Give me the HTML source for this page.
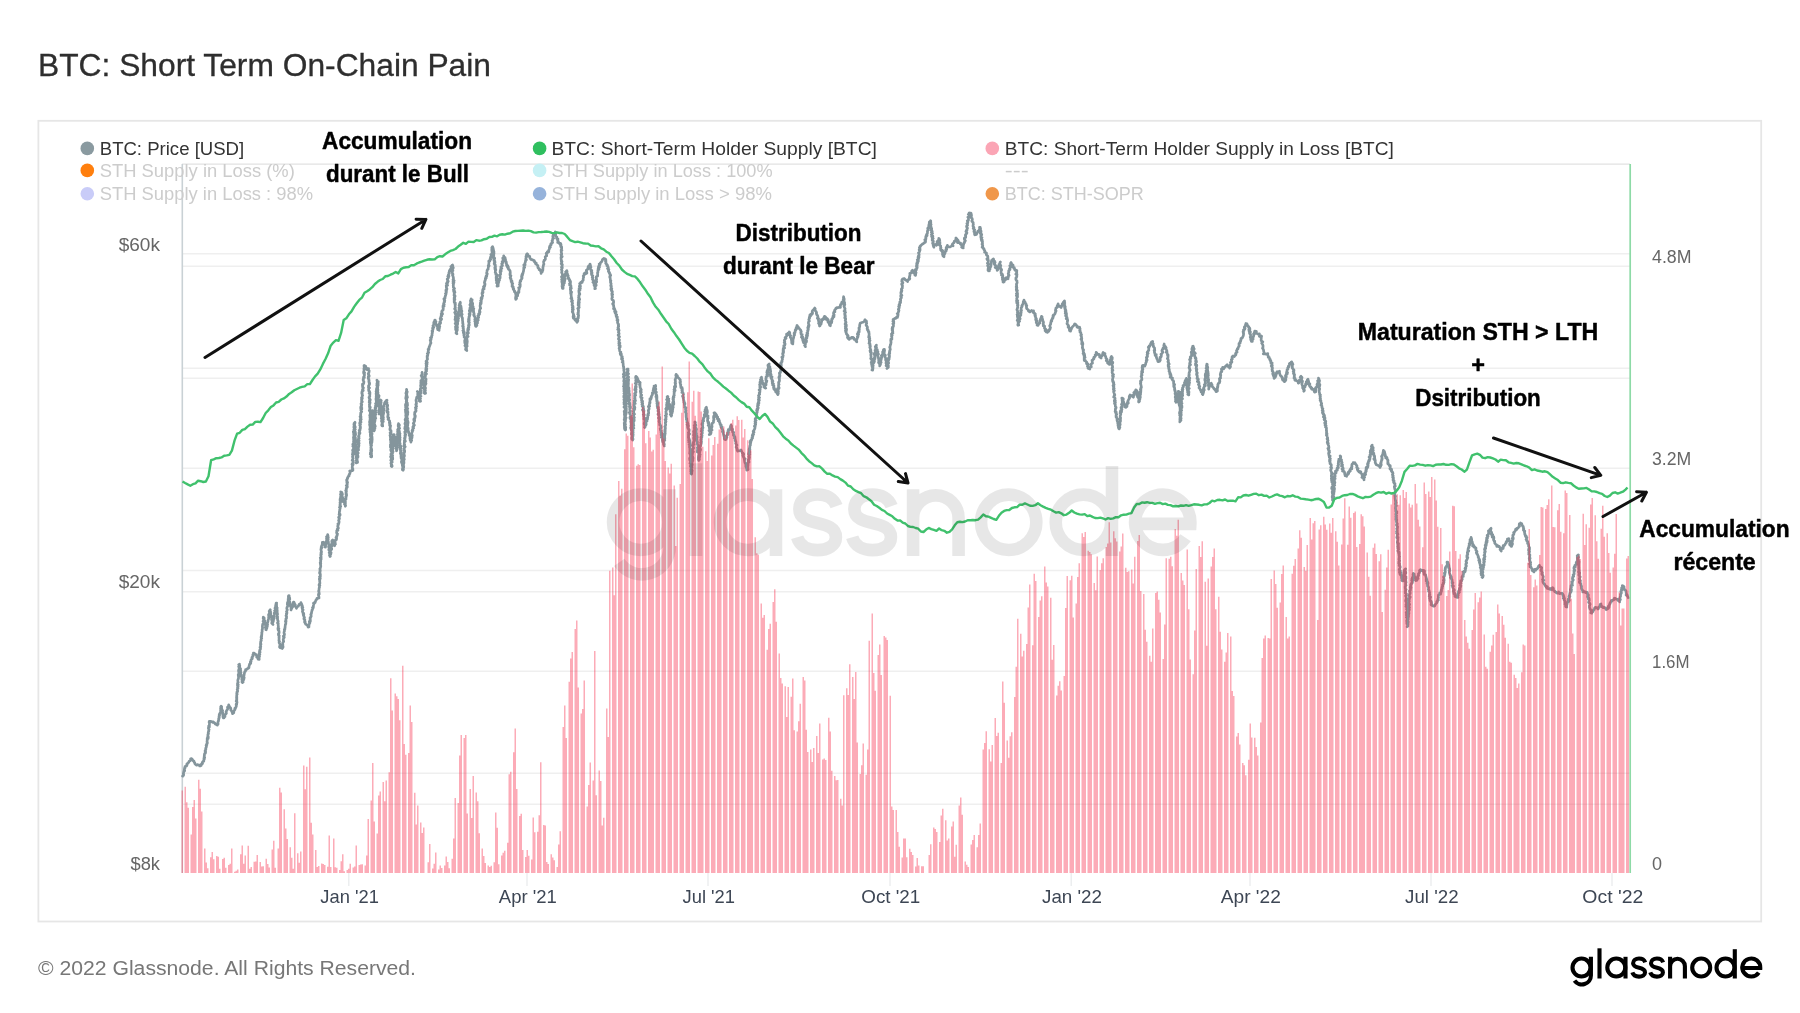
<!DOCTYPE html>
<html><head><meta charset="utf-8"><title>BTC: Short Term On-Chain Pain</title>
<style>
html,body{margin:0;padding:0;background:#fff;}
body{width:1800px;height:1013px;overflow:hidden;font-family:"Liberation Sans",sans-serif;}
svg{display:block;filter:blur(0.4px)}
</style></head><body>
<svg width="1800" height="1013" viewBox="0 0 1800 1013" font-family="Liberation Sans, sans-serif">
<rect width="1800" height="1013" fill="#fff"/>
<rect x="38.4" y="120.8" width="1722.8" height="800.7" fill="none" stroke="#e6e6e6" stroke-width="1.8"/>
<g stroke="#efefef" stroke-width="1.4"><line x1="182.0" x2="1630.0" y1="253.75" y2="253.75"/><line x1="182.0" x2="1630.0" y1="266.25" y2="266.25"/><line x1="182.0" x2="1630.0" y1="368.25" y2="368.25"/><line x1="182.0" x2="1630.0" y1="378.25" y2="378.25"/><line x1="182.0" x2="1630.0" y1="468.25" y2="468.25"/><line x1="182.0" x2="1630.0" y1="570.50" y2="570.50"/><line x1="182.0" x2="1630.0" y1="591.75" y2="591.75"/><line x1="182.0" x2="1630.0" y1="671.25" y2="671.25"/><line x1="182.0" x2="1630.0" y1="773.25" y2="773.25"/><line x1="182.0" x2="1630.0" y1="804.25" y2="804.25"/></g>
<line x1="182.0" x2="1630.0" y1="164.2" y2="164.2" stroke="#e2e2e2" stroke-width="1.2"/>
<g stroke="#eceeef" stroke-width="1.5"><line x1="348.75" x2="348.75" y1="873" y2="886"/><line x1="527.00" x2="527.00" y1="873" y2="886"/><line x1="708.00" x2="708.00" y1="873" y2="886"/><line x1="890.00" x2="890.00" y1="873" y2="886"/><line x1="1071.25" x2="1071.25" y1="873" y2="886"/><line x1="1250.00" x2="1250.00" y1="873" y2="886"/><line x1="1431.00" x2="1431.00" y1="873" y2="886"/><line x1="1612.00" x2="1612.00" y1="873" y2="886"/></g>
<line x1="182.3" x2="182.3" y1="164" y2="873" stroke="#c9d1d5" stroke-width="1.6"/>
<g font-size="18" ><circle cx="87.3" cy="148.4" r="6.8" fill="#8a9aa0"/><text x="99.75" y="154.6" fill="#333" textLength="144.4" lengthAdjust="spacingAndGlyphs">BTC: Price [USD]</text><circle cx="87.3" cy="170.4" r="6.8" fill="#ff7f0e"/><text x="99.75" y="176.6" fill="#cccccc" textLength="195.1" lengthAdjust="spacingAndGlyphs">STH Supply in Loss (%)</text><circle cx="87.3" cy="193.8" r="6.8" fill="#c9ccf8"/><text x="99.75" y="200.0" fill="#cccccc" textLength="213.3" lengthAdjust="spacingAndGlyphs">STH Supply in Loss : 98%</text><circle cx="539.6" cy="148.4" r="6.8" fill="#2fbf5f"/><text x="551.50" y="154.6" fill="#333" textLength="325.4" lengthAdjust="spacingAndGlyphs">BTC: Short-Term Holder Supply [BTC]</text><circle cx="539.6" cy="170.4" r="6.8" fill="#c5f0f4"/><text x="551.50" y="176.6" fill="#cccccc" textLength="221.1" lengthAdjust="spacingAndGlyphs">STH Supply in Loss : 100%</text><circle cx="539.6" cy="193.8" r="6.8" fill="#96b3db"/><text x="551.50" y="200.0" fill="#cccccc" textLength="220.4" lengthAdjust="spacingAndGlyphs">STH Supply in Loss &gt; 98%</text><circle cx="992.3" cy="148.4" r="6.8" fill="#fba5b5"/><text x="1004.75" y="154.6" fill="#333" textLength="389.1" lengthAdjust="spacingAndGlyphs">BTC: Short-Term Holder Supply in Loss [BTC]</text><text x="1004.75" y="176.6" fill="#cccccc" textLength="23.9" lengthAdjust="spacingAndGlyphs">---</text><circle cx="992.3" cy="193.8" r="6.8" fill="#f0974a"/><text x="1004.75" y="200.0" fill="#cccccc" textLength="139.1" lengthAdjust="spacingAndGlyphs">BTC: STH-SOPR</text></g>
<path d="M182.1 777.0 L182.6 776.1 L182.5 776.1 L183.2 775.7 L183.7 774.9 L183.3 773.5 L183.4 773.1 L183.8 772.6 L183.8 772.2 L183.9 771.1 L184.7 770.7 L184.3 769.4 L184.9 768.4 L184.5 768.2 L185.0 767.1 L185.0 766.5 L186.1 766.1 L186.7 765.9 L187.1 764.6 L186.8 764.1 L187.4 763.9 L187.5 763.6 L187.9 762.8 L188.5 762.7 L189.1 761.6 L189.1 761.2 L190.1 760.8 L190.8 760.2 L190.6 758.8 L191.5 758.6 L191.7 759.1 L192.2 759.1 L192.3 759.4 L193.3 760.9 L194.0 761.1 L194.2 762.3 L194.8 762.9 L194.9 763.7 L195.4 764.2 L196.6 765.2 L197.2 764.7 L197.7 764.7 L198.9 765.1 L199.7 765.1 L199.8 766.0 L200.3 765.9 L201.1 765.6 L201.2 764.3 L201.6 764.4 L201.9 763.7 L202.5 763.5 L202.2 762.5 L202.9 761.6 L203.8 761.2 L203.9 759.7 L204.3 759.0 L203.9 759.0 L204.0 757.8 L204.7 757.8 L204.2 756.6 L204.3 755.7 L204.4 755.9 L204.4 754.5 L204.6 753.7 L205.1 753.7 L205.5 752.9 L205.6 751.6 L205.2 751.9 L205.1 750.6 L205.7 749.9 L205.9 749.0 L205.7 749.2 L205.7 748.4 L205.9 747.8 L206.5 746.7 L206.1 745.4 L206.9 744.8 L206.4 744.7 L207.2 743.2 L207.4 743.0 L207.0 741.8 L207.1 742.0 L207.2 740.4 L207.1 739.7 L207.4 739.7 L207.2 738.2 L208.2 738.3 L208.3 736.8 L207.7 736.8 L207.9 735.9 L207.9 734.5 L208.0 734.5 L208.5 733.6 L208.2 732.9 L208.3 732.1 L208.8 731.1 L208.6 731.1 L208.9 729.7 L209.1 729.6 L208.4 728.3 L208.5 727.4 L209.4 727.0 L209.3 726.0 L208.6 726.1 L209.4 725.5 L209.4 724.3 L209.5 723.2 L209.4 722.8 L209.1 722.3 L209.3 721.4 L210.1 721.3 L210.7 721.4 L212.0 721.7 L212.6 721.9 L212.7 722.4 L213.4 722.0 L214.3 722.9 L214.8 723.1 L215.3 724.0 L216.0 724.0 L216.5 724.7 L217.5 724.7 L217.4 725.2 L217.2 724.3 L218.1 723.9 L217.5 723.4 L217.9 722.8 L218.1 721.4 L218.4 721.4 L218.4 720.7 L218.8 719.5 L218.6 719.0 L218.8 718.2 L219.2 718.0 L219.3 716.6 L219.0 716.2 L219.6 715.3 L219.2 714.8 L219.5 713.8 L219.9 714.0 L220.0 713.1 L220.5 712.5 L220.7 711.4 L220.6 710.4 L220.9 709.9 L220.7 709.7 L220.6 708.3 L221.3 708.0 L220.7 706.8 L221.1 706.1 L221.7 706.9 L221.3 707.8 L221.7 708.5 L221.9 709.4 L221.9 709.4 L222.6 710.7 L221.8 711.0 L222.6 712.2 L222.1 711.9 L222.6 712.9 L223.2 713.9 L222.7 714.1 L223.1 715.2 L222.9 715.4 L222.9 716.2 L223.0 717.2 L223.6 717.4 L223.3 717.9 L224.0 717.9 L224.3 716.8 L225.0 716.7 L224.8 715.7 L224.8 715.8 L224.9 714.9 L225.6 714.2 L226.0 714.0 L226.4 713.2 L226.0 711.8 L226.4 711.3 L226.4 711.1 L226.7 710.4 L227.7 708.9 L227.9 708.5 L227.5 707.5 L227.5 707.1 L228.1 706.7 L228.8 705.2 L228.7 704.8 L228.7 705.2 L229.1 706.3 L229.5 706.3 L229.6 707.2 L230.3 707.7 L230.7 708.2 L230.9 709.2 L230.7 710.0 L231.2 710.4 L231.7 711.2 L231.9 711.5 L232.5 713.2 L232.5 713.7 L232.6 713.6 L233.4 712.5 L233.8 712.8 L233.7 712.0 L234.2 710.4 L234.8 709.8 L235.1 709.2 L234.8 708.4 L235.9 707.6 L235.9 707.3 L236.2 706.4 L236.4 706.0 L236.1 704.6 L236.7 704.3 L236.3 704.0 L236.9 702.9 L237.0 702.5 L236.8 701.3 L236.2 701.0 L236.9 699.9 L236.7 699.4 L236.5 698.9 L236.9 697.9 L236.5 697.3 L236.8 696.8 L236.7 695.8 L236.7 695.1 L237.2 694.1 L236.7 693.8 L236.9 693.1 L236.9 692.0 L237.3 692.1 L237.7 691.0 L237.3 689.9 L237.2 689.4 L237.9 688.5 L238.0 688.2 L237.5 687.3 L238.1 686.5 L237.8 686.1 L237.4 685.1 L238.3 685.0 L238.1 684.4 L237.5 683.5 L238.2 682.3 L238.0 682.4 L237.9 681.4 L237.8 680.6 L237.9 679.8 L238.1 679.4 L238.5 678.4 L238.5 677.6 L238.7 676.7 L238.4 676.3 L238.3 675.1 L238.2 675.0 L238.3 674.4 L238.6 673.9 L239.0 673.0 L238.6 671.6 L238.8 671.6 L239.2 670.4 L238.5 670.4 L239.1 669.2 L239.2 668.2 L239.0 668.0 L239.2 666.8 L238.7 666.6 L239.5 665.4 L238.7 664.6 L239.5 664.2 L239.3 665.5 L239.6 665.5 L239.8 665.9 L239.5 667.3 L239.5 667.3 L240.0 668.3 L240.6 668.7 L240.5 669.7 L240.6 670.4 L240.6 671.0 L240.3 671.8 L241.0 672.4 L240.5 673.1 L240.5 673.7 L241.1 674.6 L241.3 675.0 L240.8 675.4 L241.3 676.3 L241.6 677.1 L241.9 678.1 L241.9 679.0 L241.9 679.4 L241.8 679.7 L242.4 680.9 L241.9 682.0 L242.5 682.4 L242.4 682.6 L243.2 682.0 L242.7 682.2 L242.6 681.0 L243.1 680.1 L243.8 679.6 L243.0 678.9 L243.2 678.4 L244.2 677.8 L243.5 676.8 L244.0 675.9 L244.1 674.9 L244.1 674.5 L244.3 674.1 L244.4 673.3 L244.7 671.7 L245.4 671.3 L245.6 670.6 L245.6 669.5 L246.3 669.6 L247.3 668.8 L247.0 669.1 L248.5 668.2 L249.0 667.6 L248.9 666.8 L249.3 665.6 L249.2 665.6 L249.4 664.8 L249.6 664.1 L250.3 663.9 L250.8 663.0 L250.3 662.3 L250.4 661.6 L251.1 661.4 L251.0 660.3 L251.1 659.7 L251.7 659.1 L252.3 658.7 L252.0 657.9 L251.9 657.5 L252.9 656.4 L253.1 655.6 L252.8 654.9 L253.0 654.6 L253.7 653.9 L253.4 653.1 L254.1 653.1 L254.6 653.5 L254.7 653.8 L255.6 654.6 L256.2 654.7 L256.6 655.9 L256.9 656.8 L256.7 657.2 L257.9 657.2 L258.0 658.7 L258.1 659.2 L259.2 659.4 L258.5 658.5 L259.2 658.1 L258.8 657.4 L259.5 656.5 L258.7 656.5 L259.1 655.3 L259.8 654.5 L259.0 654.5 L259.2 653.1 L260.0 652.5 L260.1 652.0 L259.5 651.2 L259.9 650.9 L259.8 650.2 L259.8 649.9 L260.5 649.1 L260.5 647.8 L260.0 647.3 L260.0 647.4 L260.8 646.7 L260.5 645.3 L260.5 644.6 L261.0 644.1 L260.5 644.2 L260.5 643.5 L260.7 642.6 L260.6 642.2 L260.9 641.0 L261.3 640.6 L261.0 639.5 L261.4 638.6 L261.7 638.2 L261.1 637.5 L261.2 636.7 L261.7 636.1 L261.5 635.3 L261.8 635.0 L261.8 634.3 L261.9 632.9 L261.7 632.9 L262.1 631.7 L262.2 631.4 L262.1 630.2 L262.2 629.1 L262.5 628.9 L262.5 628.1 L262.6 627.6 L262.4 627.2 L262.4 626.3 L262.5 625.5 L262.7 624.1 L263.1 624.1 L263.4 623.4 L263.7 621.8 L263.1 621.2 L263.6 620.9 L263.7 620.5 L264.0 619.7 L264.0 618.9 L263.2 618.6 L263.3 617.1 L264.2 618.0 L264.2 618.4 L263.9 619.8 L263.8 620.4 L264.9 620.8 L264.8 622.0 L264.8 622.8 L265.1 622.7 L264.7 624.0 L265.6 624.4 L265.4 624.9 L265.8 625.9 L265.6 626.8 L265.3 627.5 L266.1 628.3 L265.8 628.3 L265.8 629.7 L266.2 629.8 L266.4 629.4 L266.3 628.3 L266.9 628.0 L266.6 626.6 L267.3 626.5 L267.1 625.5 L267.6 624.8 L267.0 623.8 L267.3 623.6 L267.4 623.3 L267.8 622.1 L268.0 621.6 L268.0 620.8 L268.1 620.2 L268.5 619.2 L268.6 618.6 L268.8 617.7 L268.6 617.4 L268.9 616.5 L268.6 615.8 L269.0 615.6 L268.6 614.5 L268.9 614.6 L269.3 613.5 L269.3 612.9 L269.9 612.2 L269.2 611.3 L269.9 610.2 L270.3 609.7 L269.9 610.8 L270.3 611.3 L270.7 612.1 L270.3 612.3 L270.6 613.3 L270.8 614.0 L270.3 614.4 L270.6 615.1 L271.4 616.3 L270.9 617.2 L271.4 617.2 L271.7 618.1 L272.0 618.7 L271.5 619.6 L272.1 620.8 L272.0 620.9 L272.0 622.1 L271.7 623.1 L272.6 623.8 L272.6 624.2 L273.0 624.5 L272.4 623.7 L272.4 623.7 L272.4 622.9 L272.9 622.3 L273.3 621.4 L273.5 620.1 L273.1 619.7 L273.4 619.4 L273.9 618.8 L274.1 618.0 L273.6 617.2 L274.2 616.8 L273.9 615.6 L274.3 614.8 L274.6 613.9 L274.5 613.7 L274.2 613.1 L274.6 612.8 L275.1 611.8 L275.2 611.4 L274.6 610.7 L275.4 610.2 L275.5 608.9 L275.0 608.4 L275.1 607.8 L275.6 607.2 L275.5 606.0 L276.2 605.6 L275.8 604.8 L276.0 604.2 L276.1 603.1 L276.7 603.0 L276.6 603.1 L276.1 604.3 L276.7 604.9 L276.2 605.7 L276.6 606.0 L276.7 606.8 L276.8 607.8 L277.2 607.9 L276.8 609.4 L277.0 609.7 L277.2 609.9 L277.2 611.2 L277.1 611.6 L277.2 612.1 L277.2 613.0 L277.6 614.2 L277.2 614.9 L277.2 615.4 L277.0 616.4 L277.7 617.0 L277.1 617.8 L277.1 618.3 L277.6 618.5 L277.6 620.0 L277.8 620.2 L278.1 621.0 L278.2 621.7 L277.5 623.0 L277.5 623.0 L278.3 623.6 L278.1 625.0 L278.2 625.3 L278.4 626.4 L278.3 627.0 L278.1 627.5 L278.9 628.7 L277.9 628.7 L278.2 630.0 L278.2 630.1 L278.9 630.8 L279.1 631.8 L279.1 632.9 L278.5 633.6 L278.7 633.7 L278.4 634.9 L279.0 635.3 L279.3 635.9 L279.0 636.5 L279.0 638.0 L279.2 637.9 L279.0 639.1 L279.1 640.1 L278.9 640.7 L279.5 641.4 L279.3 641.3 L279.2 642.6 L279.1 642.7 L279.9 644.2 L280.1 644.9 L279.8 645.6 L280.0 646.0 L279.8 646.1 L279.5 647.0 L280.0 647.6 L281.3 647.9 L281.9 648.3 L282.2 648.5 L283.0 647.2 L282.3 647.0 L283.1 646.3 L282.7 645.5 L282.5 644.4 L282.9 644.2 L282.7 643.7 L282.7 643.0 L283.0 642.2 L283.7 641.6 L283.4 640.7 L283.3 640.1 L283.2 639.4 L283.8 637.9 L284.2 637.5 L283.4 636.7 L283.4 636.0 L284.2 636.0 L284.2 635.2 L284.5 634.3 L284.1 633.2 L284.0 632.8 L284.1 632.2 L284.3 631.4 L284.6 630.7 L284.3 629.6 L284.9 628.9 L285.0 628.9 L284.8 628.2 L285.1 627.5 L285.1 626.6 L285.3 625.4 L285.3 625.1 L285.3 624.5 L285.8 623.9 L285.8 622.6 L285.8 622.4 L286.1 621.0 L285.4 621.3 L285.7 620.4 L286.0 619.4 L285.9 618.8 L286.6 618.1 L286.5 617.2 L286.5 616.8 L286.6 616.4 L286.0 615.8 L286.6 614.4 L286.5 613.5 L286.4 613.6 L287.0 612.9 L286.5 611.5 L286.8 611.2 L287.2 610.3 L287.3 609.8 L287.0 609.3 L286.8 608.4 L287.0 607.1 L287.4 606.9 L287.6 606.0 L288.0 605.7 L287.3 604.2 L288.2 603.9 L287.4 602.9 L288.1 602.2 L287.9 602.0 L287.9 601.3 L288.6 600.7 L288.4 599.8 L288.1 599.1 L288.6 598.3 L288.5 597.7 L288.3 597.0 L289.1 595.6 L288.5 595.8 L288.5 596.3 L289.1 596.3 L289.2 596.9 L289.6 597.8 L289.8 599.1 L289.1 599.3 L289.2 600.3 L289.3 600.3 L289.4 601.7 L289.7 601.8 L290.0 602.7 L290.1 603.8 L290.1 604.0 L290.8 604.4 L290.2 605.7 L290.5 606.4 L291.1 606.5 L290.7 606.9 L291.4 608.0 L291.0 608.5 L291.0 610.0 L291.1 609.1 L291.8 608.5 L291.8 607.8 L291.7 607.7 L292.6 606.9 L292.2 606.7 L292.3 605.3 L292.9 605.4 L293.1 604.1 L293.7 603.5 L293.2 603.7 L293.8 602.8 L293.3 602.2 L293.9 602.1 L294.6 603.8 L294.1 604.0 L295.3 604.6 L294.9 605.7 L295.4 606.6 L296.1 607.2 L296.2 607.2 L296.4 608.3 L296.7 607.7 L297.1 606.7 L298.2 606.3 L297.9 606.3 L298.8 605.3 L299.1 604.3 L299.6 604.5 L300.0 604.2 L300.6 603.7 L300.9 602.6 L301.0 603.0 L301.5 603.8 L301.7 604.3 L301.6 605.1 L302.3 605.4 L301.9 606.9 L302.2 606.9 L302.8 607.4 L302.1 607.9 L302.5 609.4 L302.5 609.5 L303.1 609.9 L302.4 611.2 L302.6 611.8 L302.8 612.7 L303.7 613.3 L303.2 614.2 L303.8 614.4 L303.4 615.5 L303.8 616.1 L304.1 616.8 L304.5 617.7 L303.9 618.2 L304.0 619.1 L304.9 620.0 L304.6 621.3 L305.2 621.9 L304.6 622.2 L305.0 622.7 L305.3 623.2 L305.7 624.3 L306.5 624.5 L306.8 625.2 L307.5 625.1 L308.2 626.1 L308.1 627.1 L309.0 627.0 L308.4 626.4 L309.0 625.6 L308.8 625.1 L309.1 624.5 L309.5 623.4 L309.9 622.8 L309.3 621.9 L309.4 621.3 L310.4 621.1 L310.3 619.6 L310.0 619.0 L310.3 618.7 L310.1 617.8 L310.6 617.3 L311.2 616.3 L311.1 615.6 L311.1 615.4 L310.8 614.6 L311.4 613.7 L311.3 613.7 L311.5 612.5 L311.6 612.2 L311.8 611.4 L311.9 610.7 L312.2 610.5 L312.0 609.9 L312.3 609.6 L313.1 608.2 L313.0 607.8 L312.5 607.6 L313.5 606.9 L313.3 606.4 L313.4 605.4 L313.6 604.9 L314.0 603.7 L313.5 603.2 L314.3 602.6 L315.1 602.6 L315.4 601.4 L315.9 600.2 L316.6 599.3 L317.2 599.0 L317.0 598.3 L317.8 598.4 L318.4 597.8 L319.1 597.9 L318.7 597.5 L318.9 596.5 L318.7 595.8 L318.4 594.8 L319.3 594.0 L318.6 594.0 L318.9 592.9 L319.1 592.4 L318.9 591.7 L318.6 591.1 L319.0 590.2 L319.0 589.6 L319.1 588.7 L319.1 588.2 L319.6 586.8 L319.6 586.9 L319.1 585.4 L319.9 585.4 L319.1 584.5 L319.9 583.3 L319.8 582.6 L319.9 582.1 L319.6 581.0 L319.8 580.9 L319.5 579.5 L319.3 579.0 L320.3 578.7 L320.2 578.0 L319.5 576.9 L320.3 576.7 L320.4 575.9 L320.2 575.2 L320.4 574.1 L319.6 573.3 L319.6 572.5 L320.2 571.8 L319.9 570.9 L320.0 570.6 L320.3 570.3 L319.8 568.9 L319.9 568.8 L320.4 567.8 L320.7 566.5 L320.8 566.1 L320.6 565.4 L320.7 564.6 L320.3 563.8 L320.8 563.3 L320.2 562.5 L320.7 561.8 L320.7 561.5 L320.8 560.8 L320.5 560.1 L321.2 559.1 L320.3 557.9 L321.1 558.0 L321.1 556.9 L321.0 555.8 L321.0 556.0 L320.7 554.9 L321.4 554.2 L320.9 553.1 L321.3 553.0 L321.5 551.8 L321.4 551.5 L321.1 550.7 L321.1 549.4 L320.9 549.2 L321.8 547.7 L321.2 547.2 L321.5 546.9 L321.6 545.9 L322.1 544.9 L322.5 544.2 L322.3 543.7 L322.3 542.4 L323.0 542.2 L322.9 542.7 L323.3 543.2 L323.1 544.2 L324.3 544.5 L324.8 545.6 L325.1 546.7 L324.8 547.0 L325.5 547.1 L325.6 546.1 L325.4 545.6 L325.8 545.0 L325.4 544.3 L326.2 543.4 L325.4 542.3 L326.2 541.9 L326.6 541.4 L326.5 540.2 L326.5 540.1 L327.0 539.6 L326.5 538.5 L327.3 537.4 L326.5 536.8 L327.3 536.2 L327.4 536.0 L327.7 534.5 L327.7 534.6 L327.8 535.3 L328.0 535.8 L328.1 536.4 L327.4 536.9 L328.3 537.6 L327.9 538.9 L328.2 539.5 L328.1 539.9 L327.7 540.3 L327.9 541.3 L328.3 541.6 L328.5 542.3 L328.3 542.9 L328.5 543.8 L329.0 544.7 L329.0 545.4 L328.6 546.4 L328.6 546.8 L329.0 547.9 L329.2 547.6 L329.0 549.2 L329.5 549.2 L328.8 549.8 L329.5 550.3 L329.7 551.1 L329.6 552.1 L329.2 552.6 L329.7 553.0 L329.7 554.0 L330.2 554.3 L329.5 555.2 L329.9 555.8 L330.3 556.2 L330.0 556.5 L329.7 555.6 L330.1 554.6 L330.7 554.6 L331.1 552.6 L330.3 552.7 L330.0 550.8 L330.1 551.4 L330.8 550.1 L330.3 550.2 L331.7 549.3 L331.7 548.6 L330.9 547.5 L331.0 546.8 L331.2 546.1 L330.9 546.7 L332.1 546.0 L331.5 545.0 L331.9 544.9 L331.6 543.9 L332.1 543.8 L331.9 542.0 L332.1 542.7 L331.8 541.8 L331.9 540.7 L332.7 539.9 L332.6 541.1 L332.7 541.8 L333.5 541.6 L333.6 542.7 L333.5 542.9 L333.7 543.6 L334.0 543.4 L334.2 544.5 L334.1 545.2 L334.1 545.1 L334.6 545.7 L334.2 545.2 L334.2 544.5 L334.8 544.2 L335.5 544.1 L334.7 543.4 L335.2 542.4 L334.7 542.3 L335.1 541.0 L335.3 540.4 L335.4 540.0 L335.8 539.6 L336.3 539.9 L336.6 538.6 L336.4 538.5 L336.6 537.6 L336.0 537.5 L336.7 536.4 L336.9 535.3 L337.1 535.6 L337.5 533.7 L337.2 533.9 L336.6 532.8 L336.8 531.5 L336.7 530.8 L337.9 530.4 L338.0 530.1 L337.2 529.2 L338.4 528.1 L337.7 526.6 L338.0 526.1 L337.8 525.8 L338.5 524.4 L337.9 523.9 L338.8 523.4 L338.8 523.2 L339.1 522.0 L339.1 521.7 L338.6 520.3 L338.7 520.5 L339.3 519.2 L339.1 518.3 L339.2 518.2 L339.5 518.1 L338.6 517.6 L338.8 517.0 L340.0 515.3 L339.1 514.5 L340.0 514.8 L340.1 514.2 L339.3 513.5 L339.4 512.2 L339.5 512.1 L339.4 511.3 L339.8 511.0 L339.7 509.8 L339.9 509.2 L340.2 508.1 L339.5 507.3 L339.9 507.8 L340.2 506.9 L340.7 506.5 L339.9 505.0 L340.3 504.4 L340.4 503.6 L340.2 503.8 L340.0 502.4 L340.8 501.8 L341.1 501.7 L341.1 500.9 L340.6 499.8 L340.0 500.1 L340.3 498.2 L341.4 498.2 L340.9 498.0 L341.2 496.4 L340.6 496.2 L341.2 494.9 L340.7 494.6 L340.5 494.4 L341.4 492.7 L341.3 492.7 L340.7 491.8 L341.8 492.5 L341.9 492.9 L342.5 494.2 L342.0 494.0 L341.9 494.8 L342.2 495.7 L342.1 496.6 L342.1 497.1 L342.8 497.4 L343.0 499.0 L343.4 499.5 L342.7 499.6 L343.1 500.5 L343.6 500.7 L344.2 500.4 L343.4 501.8 L344.6 501.8 L343.7 501.7 L344.9 503.3 L344.5 504.2 L345.3 504.1 L345.3 506.3 L345.6 505.6 L345.0 504.5 L344.6 504.2 L345.5 503.0 L344.7 502.0 L345.2 502.4 L345.4 501.7 L345.1 500.2 L345.2 499.6 L346.0 499.1 L345.4 498.9 L345.7 498.6 L346.1 497.9 L345.8 496.6 L345.9 496.8 L346.6 495.6 L346.0 494.3 L346.6 494.4 L346.0 493.1 L346.2 493.3 L346.0 492.0 L346.4 491.7 L345.7 490.4 L346.3 490.6 L346.4 488.8 L346.2 488.2 L347.0 487.5 L347.4 486.8 L346.3 485.6 L346.8 485.5 L347.3 484.9 L347.0 483.3 L347.6 482.8 L346.7 481.9 L347.3 481.7 L346.9 480.4 L346.6 480.1 L347.6 478.6 L347.3 478.3 L348.4 476.2 L349.1 475.9 L349.1 474.5 L349.8 473.8 L349.7 473.7 L350.4 471.8 L349.7 471.0 L350.1 471.5 L351.1 470.8 L351.2 470.6 L351.6 470.7 L352.0 470.7 L352.9 470.2 L352.8 468.5 L352.4 468.7 L352.3 467.5 L352.2 467.2 L352.4 465.8 L353.1 464.6 L352.0 464.4 L352.6 463.2 L352.6 463.4 L353.3 462.9 L353.2 460.9 L352.6 460.7 L352.2 460.4 L352.6 459.7 L353.2 458.2 L352.7 457.8 L352.5 456.4 L352.9 456.0 L352.7 456.0 L353.4 454.7 L352.4 454.5 L352.8 452.8 L353.5 453.2 L352.8 452.0 L353.8 451.2 L353.0 449.9 L352.6 450.2 L353.7 448.5 L353.5 447.8 L353.7 447.3 L353.7 446.8 L352.8 446.1 L353.7 444.6 L352.8 444.2 L353.8 444.4 L353.5 443.5 L353.9 442.0 L353.5 442.0 L353.6 440.8 L354.0 439.6 L353.6 439.4 L353.8 438.9 L353.4 437.8 L353.7 436.6 L354.2 437.0 L353.9 435.5 L353.7 434.8 L353.7 433.8 L354.6 433.2 L353.6 432.9 L353.3 431.7 L354.1 431.6 L353.8 429.8 L354.7 429.0 L354.0 429.0 L354.8 428.0 L353.8 427.2 L354.0 426.3 L354.8 426.0 L354.6 425.0 L354.5 425.1 L353.9 424.4 L354.1 423.4 L355.0 422.3 L355.0 423.0 L354.4 424.4 L354.7 424.0 L354.1 425.4 L354.4 425.4 L355.1 426.5 L355.3 427.3 L354.3 428.1 L355.3 429.5 L354.9 429.3 L354.9 430.1 L354.7 430.4 L354.3 432.5 L355.4 432.2 L355.2 432.7 L355.6 434.2 L355.5 434.7 L355.1 435.9 L355.0 435.6 L354.8 437.5 L355.0 437.1 L355.5 437.9 L355.3 439.5 L355.1 439.7 L356.1 441.1 L356.1 440.7 L356.3 442.1 L355.2 443.4 L355.2 444.2 L355.1 443.6 L355.8 445.1 L356.0 446.1 L355.3 446.7 L355.7 447.8 L356.2 448.1 L355.5 449.2 L355.8 448.9 L356.0 450.4 L355.9 450.7 L356.4 451.1 L355.7 452.1 L356.6 453.2 L356.0 453.9 L356.9 454.7 L356.0 454.5 L357.2 456.2 L356.2 456.9 L356.7 457.5 L356.4 458.3 L356.5 458.6 L356.5 459.9 L357.3 460.0 L356.2 460.6 L357.2 461.5 L356.2 462.9 L356.9 462.6 L357.4 462.5 L357.6 462.3 L357.6 461.7 L357.0 460.9 L357.2 460.0 L356.9 459.2 L356.8 458.9 L357.0 457.8 L357.9 457.5 L358.0 456.2 L357.0 456.3 L357.4 455.5 L357.6 454.2 L357.8 453.6 L358.2 453.0 L357.4 452.3 L357.4 452.0 L357.5 450.6 L358.2 449.9 L358.6 449.9 L357.9 448.7 L358.5 448.1 L358.5 447.2 L358.4 446.8 L358.9 445.8 L358.9 444.9 L358.2 444.3 L359.1 443.4 L358.3 443.2 L359.0 442.8 L358.2 441.8 L359.1 440.7 L358.3 441.0 L358.2 439.3 L358.5 439.6 L358.8 438.4 L359.1 438.3 L358.5 436.7 L359.0 436.6 L358.7 435.6 L359.4 434.4 L359.1 433.7 L360.0 433.0 L359.0 433.1 L359.1 432.4 L359.4 432.3 L359.7 430.7 L359.2 430.2 L360.1 429.9 L360.1 428.9 L360.5 428.0 L360.0 428.1 L360.4 426.8 L360.4 426.5 L359.8 425.3 L360.5 424.6 L360.0 424.1 L359.6 423.1 L361.0 422.3 L360.8 421.2 L360.1 421.2 L360.2 421.0 L361.2 419.4 L360.1 419.5 L361.0 418.1 L360.1 416.7 L361.0 416.8 L360.7 415.6 L360.5 414.9 L360.8 414.4 L360.8 413.3 L360.6 413.0 L361.7 411.6 L361.5 411.4 L360.8 410.0 L361.7 409.2 L360.8 408.4 L361.8 408.0 L360.7 407.1 L361.5 406.6 L361.0 406.4 L361.8 404.8 L361.4 404.0 L361.0 403.8 L361.4 403.1 L362.3 401.8 L361.5 401.1 L361.9 399.9 L361.8 399.5 L361.5 399.5 L362.3 398.2 L361.5 397.8 L362.0 397.3 L362.4 395.6 L362.6 395.3 L362.1 394.9 L362.2 393.3 L361.8 393.2 L362.2 391.8 L361.9 392.0 L362.3 391.4 L363.2 390.6 L362.3 390.1 L363.0 389.2 L363.4 387.7 L362.7 387.8 L362.7 386.0 L362.4 385.9 L362.8 385.7 L362.4 384.2 L363.5 383.7 L363.7 383.1 L363.8 382.8 L363.9 381.5 L363.3 380.7 L363.1 379.6 L363.5 379.1 L363.4 377.9 L364.3 377.5 L363.7 376.8 L363.8 376.7 L364.4 375.7 L364.5 374.6 L363.9 373.8 L364.6 372.8 L363.6 373.0 L363.7 371.3 L364.0 371.1 L364.1 370.0 L364.0 369.4 L363.9 369.1 L364.0 368.1 L365.0 368.4 L364.3 367.3 L364.0 366.0 L364.6 366.7 L364.1 365.4 L365.7 366.3 L366.1 368.3 L366.9 369.6 L367.8 369.2 L367.3 368.6 L368.6 368.6 L368.1 369.6 L368.5 370.2 L369.2 370.8 L369.1 371.4 L368.9 372.6 L368.5 373.4 L368.2 373.8 L368.6 374.5 L369.2 375.9 L369.0 376.7 L368.3 376.5 L368.3 378.4 L368.9 379.3 L368.7 379.3 L369.1 380.7 L368.9 380.9 L368.8 381.3 L369.6 383.0 L369.0 382.7 L369.6 383.9 L369.4 384.6 L368.5 385.8 L368.6 386.8 L368.7 386.7 L368.5 387.3 L369.5 387.9 L368.7 388.6 L368.6 390.0 L368.9 391.1 L369.6 391.5 L370.0 392.9 L369.1 393.4 L369.7 393.3 L369.9 393.8 L369.7 395.8 L369.7 396.3 L369.8 396.6 L369.0 397.3 L369.4 398.7 L370.2 399.7 L369.4 400.3 L370.3 399.9 L369.8 400.7 L369.2 402.0 L370.1 402.3 L369.6 403.5 L369.9 403.7 L369.4 404.3 L369.6 406.4 L369.4 406.8 L370.1 407.6 L370.3 407.2 L369.7 409.0 L370.1 409.8 L369.3 410.5 L369.8 411.2 L370.1 411.3 L370.0 411.5 L370.6 413.4 L370.2 413.9 L370.4 414.3 L369.7 415.3 L370.8 416.3 L370.5 416.1 L369.9 417.0 L370.2 418.6 L370.3 418.8 L370.1 419.0 L369.9 420.8 L370.8 421.1 L370.5 421.2 L369.6 421.6 L369.6 422.5 L370.9 423.8 L369.9 423.8 L369.6 424.4 L369.8 425.5 L369.9 426.1 L370.5 426.6 L369.9 428.2 L370.1 428.7 L370.1 429.5 L369.7 429.6 L370.9 430.3 L370.6 430.9 L369.9 431.9 L370.4 432.1 L370.5 433.3 L370.3 434.5 L371.1 434.7 L370.3 435.9 L370.9 436.2 L370.7 436.7 L370.9 437.7 L371.1 438.0 L370.0 439.5 L370.8 440.1 L371.0 440.8 L370.5 441.6 L370.9 441.7 L370.3 441.9 L370.4 442.9 L370.5 444.0 L371.4 444.7 L371.0 444.6 L371.1 446.0 L371.2 446.5 L371.0 447.4 L371.2 448.0 L371.3 449.3 L370.9 449.5 L371.2 450.2 L371.6 451.5 L370.9 451.8 L370.4 452.8 L371.1 452.3 L370.3 454.1 L371.4 454.5 L370.9 454.7 L371.0 456.3 L371.2 455.8 L370.7 456.6 L371.6 456.9 L371.7 455.6 L370.9 454.4 L370.8 454.1 L371.0 453.4 L371.5 453.4 L371.0 452.7 L370.9 451.2 L371.7 450.2 L370.7 450.8 L371.2 449.3 L371.7 449.3 L371.1 448.4 L370.8 447.8 L371.2 446.4 L370.7 445.3 L371.2 444.7 L371.6 445.2 L371.1 444.1 L371.6 443.2 L371.9 442.4 L372.0 441.2 L371.8 441.0 L371.1 439.9 L372.2 439.8 L371.6 438.9 L372.1 438.3 L371.2 438.1 L372.1 437.2 L371.9 436.3 L371.4 436.0 L372.0 434.2 L372.1 433.8 L371.1 433.8 L371.4 432.4 L371.2 431.9 L371.8 431.6 L372.4 431.0 L372.1 429.6 L372.5 428.6 L371.6 428.4 L371.7 427.7 L371.4 426.6 L371.3 426.1 L371.6 426.0 L371.6 424.4 L372.3 423.7 L372.5 423.4 L371.5 423.0 L372.7 421.7 L372.1 421.4 L372.7 421.3 L371.5 419.7 L372.6 419.1 L372.2 418.6 L371.5 417.1 L372.7 416.9 L372.1 416.4 L372.6 416.2 L371.7 415.1 L371.6 414.2 L372.7 413.4 L372.1 413.2 L372.6 412.6 L372.4 411.0 L372.6 410.5 L371.7 410.7 L373.1 412.0 L371.9 412.8 L372.9 412.5 L373.3 413.3 L372.7 414.7 L372.7 414.8 L372.8 415.8 L373.5 416.8 L373.6 417.3 L373.0 417.3 L373.6 418.7 L372.8 419.2 L373.0 418.8 L373.2 420.6 L373.3 421.1 L373.8 421.7 L373.1 422.5 L372.9 422.6 L372.9 423.1 L374.1 424.3 L374.3 424.6 L373.7 424.6 L373.7 426.3 L373.6 426.9 L373.6 427.4 L373.5 428.3 L373.5 427.7 L374.1 429.3 L374.4 429.4 L374.5 429.8 L374.0 430.6 L373.9 431.0 L373.9 431.0 L374.5 430.0 L374.6 429.3 L374.9 428.2 L374.9 428.7 L374.7 427.6 L375.3 426.3 L374.1 426.1 L375.0 425.4 L374.7 424.6 L374.7 424.5 L374.2 423.5 L374.3 423.1 L374.6 422.3 L374.7 421.4 L375.0 421.1 L375.0 419.8 L375.1 418.8 L375.7 418.2 L374.7 417.3 L375.5 417.6 L375.4 417.0 L374.9 416.2 L375.7 414.5 L374.8 414.1 L375.3 413.5 L375.8 412.5 L375.2 411.9 L375.1 411.4 L375.7 410.5 L375.1 410.4 L375.1 409.9 L375.9 408.3 L375.1 408.5 L375.1 407.7 L375.9 406.9 L375.5 406.2 L375.6 405.3 L376.6 404.6 L375.6 403.5 L376.0 403.6 L376.5 402.3 L376.3 401.5 L376.2 400.8 L376.9 400.2 L376.0 399.8 L376.0 398.4 L376.3 398.7 L376.2 397.2 L376.2 397.0 L376.2 396.2 L376.6 394.8 L376.4 395.2 L376.2 394.4 L376.1 393.3 L376.6 392.9 L376.1 391.4 L376.7 391.9 L376.9 391.1 L377.0 390.6 L376.4 389.7 L376.7 388.1 L377.1 387.7 L377.8 387.7 L377.4 386.0 L376.8 385.6 L377.0 384.6 L376.9 384.0 L377.0 383.1 L377.1 383.5 L377.9 382.4 L378.1 382.1 L376.9 380.2 L377.3 381.6 L378.3 381.6 L377.9 383.4 L377.3 384.0 L378.2 383.8 L378.0 385.1 L378.2 385.3 L378.0 385.8 L377.2 387.2 L377.7 387.9 L377.5 389.4 L377.9 389.4 L377.8 390.6 L377.6 391.4 L377.7 392.1 L378.0 392.4 L377.8 393.4 L377.8 394.1 L378.5 395.0 L379.0 395.6 L377.9 396.3 L377.8 397.0 L379.0 396.8 L377.8 398.5 L378.3 399.0 L379.0 400.1 L378.6 400.7 L379.2 401.3 L378.5 402.2 L378.6 402.9 L378.6 403.1 L378.1 403.2 L379.4 404.5 L379.2 405.2 L379.2 406.0 L378.5 406.4 L379.2 406.9 L379.7 407.5 L379.2 409.4 L379.4 409.1 L378.6 410.6 L379.1 410.4 L378.7 412.0 L378.6 412.2 L379.9 412.8 L379.9 413.2 L379.0 414.0 L379.8 414.0 L379.9 413.7 L379.9 412.0 L379.6 411.2 L380.1 411.0 L379.7 411.1 L380.5 410.0 L379.7 409.7 L380.4 408.1 L379.9 408.4 L380.7 407.7 L380.1 405.9 L380.7 405.3 L380.4 404.8 L380.8 404.1 L380.2 404.1 L380.7 403.6 L379.9 401.6 L380.8 401.5 L381.1 400.7 L380.0 400.0 L380.3 399.8 L381.2 400.6 L380.2 400.8 L380.4 402.1 L380.4 402.4 L381.2 402.4 L381.1 403.0 L380.4 404.0 L380.5 404.9 L381.3 406.3 L380.8 406.3 L381.4 406.8 L381.0 407.6 L381.7 408.3 L381.7 408.7 L381.1 409.6 L381.0 410.1 L381.3 411.8 L381.7 412.7 L381.3 412.5 L381.2 413.4 L381.1 414.6 L381.6 414.2 L381.7 415.4 L381.3 416.0 L382.0 417.6 L382.0 417.3 L381.2 418.1 L381.6 419.0 L381.9 419.5 L381.5 421.1 L382.7 421.5 L382.7 422.0 L382.5 422.5 L382.4 423.8 L382.5 424.4 L382.4 424.5 L382.7 426.0 L382.0 425.7 L381.7 425.0 L382.0 424.3 L382.1 423.7 L382.1 423.9 L382.0 421.9 L383.3 421.7 L383.1 420.9 L382.1 419.8 L383.4 419.1 L382.8 418.7 L383.1 418.1 L383.4 417.2 L383.1 417.5 L383.2 416.8 L382.5 416.0 L383.1 415.4 L383.5 413.7 L383.7 412.8 L383.4 412.9 L383.0 411.3 L384.0 410.7 L383.9 410.4 L383.2 410.2 L383.5 408.7 L384.2 409.0 L383.5 408.3 L383.2 407.3 L384.0 405.8 L383.8 405.2 L384.4 404.7 L384.4 404.5 L384.5 403.0 L385.0 403.5 L385.0 402.1 L386.2 401.3 L386.5 400.9 L385.8 401.0 L387.0 400.2 L386.2 400.5 L385.9 402.1 L387.0 402.3 L386.8 403.7 L387.1 404.4 L387.5 404.6 L387.7 405.9 L386.9 406.7 L386.9 407.1 L387.7 408.5 L387.5 409.3 L387.9 409.4 L386.9 411.0 L387.0 411.1 L387.1 412.0 L388.1 412.1 L387.8 413.4 L388.2 414.8 L388.2 414.4 L387.9 415.7 L387.7 416.9 L388.0 416.8 L387.9 417.7 L388.8 417.8 L388.5 418.6 L388.1 419.4 L389.0 420.3 L389.6 421.0 L389.7 421.6 L389.5 422.5 L389.9 422.9 L389.3 422.8 L390.1 423.0 L389.6 424.8 L389.6 424.9 L389.8 425.8 L390.6 425.7 L390.2 427.5 L390.2 428.4 L390.0 428.4 L389.9 429.6 L390.4 430.3 L390.7 430.2 L391.0 430.6 L391.1 432.3 L390.1 432.7 L390.3 433.3 L391.2 434.0 L390.7 434.1 L390.0 435.4 L390.5 436.8 L390.7 437.4 L390.8 438.2 L390.4 437.6 L391.1 439.2 L390.3 439.3 L390.7 441.0 L391.0 441.0 L390.9 441.6 L390.7 442.1 L391.1 442.6 L390.9 443.4 L390.4 445.0 L391.4 445.4 L391.6 446.4 L391.0 446.9 L390.3 446.9 L391.4 448.0 L391.7 448.5 L390.8 449.2 L391.7 450.4 L390.8 450.4 L391.2 451.0 L391.7 451.9 L391.5 453.6 L390.9 454.0 L391.5 454.5 L391.1 455.8 L390.9 456.0 L390.6 456.8 L392.0 457.2 L391.7 457.8 L391.2 458.6 L391.9 459.2 L390.8 460.3 L391.5 461.0 L391.4 461.3 L391.8 462.0 L391.2 462.6 L390.9 463.3 L391.8 464.3 L391.5 464.8 L391.2 466.1 L392.2 466.0 L391.9 466.5 L391.7 465.7 L391.3 464.8 L391.2 463.3 L391.2 462.3 L392.2 462.0 L391.7 461.9 L391.6 461.3 L391.5 460.8 L392.5 459.4 L392.7 459.2 L392.7 457.8 L392.0 457.1 L392.1 456.8 L392.7 455.8 L392.3 455.0 L392.2 454.0 L392.4 454.1 L392.5 453.8 L392.5 452.3 L393.1 451.8 L392.1 451.2 L392.8 450.2 L392.2 449.3 L392.7 449.0 L393.1 448.0 L392.9 447.3 L392.3 446.6 L393.0 446.8 L392.7 446.2 L393.3 445.6 L393.1 444.3 L392.8 444.1 L392.7 442.7 L393.7 442.9 L393.3 442.1 L392.5 441.3 L393.3 440.0 L392.9 439.8 L393.8 439.3 L392.6 438.3 L393.1 437.2 L392.7 437.0 L393.1 435.9 L393.4 436.0 L393.2 434.9 L393.7 434.5 L394.1 434.5 L394.3 435.1 L393.8 436.8 L394.6 436.9 L394.4 437.9 L393.6 438.5 L394.9 438.3 L394.3 439.2 L395.3 440.5 L394.3 440.3 L394.4 440.4 L394.6 442.2 L395.7 441.7 L395.4 442.9 L395.3 443.7 L394.9 443.5 L395.1 444.9 L396.2 444.8 L395.3 446.0 L396.4 446.6 L396.7 447.0 L396.2 447.9 L395.9 448.7 L396.2 448.8 L397.1 449.0 L396.5 450.8 L396.7 450.2 L397.1 448.6 L396.9 448.0 L397.2 447.8 L397.0 446.3 L397.5 445.7 L397.3 445.9 L397.1 444.1 L397.3 443.5 L396.8 442.9 L396.8 442.8 L397.7 441.9 L398.0 440.6 L397.2 440.3 L397.5 440.1 L397.2 439.0 L397.4 438.2 L397.0 438.1 L397.0 436.9 L397.3 436.2 L398.1 436.1 L398.3 435.1 L397.6 433.6 L397.4 434.1 L397.8 432.7 L397.8 432.1 L397.6 431.3 L398.1 431.0 L397.6 429.8 L397.6 429.7 L398.5 429.6 L398.2 428.6 L398.8 427.9 L398.5 426.7 L398.7 426.9 L398.2 426.2 L398.2 424.8 L398.4 424.7 L398.5 423.7 L399.4 425.1 L398.5 425.0 L399.1 427.0 L399.2 427.5 L399.6 428.3 L398.5 428.8 L398.9 429.7 L398.6 430.6 L399.4 430.9 L399.4 431.8 L399.5 432.8 L400.0 433.6 L398.7 433.8 L399.7 434.6 L399.9 436.0 L399.3 436.7 L400.1 437.7 L399.5 438.4 L399.8 439.1 L400.1 439.9 L399.5 440.3 L399.8 441.2 L399.5 441.9 L399.8 443.5 L400.1 443.3 L400.1 444.2 L399.5 445.4 L400.2 446.3 L400.4 445.9 L401.0 446.4 L399.9 447.1 L399.9 447.7 L401.0 448.4 L400.5 449.1 L400.3 449.6 L400.5 450.5 L401.1 452.2 L400.4 452.1 L401.1 453.4 L400.4 453.6 L400.9 454.0 L401.4 454.9 L401.0 455.7 L401.4 455.5 L400.9 456.1 L401.9 457.6 L401.0 457.9 L401.0 457.8 L401.9 459.1 L401.6 459.5 L401.8 460.1 L401.6 461.5 L401.4 461.8 L401.6 462.1 L401.5 462.6 L402.4 463.1 L402.2 464.6 L402.5 464.6 L402.3 465.6 L402.9 467.1 L402.7 467.7 L402.5 468.7 L403.0 469.3 L402.4 469.7 L403.1 470.4 L403.5 469.1 L402.5 468.8 L402.7 468.7 L403.7 467.3 L403.6 466.8 L403.8 466.0 L402.8 466.0 L403.0 464.0 L403.7 464.1 L403.9 462.8 L404.0 462.9 L403.7 461.1 L403.9 460.9 L403.1 460.1 L404.3 459.4 L403.7 459.5 L404.1 458.1 L403.6 457.7 L403.9 457.2 L404.1 455.7 L404.5 455.8 L404.0 454.1 L404.0 454.3 L403.8 452.8 L404.4 452.6 L404.7 451.4 L404.6 450.4 L403.7 450.3 L404.0 449.8 L404.2 448.3 L405.0 447.1 L405.2 446.7 L403.9 446.0 L404.1 445.1 L404.7 444.8 L404.3 444.6 L404.3 442.6 L404.5 441.7 L405.4 441.2 L404.3 441.0 L404.8 439.6 L405.0 438.9 L404.5 438.6 L404.7 437.6 L405.1 437.8 L405.3 436.5 L404.9 435.6 L404.9 435.4 L405.8 434.7 L405.1 433.8 L405.0 433.1 L405.9 431.5 L404.7 431.9 L405.4 430.9 L405.8 430.2 L404.8 428.7 L405.2 428.8 L405.7 427.2 L404.9 427.3 L406.0 425.5 L405.2 424.8 L405.4 424.0 L405.4 423.5 L404.9 423.8 L405.1 423.1 L405.9 421.5 L405.4 420.8 L405.3 420.4 L405.1 419.6 L405.7 418.4 L406.3 417.8 L405.9 417.6 L406.1 416.7 L405.7 415.7 L406.1 414.5 L405.9 414.9 L405.8 413.6 L406.1 413.4 L405.6 412.4 L406.3 411.8 L405.5 411.6 L405.7 410.4 L405.3 409.8 L406.1 409.4 L405.6 407.5 L405.8 407.4 L406.3 406.5 L406.5 406.6 L405.5 406.1 L405.5 404.4 L405.6 404.5 L406.8 403.0 L406.3 403.3 L406.6 401.6 L406.2 401.9 L406.8 400.6 L406.4 399.3 L406.2 399.7 L405.7 398.1 L406.4 397.2 L405.9 397.5 L406.0 396.5 L407.0 395.8 L406.7 394.5 L406.5 394.5 L406.5 393.7 L405.9 393.2 L406.3 392.7 L406.2 392.3 L406.5 391.5 L406.6 390.0 L406.5 389.3 L406.7 390.2 L406.3 391.8 L407.3 391.8 L406.8 393.0 L406.9 393.1 L406.7 394.4 L406.2 394.6 L406.2 395.5 L406.1 396.0 L406.3 396.6 L407.5 397.2 L406.7 398.7 L406.5 398.6 L406.8 399.9 L406.5 400.1 L406.3 400.9 L406.8 402.0 L406.7 402.7 L407.4 403.0 L407.3 404.4 L407.6 405.1 L407.3 405.7 L406.9 406.8 L406.7 406.8 L406.6 407.7 L407.7 408.6 L406.5 409.7 L406.6 409.4 L407.2 409.9 L407.6 411.6 L407.9 412.2 L407.2 412.4 L407.0 413.7 L407.8 413.8 L407.4 415.1 L407.0 415.9 L407.1 416.1 L407.0 417.7 L406.8 417.5 L407.6 418.5 L407.1 419.3 L407.4 420.0 L407.4 420.2 L407.8 421.2 L408.0 421.9 L408.1 422.5 L407.8 424.2 L407.3 424.7 L407.7 424.3 L407.8 425.6 L407.0 426.9 L408.1 427.9 L407.4 427.9 L408.2 428.6 L407.7 429.4 L408.3 430.3 L408.4 431.0 L408.7 432.1 L408.5 432.6 L409.4 433.7 L409.5 434.7 L409.2 435.3 L409.8 435.4 L409.9 436.3 L409.8 436.6 L410.2 437.6 L409.9 438.4 L410.5 439.5 L410.8 439.6 L410.1 439.9 L410.7 440.2 L411.3 440.7 L410.9 442.1 L410.6 440.5 L411.7 440.4 L411.1 439.2 L411.4 437.5 L412.0 437.7 L412.1 436.0 L411.7 436.0 L412.3 435.2 L411.3 434.4 L411.8 433.1 L412.1 432.5 L412.0 432.4 L412.2 431.7 L412.5 431.4 L412.1 430.5 L412.5 429.7 L412.9 430.4 L412.6 429.8 L412.9 428.6 L413.6 428.1 L413.3 428.2 L412.8 427.0 L413.2 426.5 L413.7 426.1 L413.4 425.9 L414.4 425.1 L414.0 424.4 L413.3 423.5 L413.9 422.4 L414.3 421.7 L414.7 420.6 L413.9 420.5 L413.8 419.3 L414.7 418.8 L414.0 418.7 L415.1 417.8 L414.8 416.7 L415.3 416.7 L415.3 415.6 L414.5 414.8 L414.8 414.4 L414.6 413.1 L415.2 412.3 L414.8 412.1 L415.3 411.8 L416.1 410.8 L415.7 409.9 L415.7 409.1 L416.2 408.6 L415.4 407.8 L416.3 406.4 L416.6 406.6 L416.0 405.1 L415.8 404.4 L416.5 403.9 L416.3 402.7 L416.4 401.5 L416.4 401.3 L416.0 400.8 L416.2 399.3 L416.7 398.5 L416.7 397.7 L416.6 397.3 L417.9 396.3 L417.7 394.4 L417.7 394.2 L418.1 393.2 L418.2 392.2 L417.3 391.5 L418.8 392.6 L417.8 393.3 L419.1 395.1 L418.5 395.0 L419.2 395.9 L419.3 397.4 L418.9 397.7 L419.5 399.8 L419.4 400.8 L419.2 400.9 L419.7 401.4 L420.6 401.1 L419.3 400.6 L419.5 399.5 L420.5 398.7 L419.8 398.7 L419.8 398.1 L419.6 396.2 L421.0 396.2 L420.4 395.7 L420.1 395.1 L420.2 394.4 L420.5 393.7 L421.2 392.8 L420.1 391.6 L421.3 390.9 L420.3 390.2 L420.3 388.9 L421.0 388.1 L420.8 387.8 L421.4 387.2 L420.9 386.8 L420.6 385.9 L420.7 385.0 L421.6 385.1 L421.9 384.2 L420.7 382.9 L421.2 382.1 L421.4 381.8 L420.8 381.0 L420.9 380.5 L422.2 379.6 L422.0 379.3 L422.3 377.7 L421.9 377.2 L421.8 376.5 L421.2 375.7 L421.3 375.8 L422.4 373.9 L422.2 374.4 L422.3 373.4 L422.1 372.4 L422.0 372.7 L422.1 373.6 L422.3 374.6 L422.3 376.2 L422.2 376.1 L423.2 376.8 L422.2 377.9 L422.7 379.0 L422.8 379.1 L423.1 380.2 L422.7 380.2 L423.6 381.2 L424.0 382.7 L423.5 382.4 L423.2 383.1 L423.8 384.6 L424.1 385.0 L424.4 386.3 L424.2 386.5 L424.6 387.1 L423.4 388.3 L423.6 388.2 L424.1 389.5 L424.5 389.7 L425.2 390.8 L424.8 390.8 L424.3 392.1 L425.1 392.8 L424.8 393.5 L424.4 393.2 L425.6 393.1 L424.6 391.8 L424.7 391.5 L425.4 390.7 L425.0 389.2 L424.9 389.7 L425.5 388.5 L425.4 387.5 L424.6 386.5 L425.1 385.5 L425.2 385.2 L425.3 384.6 L425.8 384.1 L426.0 383.4 L425.3 382.5 L425.8 381.4 L425.9 381.8 L425.9 380.7 L426.1 379.0 L425.8 378.8 L425.3 378.2 L425.1 377.9 L425.2 376.8 L425.2 377.0 L425.5 375.7 L425.2 374.7 L425.8 373.6 L426.5 373.8 L425.3 372.9 L425.5 372.2 L426.4 371.2 L426.6 370.9 L426.3 370.9 L425.7 369.9 L426.8 368.9 L425.9 368.6 L426.2 366.9 L426.9 366.4 L426.7 365.8 L426.3 365.6 L426.1 365.0 L427.1 364.0 L426.6 364.2 L426.0 363.4 L427.2 362.4 L426.1 361.3 L426.4 361.0 L426.5 360.9 L427.6 359.1 L427.5 358.9 L427.2 358.3 L427.1 357.8 L427.5 356.8 L427.1 356.3 L427.1 356.0 L427.7 355.5 L427.9 354.7 L427.4 353.7 L427.3 353.5 L428.6 352.6 L428.1 351.4 L428.2 351.3 L428.4 350.4 L428.1 349.2 L429.0 349.4 L428.9 348.2 L429.2 346.9 L429.4 346.8 L429.8 345.4 L430.2 344.6 L430.4 343.9 L431.0 342.9 L430.6 342.3 L430.6 340.9 L430.2 340.1 L431.1 339.6 L430.5 337.7 L431.6 337.6 L431.6 335.9 L432.1 335.4 L432.1 335.0 L432.0 333.9 L432.2 332.7 L432.4 333.1 L432.4 332.0 L432.7 331.4 L432.0 330.9 L433.0 329.4 L432.9 328.6 L432.6 328.2 L433.0 328.1 L433.8 327.4 L433.1 326.1 L432.9 325.8 L433.4 325.2 L433.6 324.8 L434.3 323.9 L434.0 323.8 L433.7 323.2 L433.8 322.3 L434.4 322.0 L434.4 322.1 L434.4 321.5 L435.2 320.1 L434.7 320.3 L435.3 321.2 L436.0 321.6 L435.3 323.6 L435.7 323.9 L435.9 324.0 L436.9 325.7 L436.5 325.6 L437.4 326.7 L437.6 327.5 L438.2 328.2 L437.5 328.6 L438.2 329.7 L437.7 329.6 L439.1 329.7 L439.1 330.4 L438.6 329.8 L439.4 328.3 L438.7 326.9 L439.8 326.6 L439.4 325.5 L438.9 324.3 L439.1 324.7 L440.4 323.4 L440.1 323.0 L440.7 322.9 L439.7 322.2 L440.5 320.8 L440.9 319.7 L441.0 320.3 L440.2 318.8 L441.6 319.1 L441.2 318.5 L440.6 317.1 L441.8 315.9 L441.2 315.4 L441.7 316.0 L441.7 315.1 L441.2 313.9 L442.6 314.0 L441.7 312.2 L441.9 312.7 L441.8 311.1 L442.2 310.7 L443.0 310.1 L443.2 309.4 L443.3 308.6 L443.1 308.0 L443.0 307.0 L443.8 306.6 L444.0 306.4 L443.0 306.0 L444.2 304.8 L443.5 304.4 L443.6 303.7 L444.6 301.8 L444.0 302.3 L444.8 300.5 L444.4 300.6 L443.9 298.8 L445.0 298.4 L445.1 297.6 L445.0 297.2 L445.4 295.7 L445.4 296.1 L446.0 294.1 L445.5 293.5 L446.3 292.9 L446.3 292.4 L446.4 291.2 L446.0 291.3 L445.9 290.1 L446.6 289.2 L446.8 289.6 L446.9 288.6 L446.4 287.6 L446.3 286.7 L446.8 285.7 L446.2 285.8 L447.6 285.2 L446.5 283.7 L446.6 283.7 L447.7 282.8 L446.8 282.7 L448.0 281.0 L448.2 281.3 L447.5 280.1 L447.2 279.1 L447.6 279.2 L448.5 277.5 L448.6 276.6 L447.8 276.3 L449.0 276.3 L448.4 274.7 L448.7 274.1 L449.3 273.5 L448.9 272.5 L449.6 271.6 L449.3 271.1 L449.6 270.3 L450.3 270.5 L450.2 270.3 L450.5 269.0 L451.2 268.6 L451.9 267.1 L450.9 266.5 L451.2 266.4 L452.1 266.4 L452.8 265.7 L452.5 264.9 L452.1 265.3 L452.4 265.9 L452.8 266.8 L453.3 267.6 L453.1 268.3 L452.4 269.2 L452.9 270.7 L452.4 270.1 L452.3 272.0 L452.3 272.8 L452.5 273.5 L452.8 274.2 L453.0 274.2 L452.4 275.0 L453.1 276.4 L453.2 277.0 L453.2 277.5 L453.4 277.5 L453.5 279.0 L453.3 279.0 L453.0 280.0 L454.1 280.7 L453.1 281.5 L453.9 282.6 L453.1 282.8 L453.0 283.2 L453.6 283.7 L453.2 285.3 L453.4 285.9 L453.3 285.7 L453.4 287.3 L453.3 287.1 L454.1 288.1 L454.5 288.6 L453.4 289.8 L453.9 290.3 L453.7 291.5 L454.6 291.2 L454.0 291.7 L454.9 292.4 L454.2 293.2 L454.3 294.4 L454.0 295.0 L454.7 295.2 L455.1 296.1 L454.6 297.6 L454.3 296.9 L454.2 297.7 L454.1 299.5 L454.9 299.2 L454.6 300.1 L454.2 300.7 L454.2 302.3 L454.8 302.4 L455.4 303.1 L454.9 304.0 L455.0 304.1 L455.4 304.5 L455.2 305.3 L455.1 306.0 L455.2 306.9 L455.4 307.6 L454.6 308.7 L455.1 309.5 L455.4 309.2 L455.4 309.9 L455.9 311.4 L455.4 311.8 L454.7 312.4 L455.1 313.0 L456.1 313.8 L455.5 314.5 L456.0 315.0 L456.2 315.8 L455.2 316.9 L455.3 317.1 L456.0 317.8 L455.3 318.5 L455.0 319.7 L455.8 319.9 L455.6 321.1 L456.4 322.7 L455.9 323.1 L455.2 323.5 L456.4 324.7 L456.2 325.3 L456.5 325.8 L455.5 326.6 L455.6 327.6 L455.6 328.3 L456.2 328.7 L455.6 329.2 L456.1 330.6 L456.4 331.0 L456.8 331.3 L456.3 332.2 L456.1 332.6 L456.0 333.0 L456.9 333.9 L456.8 333.4 L456.2 332.2 L456.5 331.8 L456.4 331.9 L457.3 330.2 L457.0 330.7 L457.3 329.9 L457.3 328.7 L456.4 327.6 L457.5 327.2 L457.1 326.9 L457.1 325.6 L457.0 325.9 L457.3 325.0 L457.7 323.8 L457.4 323.3 L457.7 322.8 L457.3 322.0 L458.1 321.1 L457.8 321.2 L458.2 320.3 L457.5 319.8 L458.5 318.4 L457.8 318.8 L458.2 318.0 L457.8 317.5 L458.6 316.0 L458.8 315.8 L458.2 315.8 L458.0 314.2 L459.3 314.4 L458.4 313.8 L458.4 312.3 L459.4 311.4 L458.9 311.1 L459.2 310.5 L458.9 309.9 L459.3 309.5 L458.9 307.8 L459.9 307.8 L459.9 307.0 L459.1 305.4 L460.3 305.1 L459.6 304.6 L459.5 304.1 L460.3 302.2 L460.4 303.1 L459.9 303.2 L459.8 304.2 L460.3 305.3 L460.2 305.4 L461.0 306.2 L460.9 306.9 L460.9 307.4 L461.1 307.1 L461.1 308.4 L461.3 308.5 L460.4 309.2 L461.6 310.2 L461.4 310.2 L461.0 310.6 L461.9 311.1 L461.5 312.3 L461.5 314.1 L461.1 314.6 L462.2 314.4 L461.5 315.5 L461.6 316.5 L462.5 318.1 L462.3 318.2 L462.4 318.8 L462.5 319.6 L462.5 320.6 L462.7 321.6 L462.8 322.2 L462.6 323.0 L462.9 323.3 L463.1 325.0 L462.6 326.1 L463.4 326.8 L463.1 327.8 L463.0 328.0 L463.4 328.4 L463.5 330.1 L462.9 330.5 L463.2 330.9 L464.0 331.6 L464.3 332.8 L463.3 332.7 L464.4 334.1 L464.2 333.9 L463.8 335.0 L464.3 336.3 L464.1 337.0 L464.7 337.3 L465.1 337.8 L465.1 338.6 L465.1 339.6 L464.6 340.9 L464.8 341.5 L465.0 341.3 L464.9 342.2 L464.7 342.7 L465.4 344.0 L465.7 344.4 L464.9 345.7 L466.0 346.3 L465.6 346.1 L466.4 346.5 L465.9 347.1 L465.7 348.9 L466.6 348.9 L465.6 349.5 L466.8 350.6 L465.7 349.0 L466.4 348.0 L466.3 347.9 L466.2 347.4 L467.2 346.0 L466.7 345.8 L466.2 344.8 L466.9 344.5 L467.0 343.8 L467.2 342.0 L467.3 341.7 L467.1 340.9 L467.2 340.1 L467.1 339.9 L466.8 338.5 L467.1 337.3 L466.8 337.2 L468.1 336.6 L467.2 335.2 L467.3 335.7 L467.4 334.9 L467.9 333.1 L468.4 332.9 L467.2 332.8 L468.1 331.0 L467.8 330.7 L467.7 330.3 L468.6 329.6 L467.8 329.3 L468.4 327.5 L468.8 327.9 L468.8 327.2 L468.5 325.2 L469.1 325.4 L469.3 325.1 L468.9 323.1 L469.3 322.4 L468.7 322.2 L468.4 321.3 L469.2 320.3 L469.2 319.7 L468.5 320.0 L468.8 318.0 L469.3 318.0 L469.3 318.0 L469.0 316.8 L469.8 315.7 L469.6 315.2 L470.1 314.2 L469.2 314.6 L469.1 313.9 L469.5 313.2 L470.0 312.7 L470.5 311.3 L469.3 310.9 L469.3 310.4 L470.7 309.6 L469.9 308.7 L470.5 308.6 L470.3 308.7 L470.0 307.7 L470.0 307.5 L471.1 306.1 L471.1 305.2 L469.9 304.9 L470.4 304.0 L470.5 303.4 L470.6 303.5 L470.5 302.7 L471.4 302.0 L470.4 301.0 L470.5 300.4 L471.4 300.4 L471.1 298.9 L471.4 299.4 L471.3 299.4 L471.6 299.8 L472.2 299.8 L471.6 301.6 L471.3 302.1 L472.0 302.0 L472.6 303.3 L471.7 302.8 L471.7 303.5 L472.5 304.1 L472.7 304.2 L472.0 305.3 L472.5 305.8 L473.1 306.6 L472.4 306.5 L472.4 308.0 L473.8 308.7 L473.3 309.3 L473.6 309.0 L473.0 310.6 L473.7 311.1 L473.6 311.3 L473.5 312.3 L474.0 313.1 L474.1 314.0 L473.7 314.9 L474.0 314.9 L474.2 315.0 L474.0 315.7 L474.7 316.6 L475.1 317.9 L475.5 318.1 L474.8 319.4 L475.6 320.3 L475.9 321.1 L474.8 321.4 L475.8 322.7 L475.6 322.6 L475.2 323.3 L475.3 324.4 L475.5 325.7 L475.6 326.1 L476.0 326.4 L475.9 326.0 L476.9 325.5 L476.6 324.5 L476.5 324.7 L476.3 323.8 L477.5 323.1 L477.0 322.0 L477.6 322.0 L477.0 320.9 L478.0 319.9 L478.3 320.1 L477.4 319.9 L477.8 318.9 L478.1 317.6 L478.0 317.0 L478.7 317.5 L477.9 315.8 L478.6 315.7 L478.7 315.3 L479.6 313.9 L478.6 313.8 L479.4 313.5 L479.3 312.8 L480.1 311.9 L479.4 311.2 L479.8 310.0 L480.3 308.1 L480.7 308.3 L480.3 307.3 L480.1 306.2 L480.2 305.0 L480.4 304.3 L481.1 303.5 L480.3 303.1 L481.2 302.4 L481.3 300.3 L480.6 300.8 L481.5 299.5 L482.0 298.4 L482.0 297.9 L481.0 298.2 L482.3 296.4 L482.2 297.1 L482.6 295.9 L482.7 295.6 L482.4 295.1 L482.0 293.5 L482.5 293.8 L482.2 292.4 L482.9 292.7 L483.1 292.1 L482.6 290.6 L482.8 289.6 L484.0 289.1 L483.5 288.7 L483.1 288.7 L484.1 287.9 L483.5 286.8 L484.6 286.2 L484.2 285.7 L485.0 284.8 L484.9 283.4 L484.9 283.4 L484.4 282.8 L484.5 282.1 L485.0 280.5 L485.0 281.0 L485.3 280.1 L485.5 278.9 L485.7 278.9 L486.2 278.1 L485.3 278.4 L486.4 276.7 L485.8 277.3 L486.1 276.0 L486.7 276.3 L486.9 274.5 L486.7 275.3 L487.1 274.3 L487.3 273.8 L486.6 273.2 L486.9 271.8 L487.1 270.4 L487.2 270.2 L488.1 269.2 L487.9 269.0 L488.3 267.9 L488.4 266.5 L489.1 265.8 L488.2 265.8 L488.7 264.7 L488.9 263.1 L488.9 262.5 L489.1 262.0 L488.7 261.2 L489.8 261.0 L489.3 260.9 L489.5 260.5 L490.7 259.5 L490.0 259.4 L490.5 257.6 L490.5 258.2 L491.0 257.5 L490.5 257.1 L491.3 255.8 L491.5 255.2 L490.9 254.5 L491.8 253.8 L492.0 253.1 L492.1 252.1 L491.8 250.3 L491.8 249.4 L492.0 248.6 L491.8 247.8 L492.6 246.6 L492.3 248.0 L493.1 248.3 L493.1 247.9 L492.6 249.3 L493.4 249.1 L493.2 250.6 L493.6 250.4 L493.6 251.8 L494.0 251.8 L493.7 253.8 L494.0 253.5 L493.5 255.3 L493.8 255.3 L493.6 256.0 L493.3 256.6 L494.5 258.0 L493.6 258.5 L494.7 258.6 L494.0 259.8 L494.0 260.7 L494.8 261.0 L495.0 262.6 L494.2 262.9 L494.2 263.6 L494.2 263.9 L495.3 265.0 L494.9 265.1 L495.5 266.4 L494.8 267.6 L495.6 268.1 L495.3 268.9 L494.9 269.0 L495.8 270.0 L495.4 270.2 L495.3 272.0 L495.2 272.5 L495.8 273.0 L495.8 274.5 L496.8 274.6 L496.6 275.4 L496.8 276.8 L496.1 277.1 L496.2 278.0 L496.2 278.9 L497.3 278.7 L497.0 279.3 L496.2 280.1 L496.9 282.0 L496.5 282.8 L497.0 282.6 L497.4 284.1 L497.3 284.4 L497.9 285.8 L497.0 286.1 L498.3 285.9 L497.3 285.4 L498.2 284.7 L498.0 284.2 L498.6 282.5 L498.5 281.7 L498.9 281.8 L498.4 281.2 L499.5 280.1 L499.0 279.4 L499.7 278.4 L500.0 278.2 L500.2 276.9 L499.5 276.0 L500.2 274.9 L499.4 275.1 L500.6 274.4 L500.5 272.6 L500.1 272.6 L500.2 270.9 L501.2 271.0 L500.6 269.2 L501.8 268.5 L501.5 268.7 L500.8 266.9 L501.6 266.2 L502.4 265.8 L502.5 265.3 L501.7 263.9 L502.2 263.5 L503.0 262.4 L502.2 261.7 L503.0 261.5 L502.9 260.0 L503.1 259.8 L503.6 258.8 L503.0 258.7 L502.7 258.1 L504.0 257.2 L503.7 255.8 L503.8 256.8 L503.8 257.9 L505.1 257.7 L505.3 259.0 L505.6 259.9 L504.7 260.7 L506.1 261.7 L506.2 261.6 L506.4 263.0 L506.1 263.3 L507.2 264.9 L506.5 265.2 L507.1 266.5 L507.8 265.9 L507.5 267.2 L508.2 267.2 L508.4 267.2 L508.0 268.1 L508.5 269.2 L509.2 269.5 L510.1 270.9 L510.2 272.1 L510.3 273.2 L510.0 273.7 L510.0 275.0 L510.3 275.3 L510.9 275.7 L510.1 277.8 L510.5 278.1 L511.0 278.6 L510.9 279.6 L510.8 279.7 L512.0 281.1 L511.8 281.1 L511.2 281.7 L512.7 283.5 L512.0 283.8 L512.3 284.7 L512.4 285.5 L512.0 286.1 L512.7 287.0 L512.6 286.3 L513.3 287.2 L512.8 287.2 L513.3 288.6 L513.7 288.9 L513.3 289.3 L513.2 288.9 L513.4 289.5 L514.7 291.1 L514.4 290.7 L514.4 291.8 L514.8 291.8 L515.0 292.5 L515.6 292.7 L515.5 293.3 L515.9 295.0 L516.1 294.9 L515.9 295.8 L515.7 297.0 L515.8 298.1 L515.5 298.0 L515.8 299.5 L516.6 298.5 L516.5 297.4 L516.0 296.8 L516.7 296.3 L517.3 295.5 L516.8 294.9 L517.7 295.6 L517.1 294.0 L517.2 293.7 L517.9 294.0 L517.5 292.6 L518.7 291.9 L518.9 292.5 L518.9 290.9 L518.7 291.3 L518.8 290.0 L519.1 289.9 L519.3 288.4 L518.6 287.8 L519.7 287.4 L520.2 286.3 L520.1 285.3 L519.5 284.5 L520.3 285.0 L520.0 283.3 L519.8 282.5 L520.3 281.6 L520.7 281.3 L520.2 281.0 L520.8 279.9 L521.6 279.2 L521.7 278.3 L522.0 277.6 L522.1 278.2 L521.5 277.0 L522.1 276.8 L521.7 275.9 L522.1 274.4 L522.6 275.0 L522.4 273.6 L522.8 273.8 L523.1 272.8 L523.5 270.8 L523.5 271.3 L523.7 269.3 L523.8 269.5 L523.7 267.7 L524.7 267.4 L524.0 266.1 L523.8 264.8 L525.1 264.9 L525.1 264.4 L524.8 263.6 L525.5 261.5 L525.4 261.7 L525.6 260.3 L526.4 259.8 L525.8 259.2 L525.9 258.1 L526.6 256.9 L526.0 256.4 L526.5 256.0 L526.4 256.0 L526.5 254.3 L527.6 254.1 L527.2 253.8 L527.3 254.0 L528.5 255.7 L528.9 256.3 L529.7 256.4 L530.1 258.5 L531.1 259.3 L531.0 259.5 L532.0 259.7 L532.5 259.9 L532.3 259.7 L533.2 260.2 L533.8 260.4 L534.3 260.7 L534.8 261.9 L534.5 262.0 L535.5 262.8 L536.2 263.1 L535.6 263.7 L537.2 265.0 L537.6 265.4 L537.9 265.7 L537.8 266.9 L537.9 266.7 L538.0 267.8 L538.6 268.2 L539.8 269.4 L539.1 269.7 L540.1 269.9 L540.1 270.4 L541.2 272.4 L541.1 273.4 L541.2 271.9 L542.2 271.9 L541.7 271.4 L542.8 270.7 L541.8 270.7 L542.9 269.5 L542.8 269.7 L543.0 267.6 L542.9 267.4 L543.3 266.0 L543.3 265.4 L543.9 264.2 L543.7 262.9 L543.6 261.8 L544.5 260.3 L544.2 260.1 L545.2 259.6 L545.4 259.0 L545.2 256.9 L545.6 256.6 L545.9 256.1 L546.7 256.0 L546.5 254.3 L546.2 253.4 L546.2 253.4 L547.1 253.1 L547.1 252.7 L547.1 253.3 L547.3 251.8 L547.9 252.4 L547.4 252.1 L548.6 251.6 L548.2 252.0 L548.8 251.7 L548.6 250.3 L548.7 250.4 L549.2 249.4 L549.7 247.7 L550.4 247.2 L549.4 247.5 L550.0 245.6 L550.0 245.8 L551.1 244.9 L551.0 244.0 L551.8 243.2 L550.9 243.6 L552.2 242.9 L552.6 242.5 L552.0 240.8 L552.6 240.1 L552.6 239.1 L553.3 238.1 L553.6 238.4 L552.8 236.9 L553.0 235.6 L553.2 234.9 L553.6 234.0 L554.7 233.2 L555.2 232.9 L555.3 231.8 L555.3 232.1 L556.0 233.2 L555.4 234.3 L555.8 235.1 L555.4 235.7 L556.6 237.1 L556.9 237.1 L556.8 238.1 L556.6 238.4 L558.0 238.9 L557.9 239.3 L557.5 240.0 L558.0 240.8 L557.7 242.5 L558.5 241.8 L558.4 241.9 L558.9 242.7 L558.9 243.1 L559.2 243.5 L559.6 243.6 L560.5 243.3 L561.0 244.6 L560.5 245.2 L560.9 247.0 L561.6 246.7 L561.7 248.1 L561.7 248.3 L561.1 250.2 L561.9 250.4 L561.4 250.6 L561.2 251.7 L561.3 252.4 L561.7 253.7 L561.7 254.3 L561.0 254.7 L561.3 254.8 L561.2 256.6 L562.2 256.7 L561.0 257.6 L561.1 258.1 L561.1 259.1 L561.3 259.4 L561.2 260.1 L562.0 261.7 L561.3 261.3 L561.8 262.3 L561.2 263.7 L561.9 263.9 L562.4 264.8 L562.0 265.6 L562.2 266.9 L561.4 267.0 L562.1 268.2 L562.3 267.8 L561.4 269.6 L561.7 270.4 L562.0 270.6 L561.8 270.7 L561.9 272.2 L561.6 272.4 L562.1 273.6 L562.2 273.7 L562.5 274.9 L562.8 275.2 L561.5 276.9 L562.7 276.8 L562.1 278.1 L562.4 278.8 L562.9 280.0 L561.6 279.5 L562.3 280.6 L561.8 281.6 L562.1 282.9 L563.0 283.5 L562.2 284.2 L562.4 283.7 L562.7 285.5 L562.0 286.0 L562.8 286.1 L562.3 287.7 L563.1 287.5 L562.5 288.4 L563.1 288.4 L562.5 287.3 L562.8 286.4 L563.5 285.4 L562.9 285.6 L563.4 284.5 L563.2 283.7 L563.7 283.8 L564.4 282.9 L564.1 282.2 L564.3 281.9 L564.7 281.0 L564.8 279.9 L564.5 279.0 L565.3 278.8 L564.4 278.1 L564.5 276.7 L564.6 275.4 L565.3 275.7 L565.1 274.0 L566.1 274.2 L566.4 273.5 L565.6 271.9 L565.8 271.8 L566.8 270.6 L567.1 271.8 L566.4 272.3 L566.7 273.2 L567.3 273.5 L567.4 273.7 L567.7 275.0 L567.3 275.4 L568.2 275.8 L568.0 276.2 L568.0 277.6 L568.0 277.1 L569.0 278.6 L568.3 278.5 L569.7 280.0 L569.6 279.9 L569.5 281.0 L570.5 281.2 L570.3 282.1 L570.5 282.3 L569.5 283.7 L570.1 284.0 L570.5 283.9 L569.7 285.1 L571.0 285.9 L571.0 286.3 L570.6 287.7 L570.4 287.8 L571.3 288.3 L570.3 289.3 L570.6 290.4 L570.8 291.1 L570.6 291.9 L571.6 292.0 L571.1 293.6 L570.6 293.2 L571.0 294.3 L571.2 294.5 L571.1 295.2 L571.3 296.3 L571.4 297.4 L570.9 298.3 L571.8 298.1 L571.8 300.1 L572.5 300.7 L571.5 301.3 L572.0 301.9 L572.3 302.7 L572.1 302.6 L572.6 303.1 L572.0 304.9 L572.1 305.1 L573.0 306.3 L572.6 306.8 L572.3 307.4 L573.1 307.4 L572.5 308.6 L572.3 309.9 L573.3 309.3 L572.8 310.6 L572.3 311.8 L572.9 311.6 L572.8 312.2 L573.3 314.1 L573.2 313.5 L573.8 315.2 L573.3 315.7 L573.1 316.6 L574.2 316.4 L573.5 317.3 L573.2 317.7 L573.5 318.2 L574.5 318.7 L575.0 320.0 L576.0 319.1 L575.6 320.0 L576.2 320.9 L577.0 322.3 L577.5 321.5 L577.9 320.6 L577.4 319.9 L577.1 319.1 L577.4 318.7 L577.1 318.7 L578.3 318.2 L578.4 316.2 L578.2 316.7 L578.5 316.0 L578.6 315.1 L577.8 314.2 L578.3 313.8 L578.4 312.4 L578.0 312.7 L578.5 311.4 L578.3 310.3 L578.6 310.4 L578.1 309.0 L578.3 308.9 L577.8 308.4 L579.2 307.5 L578.8 306.2 L579.1 304.9 L578.1 305.0 L578.4 303.8 L578.2 303.8 L579.3 302.7 L578.2 302.2 L579.2 301.0 L578.5 300.2 L578.7 299.2 L579.7 299.3 L579.1 298.0 L578.6 297.6 L579.0 297.1 L578.7 295.9 L579.3 295.4 L579.1 294.2 L579.8 294.0 L579.5 293.1 L579.1 293.0 L578.9 291.6 L578.9 290.2 L580.0 290.2 L579.5 289.8 L579.1 288.4 L580.4 288.3 L579.8 287.5 L580.5 286.2 L579.3 286.1 L580.0 285.4 L580.2 283.8 L579.6 283.7 L580.5 283.1 L581.1 282.8 L581.6 282.0 L580.8 282.2 L581.3 282.6 L582.2 282.4 L582.0 281.4 L583.2 280.3 L583.2 278.2 L583.7 277.0 L583.2 276.0 L583.2 276.0 L584.2 274.7 L584.1 273.5 L585.0 274.2 L585.2 274.0 L585.6 273.8 L586.0 273.7 L585.0 272.8 L585.8 272.7 L586.9 273.1 L586.6 271.4 L586.3 270.4 L586.7 269.9 L587.9 269.2 L587.7 268.8 L588.7 268.2 L588.0 267.3 L588.3 266.4 L589.2 266.4 L588.9 266.0 L588.9 265.5 L590.2 265.4 L590.0 264.0 L590.5 265.7 L590.0 265.5 L590.0 266.2 L590.9 267.2 L590.3 267.4 L590.4 268.7 L590.4 268.8 L591.0 270.3 L591.8 270.4 L591.8 270.8 L591.2 271.7 L591.8 272.9 L592.1 272.9 L591.4 273.5 L591.6 274.8 L592.8 275.8 L592.7 276.1 L592.2 277.3 L592.8 278.1 L592.9 277.7 L592.5 279.4 L592.6 279.5 L593.1 280.0 L594.0 281.5 L592.9 282.3 L593.7 281.8 L594.2 282.8 L593.8 283.4 L594.0 284.1 L594.8 284.4 L594.1 285.5 L594.9 286.2 L594.9 286.4 L595.1 287.5 L595.4 288.5 L594.8 288.7 L595.4 288.4 L594.8 287.0 L595.9 285.7 L596.2 285.5 L595.9 283.9 L595.8 283.8 L595.6 283.7 L596.2 282.0 L596.7 281.9 L596.1 279.7 L596.3 279.2 L596.6 279.4 L596.2 277.7 L596.3 276.7 L597.6 276.1 L597.7 274.9 L597.6 273.8 L597.5 272.9 L597.9 272.6 L597.9 271.9 L597.9 270.3 L598.0 270.7 L598.4 269.9 L598.9 269.5 L598.1 269.0 L599.1 267.9 L598.4 267.5 L599.5 267.1 L599.4 266.3 L598.5 266.8 L598.9 265.9 L599.6 265.2 L599.7 264.5 L599.2 264.0 L600.1 264.4 L600.0 263.4 L601.3 262.0 L601.7 261.7 L602.3 260.3 L602.4 259.5 L603.7 258.5 L603.8 259.0 L604.8 258.8 L605.7 259.2 L605.9 260.2 L605.5 261.1 L605.8 260.7 L606.0 262.3 L605.7 263.2 L606.5 264.0 L606.4 264.1 L606.8 265.0 L607.2 264.7 L607.5 265.4 L607.0 265.9 L607.8 266.4 L608.3 267.5 L607.5 268.5 L608.8 269.3 L608.2 269.4 L608.8 269.9 L608.4 271.1 L608.4 271.6 L609.5 272.6 L609.2 272.9 L609.5 273.5 L609.6 273.8 L610.4 274.5 L610.7 275.6 L609.8 276.1 L609.8 277.5 L610.1 277.4 L610.3 279.2 L610.3 278.9 L610.4 280.4 L610.9 280.8 L610.4 282.0 L611.1 283.5 L610.9 283.1 L610.9 283.8 L611.1 285.5 L610.7 285.8 L611.4 286.2 L611.1 287.5 L611.8 288.6 L610.8 289.1 L611.6 290.0 L611.4 290.7 L612.4 291.6 L612.3 292.2 L611.8 293.5 L611.9 294.4 L611.9 294.9 L612.7 294.5 L612.0 295.4 L612.3 297.0 L612.5 297.1 L612.1 297.5 L611.8 298.8 L612.0 299.3 L612.1 299.7 L613.2 300.4 L613.4 300.5 L613.6 302.3 L613.7 302.0 L613.1 303.5 L613.4 303.8 L612.6 303.8 L612.9 304.5 L613.6 305.1 L613.8 306.8 L613.6 306.2 L613.9 308.1 L613.5 308.7 L614.6 308.6 L613.9 309.2 L614.6 309.4 L615.2 310.5 L615.0 311.6 L614.6 311.4 L615.1 312.4 L616.1 312.0 L615.1 312.8 L615.9 314.2 L616.7 314.6 L616.1 315.2 L616.3 315.0 L616.2 316.3 L617.0 317.3 L617.4 317.0 L616.9 317.8 L617.4 319.4 L617.8 319.7 L617.0 320.2 L617.9 320.6 L617.7 321.6 L617.5 322.3 L617.9 323.7 L618.4 324.0 L618.6 324.9 L618.3 325.7 L618.7 326.3 L618.0 327.5 L618.2 327.6 L618.7 328.9 L617.7 329.4 L618.5 330.0 L619.1 330.3 L618.4 332.2 L618.5 332.4 L619.1 333.5 L618.9 334.4 L618.3 335.1 L618.1 335.1 L619.2 336.8 L619.5 336.7 L619.0 337.4 L618.4 338.9 L618.4 338.8 L619.5 340.0 L619.1 340.8 L618.9 341.8 L619.9 343.0 L618.8 343.2 L619.2 344.4 L620.1 345.6 L618.9 345.3 L620.2 346.9 L620.1 347.0 L619.1 348.2 L619.1 348.4 L619.5 349.0 L619.6 350.4 L619.7 351.2 L619.9 351.2 L620.1 352.0 L620.9 352.1 L620.2 353.4 L621.4 354.2 L620.3 354.1 L620.4 354.4 L620.8 354.8 L620.8 355.3 L622.2 356.5 L622.0 356.4 L621.6 358.0 L622.6 358.3 L621.6 359.1 L622.6 360.2 L623.0 361.3 L622.2 362.1 L622.9 362.4 L623.1 363.2 L623.2 364.3 L623.2 364.3 L623.2 365.2 L623.5 366.9 L623.7 366.7 L623.7 367.7 L623.6 368.1 L624.0 369.3 L624.1 370.0 L623.7 370.0 L624.0 370.5 L624.1 372.3 L624.2 371.9 L624.2 372.9 L623.3 374.5 L623.8 374.0 L623.8 375.4 L624.6 375.4 L624.4 376.1 L623.4 376.8 L624.2 378.4 L624.4 378.3 L624.2 379.4 L623.9 380.0 L624.6 380.4 L623.7 381.0 L624.2 381.5 L624.1 383.1 L624.0 382.9 L623.9 384.6 L624.4 385.3 L624.0 386.3 L623.4 386.4 L623.9 386.5 L624.2 387.9 L623.8 388.9 L624.3 388.8 L624.0 390.0 L624.6 389.8 L623.9 391.1 L624.8 392.0 L624.2 392.6 L624.1 392.9 L623.9 393.4 L625.0 394.3 L624.4 395.5 L623.9 395.6 L623.8 396.8 L623.9 397.7 L625.0 397.5 L624.9 399.1 L623.9 399.6 L624.2 399.9 L624.2 401.5 L624.3 401.5 L623.9 402.8 L624.2 402.7 L624.1 404.2 L624.0 404.2 L624.7 404.8 L624.7 406.4 L624.0 407.0 L624.6 407.7 L624.1 407.3 L625.1 408.1 L625.1 408.8 L625.1 410.4 L624.2 411.2 L624.7 411.7 L624.3 412.1 L624.6 412.3 L624.4 414.1 L624.4 414.7 L624.6 414.5 L624.9 415.7 L624.6 415.9 L625.0 416.4 L624.4 418.1 L624.5 418.3 L625.4 418.6 L624.2 419.8 L625.0 420.7 L625.5 421.1 L625.1 422.0 L624.2 423.0 L624.4 422.7 L624.4 424.2 L625.5 424.6 L624.3 424.6 L624.4 425.5 L624.5 427.2 L624.9 426.7 L625.7 427.7 L624.4 428.0 L624.8 429.5 L625.4 430.1 L625.7 429.6 L625.6 428.5 L624.9 427.4 L625.5 426.5 L625.0 426.2 L624.9 425.8 L625.0 424.3 L625.0 423.6 L625.3 422.9 L625.0 422.6 L624.7 421.5 L625.2 421.0 L625.5 420.4 L625.6 419.3 L625.5 418.4 L626.1 417.8 L625.0 418.2 L625.5 416.2 L625.1 415.6 L625.7 415.0 L625.7 415.2 L626.1 413.6 L625.8 413.4 L626.3 412.7 L626.4 412.3 L626.0 410.9 L626.3 410.7 L625.7 409.9 L626.4 408.9 L625.7 407.6 L626.2 407.1 L625.5 406.1 L626.4 406.4 L625.6 404.9 L625.8 404.6 L625.5 403.3 L626.4 403.7 L625.5 402.4 L626.3 401.5 L626.6 400.3 L626.5 399.9 L626.5 399.7 L627.0 399.1 L626.0 397.6 L626.7 397.9 L626.4 396.5 L626.5 395.7 L627.0 395.6 L626.0 393.9 L626.0 393.8 L626.7 393.5 L626.7 392.3 L626.3 392.0 L627.0 390.3 L627.3 390.1 L626.3 389.1 L626.9 388.9 L627.3 387.6 L626.7 387.7 L626.5 386.8 L627.5 385.5 L627.1 385.8 L626.9 384.8 L626.6 384.2 L626.6 382.4 L627.5 382.7 L627.7 381.1 L627.0 381.5 L626.9 380.4 L627.4 380.1 L627.8 378.2 L626.8 378.3 L627.5 377.6 L627.7 376.9 L627.5 375.7 L627.0 375.4 L627.1 374.7 L626.8 373.7 L627.0 373.4 L627.7 371.6 L627.6 372.0 L628.1 370.8 L627.7 369.8 L627.0 369.1 L628.1 369.2 L627.2 369.4 L627.3 369.7 L627.8 370.9 L628.2 370.8 L627.0 372.4 L627.9 372.7 L628.1 374.2 L628.5 373.8 L627.3 374.7 L627.5 376.0 L628.6 377.3 L628.6 376.8 L627.5 378.2 L628.6 379.4 L628.7 379.9 L628.2 381.0 L628.4 381.2 L628.4 381.7 L627.7 383.2 L628.5 383.0 L628.4 383.4 L628.3 385.4 L628.0 385.4 L628.1 386.6 L628.0 387.1 L628.8 387.5 L629.0 389.0 L628.1 389.5 L629.0 390.4 L629.2 391.2 L628.4 391.9 L628.7 391.9 L629.1 392.6 L629.3 393.8 L629.4 393.7 L629.6 395.5 L628.4 395.8 L628.9 396.2 L628.6 398.0 L629.3 397.4 L628.5 399.2 L629.7 399.5 L629.6 400.0 L628.9 401.8 L629.2 402.4 L629.8 403.1 L629.4 403.2 L628.9 403.7 L629.9 404.6 L629.6 405.4 L629.4 406.9 L630.3 406.4 L630.4 407.9 L629.9 408.3 L629.7 409.1 L629.8 409.8 L630.2 411.1 L630.5 411.1 L629.4 412.4 L630.2 412.4 L630.1 414.1 L629.7 413.7 L630.5 415.2 L630.9 415.9 L629.9 417.2 L631.0 418.0 L630.6 418.5 L630.0 418.4 L630.6 419.1 L631.1 420.3 L630.7 421.7 L630.7 421.7 L631.0 422.4 L631.3 422.8 L631.0 423.6 L631.3 424.1 L630.9 425.7 L631.2 425.8 L631.8 427.7 L630.6 427.8 L631.1 429.1 L631.2 429.9 L631.8 429.5 L632.2 430.3 L631.8 432.0 L632.4 431.6 L631.6 432.9 L631.4 434.1 L632.5 433.4 L631.8 434.7 L632.3 434.8 L632.6 435.9 L632.0 436.9 L631.8 437.1 L631.7 438.3 L631.9 437.9 L632.7 438.8 L633.1 439.1 L632.7 440.1 L632.0 439.4 L631.9 439.3 L632.7 437.4 L632.6 437.4 L633.0 435.9 L632.7 436.3 L633.2 434.7 L632.3 433.8 L633.2 432.8 L632.5 431.9 L632.8 432.5 L633.1 430.7 L632.4 431.0 L632.9 429.6 L632.7 429.0 L633.8 428.1 L633.0 427.9 L632.6 426.5 L633.8 425.7 L633.1 425.6 L633.6 424.6 L633.3 423.2 L633.5 423.3 L633.3 421.9 L634.1 420.9 L633.1 420.4 L634.2 419.8 L633.3 418.7 L633.6 418.9 L633.2 417.9 L634.4 417.6 L633.8 417.1 L633.6 415.2 L633.6 414.9 L634.5 414.1 L633.4 413.6 L633.9 413.8 L633.7 412.3 L633.7 411.5 L633.4 411.5 L633.9 410.4 L634.5 409.5 L633.7 408.7 L634.8 408.9 L634.2 407.4 L634.4 406.8 L634.9 407.4 L634.3 405.9 L634.0 406.0 L634.0 404.7 L634.0 403.9 L635.2 403.5 L634.1 402.4 L634.1 402.3 L635.0 401.2 L634.2 400.6 L635.5 400.7 L634.9 399.1 L634.5 398.3 L634.7 397.8 L635.1 398.1 L634.7 396.9 L634.6 396.2 L635.7 395.3 L634.6 395.8 L635.6 395.0 L634.6 393.9 L634.7 393.3 L635.9 392.6 L636.0 391.8 L635.5 390.9 L634.9 390.0 L634.8 389.7 L636.1 389.6 L635.7 388.2 L635.1 388.4 L636.1 386.8 L636.3 386.9 L635.4 386.8 L635.9 385.7 L635.9 384.4 L636.3 384.4 L635.3 383.2 L636.0 383.0 L636.5 382.6 L635.7 380.7 L635.8 380.1 L636.6 379.6 L635.9 379.0 L635.8 378.4 L635.6 377.2 L636.9 377.8 L635.9 376.3 L636.6 376.9 L637.1 377.4 L637.9 379.3 L637.4 379.2 L638.6 380.8 L637.8 380.2 L638.5 381.5 L639.3 382.1 L639.6 383.0 L640.2 382.5 L640.0 383.2 L640.0 385.0 L639.5 384.7 L640.0 385.3 L640.1 386.4 L640.0 386.7 L640.2 387.7 L640.5 388.3 L641.3 389.9 L640.5 390.3 L640.3 391.5 L641.3 392.1 L640.5 392.2 L640.7 393.0 L640.9 394.3 L641.0 394.9 L641.7 395.1 L640.7 396.0 L640.7 397.2 L640.8 396.6 L641.2 398.2 L642.1 397.8 L641.6 399.2 L641.5 400.3 L641.7 400.0 L642.5 401.4 L642.5 401.0 L642.6 401.7 L641.8 402.3 L642.7 403.3 L642.7 403.6 L642.4 404.6 L641.9 404.4 L642.9 405.8 L642.9 406.0 L642.3 406.5 L643.4 406.5 L643.2 408.1 L643.1 407.8 L643.4 407.9 L643.7 409.4 L642.5 409.8 L642.9 410.5 L642.8 410.4 L644.0 410.9 L643.3 411.6 L643.8 412.7 L643.8 414.0 L643.3 414.5 L644.3 415.0 L643.7 415.6 L643.8 416.9 L644.6 418.2 L643.8 418.9 L644.5 419.0 L644.5 419.7 L644.9 421.5 L644.7 421.8 L644.7 422.1 L644.2 423.3 L644.3 424.4 L644.9 424.7 L645.1 425.3 L645.3 426.0 L644.5 427.4 L644.7 427.5 L645.1 427.0 L644.7 426.1 L644.9 425.5 L645.9 425.0 L646.2 424.0 L646.0 423.3 L645.4 422.5 L645.8 421.5 L646.2 421.3 L647.0 421.1 L646.8 420.0 L647.5 419.1 L646.6 419.5 L646.8 419.1 L646.6 418.3 L647.7 417.9 L647.8 416.2 L647.7 415.3 L648.4 415.0 L647.9 414.2 L648.7 413.1 L648.5 411.4 L648.3 410.7 L648.3 410.3 L649.0 409.4 L649.1 408.4 L648.4 406.5 L649.7 406.2 L649.0 405.9 L649.5 403.9 L649.8 402.7 L649.6 402.4 L650.1 402.7 L649.9 401.8 L650.1 400.1 L650.0 400.5 L649.9 398.9 L650.6 398.9 L650.9 399.0 L651.4 397.3 L651.0 397.5 L651.2 397.4 L651.3 396.5 L651.9 395.6 L652.4 394.6 L652.7 393.7 L652.3 393.0 L653.2 393.0 L653.0 392.3 L653.1 391.4 L653.2 390.2 L653.4 390.3 L653.5 389.9 L654.1 388.6 L653.5 388.4 L654.6 387.8 L653.8 387.6 L654.6 386.0 L654.0 386.1 L655.2 386.0 L655.6 385.4 L655.6 385.7 L655.7 386.6 L655.2 386.5 L655.3 388.5 L655.8 388.7 L655.8 389.7 L655.3 390.2 L655.4 390.7 L655.1 391.5 L656.4 392.2 L656.1 392.9 L655.9 392.7 L655.9 394.3 L656.1 394.5 L656.7 395.1 L656.9 396.7 L655.9 396.7 L656.5 397.1 L657.0 397.9 L656.5 398.6 L656.9 399.5 L656.6 400.0 L657.4 401.2 L656.8 401.4 L657.3 402.8 L657.9 403.1 L657.0 403.2 L656.9 403.5 L657.7 404.8 L657.2 405.0 L657.2 406.4 L658.0 406.8 L658.4 407.8 L657.4 407.8 L658.7 409.7 L658.1 409.2 L658.5 410.9 L657.9 410.9 L658.8 411.6 L658.9 412.4 L658.2 413.6 L658.0 414.4 L659.3 414.3 L658.7 414.8 L659.4 416.6 L659.7 417.5 L658.5 418.0 L659.8 418.5 L659.0 418.7 L659.7 419.5 L659.0 421.2 L659.6 421.7 L659.3 422.2 L659.8 423.6 L659.6 424.3 L659.7 425.0 L660.2 424.8 L660.8 425.9 L661.1 427.4 L660.9 428.2 L660.8 427.8 L660.2 428.7 L660.6 430.5 L661.3 430.8 L661.0 431.9 L661.1 432.9 L661.5 432.8 L661.9 433.2 L661.8 434.3 L661.2 434.7 L662.2 435.4 L661.3 435.5 L661.8 436.7 L661.4 437.3 L662.7 437.7 L662.9 437.2 L662.5 438.9 L663.1 439.4 L662.7 439.0 L662.3 439.9 L662.7 441.1 L663.4 440.7 L663.3 441.4 L662.6 441.6 L663.9 442.6 L663.7 442.9 L663.7 443.3 L663.5 444.0 L664.3 445.9 L663.8 444.7 L664.4 444.1 L663.6 444.0 L663.4 442.7 L663.9 441.8 L664.2 441.1 L663.8 440.5 L664.8 440.0 L664.6 439.7 L664.6 438.8 L664.8 438.4 L664.6 436.4 L664.3 435.8 L664.7 436.0 L665.0 434.3 L663.9 434.7 L665.2 433.2 L664.9 433.5 L665.2 431.4 L664.8 432.1 L664.8 430.6 L665.3 429.9 L664.9 429.4 L665.4 428.4 L665.3 427.5 L664.8 426.6 L665.2 426.1 L665.3 426.3 L665.7 424.6 L665.5 424.2 L665.4 423.6 L665.3 422.4 L665.7 422.5 L665.5 422.0 L666.0 421.5 L665.1 419.6 L665.5 419.8 L666.1 419.2 L665.7 418.0 L665.9 418.0 L666.3 416.3 L665.3 415.7 L665.9 415.7 L665.9 415.2 L666.6 414.0 L665.9 413.0 L666.3 413.0 L666.1 412.3 L665.9 411.5 L666.5 410.0 L666.8 409.5 L665.8 408.8 L667.0 408.1 L666.4 407.7 L667.1 406.8 L667.2 406.2 L666.6 405.6 L667.2 404.6 L666.6 404.4 L667.3 404.1 L666.8 403.0 L667.6 401.5 L667.5 401.4 L667.5 400.1 L666.6 399.6 L667.0 399.5 L667.5 398.6 L667.6 398.2 L667.4 397.8 L667.9 396.5 L667.6 396.3 L667.6 396.3 L667.1 396.9 L667.5 397.6 L667.3 398.1 L668.8 398.9 L668.3 399.3 L668.9 401.2 L668.5 400.7 L668.1 402.4 L668.3 402.4 L669.2 404.0 L669.7 404.2 L669.8 404.8 L669.3 405.7 L669.8 406.0 L669.6 407.3 L669.7 407.2 L670.3 408.4 L669.5 408.9 L669.6 409.5 L670.4 409.6 L670.4 410.3 L670.9 411.0 L670.2 411.5 L670.9 412.8 L670.6 414.2 L670.3 414.5 L671.5 415.2 L671.3 416.1 L670.8 415.0 L671.7 415.2 L671.0 414.4 L672.1 413.0 L671.9 412.7 L672.3 412.3 L672.0 411.3 L671.5 411.0 L672.6 411.2 L672.4 410.1 L672.5 409.7 L672.7 409.6 L672.8 408.7 L671.7 408.8 L672.4 407.1 L673.1 407.5 L673.3 407.1 L672.1 406.4 L672.4 405.6 L673.2 405.1 L672.6 404.4 L673.8 404.2 L673.8 402.7 L672.6 403.2 L673.0 401.8 L673.7 401.4 L673.2 400.1 L673.0 399.5 L673.5 399.3 L673.0 398.0 L673.9 397.5 L673.3 396.5 L673.9 395.7 L673.9 395.2 L674.3 395.5 L674.0 394.0 L674.2 393.1 L674.1 392.9 L674.5 391.6 L674.0 391.7 L675.1 390.5 L674.0 389.6 L674.9 389.2 L674.4 387.9 L674.9 388.1 L674.4 386.6 L675.7 386.8 L675.5 385.6 L675.3 384.4 L675.6 383.6 L675.1 383.2 L675.1 382.4 L675.5 382.1 L675.3 380.2 L675.1 379.9 L675.8 378.3 L675.8 378.3 L676.1 376.8 L676.5 376.7 L675.8 375.4 L676.1 374.3 L676.4 374.8 L676.6 374.9 L677.4 375.7 L677.5 376.9 L678.6 378.0 L679.5 378.9 L679.5 378.8 L680.3 379.8 L680.3 379.9 L680.1 381.3 L679.9 382.2 L680.5 381.7 L680.2 383.6 L680.3 383.9 L680.8 384.7 L680.7 385.4 L680.6 385.1 L680.8 386.6 L680.9 387.5 L682.1 387.5 L681.8 388.8 L682.3 388.6 L682.4 390.0 L681.9 390.4 L682.5 391.3 L681.9 392.5 L682.9 392.7 L683.1 393.0 L683.1 393.8 L683.5 394.2 L683.0 395.7 L682.5 396.1 L682.9 396.9 L683.6 397.2 L683.2 398.1 L683.7 399.2 L683.5 399.3 L683.6 400.5 L684.0 401.1 L683.8 402.2 L684.3 402.1 L684.3 403.9 L684.9 403.3 L684.9 404.2 L684.5 404.7 L684.7 405.6 L685.1 407.0 L684.6 407.2 L685.9 407.7 L685.5 409.4 L685.6 409.8 L685.9 410.7 L685.4 412.0 L685.6 412.4 L686.2 413.6 L686.1 413.9 L686.1 415.2 L686.2 415.9 L686.1 415.7 L686.1 416.2 L686.3 417.9 L686.5 418.3 L686.9 419.1 L686.4 419.3 L687.2 421.2 L686.9 421.5 L687.0 422.1 L687.6 422.7 L688.1 424.2 L687.1 424.5 L687.5 425.5 L688.5 426.0 L687.9 426.9 L687.6 426.5 L687.8 427.8 L688.2 428.3 L688.7 429.7 L689.2 429.6 L689.2 430.7 L689.1 430.6 L689.0 431.5 L688.3 432.9 L688.5 432.6 L689.6 433.9 L688.9 434.8 L688.4 434.8 L688.6 436.0 L688.5 436.2 L688.4 437.7 L688.8 437.4 L688.7 439.1 L689.4 439.2 L688.6 440.5 L689.8 440.6 L689.9 441.9 L688.7 442.2 L689.9 442.5 L689.7 444.2 L690.0 444.2 L689.1 444.7 L690.1 445.3 L689.8 446.8 L689.7 447.2 L689.4 447.0 L690.4 449.0 L689.8 448.8 L690.0 450.3 L689.8 450.0 L690.1 450.7 L689.7 452.3 L689.5 453.0 L689.7 453.4 L689.8 453.6 L690.4 454.0 L690.2 454.5 L690.5 455.5 L690.4 456.4 L690.4 457.9 L689.6 458.2 L690.9 459.0 L690.0 458.6 L689.7 459.7 L690.4 460.9 L691.0 461.3 L690.3 462.2 L690.8 462.8 L690.0 463.3 L690.8 463.4 L691.4 464.5 L690.8 465.3 L691.2 466.2 L690.3 466.1 L691.0 467.3 L691.1 468.7 L690.8 469.5 L691.2 469.5 L691.1 470.6 L691.5 470.6 L690.7 471.3 L691.0 472.0 L691.7 473.5 L691.5 474.1 L691.2 473.6 L691.4 473.0 L690.9 473.5 L691.9 471.9 L691.3 471.0 L691.1 471.2 L692.1 470.7 L691.6 469.5 L691.0 468.4 L691.9 467.5 L691.4 466.5 L691.8 466.3 L692.0 465.4 L692.0 465.1 L692.2 464.6 L692.0 463.6 L691.5 463.1 L692.0 462.6 L692.4 461.5 L691.5 460.7 L692.9 460.6 L692.0 459.7 L693.0 458.9 L692.9 457.4 L692.3 456.4 L692.6 456.3 L692.1 455.9 L692.0 455.4 L692.6 453.8 L692.3 452.9 L692.5 452.9 L692.3 452.7 L693.4 451.8 L692.2 450.6 L692.3 449.8 L693.0 448.9 L693.6 448.0 L693.4 448.2 L693.5 447.7 L693.0 446.4 L692.8 445.9 L692.7 444.9 L694.0 444.4 L692.9 443.6 L693.1 442.8 L693.7 442.6 L694.1 441.3 L693.7 441.4 L694.3 440.4 L693.8 439.1 L694.3 439.4 L693.9 438.3 L693.6 438.1 L694.1 436.4 L694.2 436.7 L694.7 435.2 L693.5 435.4 L693.8 433.7 L694.8 434.0 L694.1 433.0 L693.6 431.7 L694.0 431.5 L693.7 431.3 L694.8 429.9 L694.6 428.7 L694.4 428.9 L694.6 427.9 L694.3 427.8 L694.9 426.6 L695.1 425.4 L694.2 425.5 L695.3 424.8 L695.1 423.9 L694.8 422.6 L695.4 422.6 L694.9 421.8 L695.4 422.5 L694.9 422.9 L695.3 424.1 L695.7 424.7 L695.8 425.6 L694.9 426.0 L694.9 426.5 L695.0 427.1 L695.2 427.2 L695.9 428.2 L696.3 428.6 L696.5 429.4 L696.2 430.2 L696.2 431.2 L695.8 432.1 L696.3 433.0 L695.9 432.8 L696.5 433.3 L696.0 434.6 L696.5 434.7 L696.8 436.6 L696.9 436.0 L697.2 437.5 L696.7 437.9 L696.2 438.9 L696.7 439.2 L697.1 440.6 L697.0 440.0 L697.1 441.7 L697.4 441.8 L697.4 442.4 L697.2 443.9 L697.4 444.0 L697.9 445.6 L698.0 445.4 L698.2 446.6 L697.3 447.8 L697.9 448.6 L697.7 449.7 L697.4 450.1 L698.2 450.7 L697.3 451.9 L698.2 451.9 L698.3 452.3 L698.9 453.3 L698.9 454.7 L698.8 455.3 L698.6 455.8 L698.4 457.6 L699.2 457.9 L699.1 457.9 L698.4 459.5 L698.8 460.4 L699.2 459.9 L699.5 459.0 L698.4 458.2 L699.4 456.8 L699.8 456.8 L698.8 456.1 L699.6 456.1 L699.2 455.1 L700.1 454.6 L699.2 453.1 L699.3 453.1 L700.0 451.7 L699.5 452.0 L700.0 450.4 L700.3 449.9 L700.6 449.8 L700.5 449.2 L699.5 447.4 L699.5 447.9 L699.8 446.5 L700.8 445.5 L700.5 446.0 L700.5 445.1 L700.7 444.7 L701.2 443.9 L701.4 442.0 L700.6 442.6 L701.5 441.3 L700.8 440.0 L701.1 440.3 L701.5 438.9 L700.9 437.9 L701.9 437.0 L700.9 437.2 L702.0 435.6 L702.1 435.5 L701.5 434.4 L701.3 434.3 L701.8 433.8 L702.4 433.0 L701.9 431.8 L701.2 431.1 L702.5 430.7 L702.3 428.7 L701.5 428.9 L702.6 427.3 L703.0 427.7 L702.7 426.9 L702.6 425.3 L701.9 424.6 L702.0 423.6 L702.8 423.8 L702.7 421.7 L703.7 421.0 L702.7 420.8 L703.3 420.0 L703.2 419.4 L703.7 418.7 L703.5 418.0 L704.7 416.6 L704.4 415.4 L704.2 414.9 L704.2 414.7 L705.1 413.5 L705.3 411.9 L704.7 411.6 L705.2 411.4 L705.4 410.7 L705.6 409.2 L705.1 409.7 L705.8 408.7 L705.7 408.0 L706.1 407.7 L706.4 407.3 L706.6 408.3 L705.9 409.2 L707.1 410.0 L707.2 410.2 L707.4 412.1 L707.3 412.9 L707.1 412.6 L706.9 413.3 L706.9 414.9 L707.1 415.7 L708.1 416.1 L707.3 416.5 L708.2 418.1 L707.8 418.0 L707.6 418.6 L707.7 420.1 L707.5 420.1 L707.5 420.9 L708.7 422.3 L708.0 422.8 L709.0 423.4 L708.9 424.7 L708.2 425.4 L708.3 425.2 L709.4 426.7 L709.2 427.8 L709.6 427.6 L709.7 429.1 L709.8 430.2 L709.0 430.5 L709.8 431.4 L709.9 431.6 L710.0 433.0 L710.5 433.6 L709.7 434.1 L709.3 434.6 L710.4 434.2 L709.8 433.6 L710.9 433.7 L710.7 432.9 L711.1 432.4 L710.7 430.7 L710.5 430.3 L711.9 429.6 L712.0 430.0 L711.2 428.0 L711.1 427.7 L711.5 427.5 L712.1 426.7 L711.9 425.6 L711.6 426.2 L711.9 424.2 L712.2 423.8 L712.6 422.9 L712.5 423.0 L713.5 422.3 L713.5 421.5 L713.5 420.1 L714.0 419.8 L714.0 419.2 L713.5 417.7 L714.3 417.3 L713.6 416.5 L714.3 415.2 L714.9 414.5 L714.0 412.9 L714.9 413.2 L714.9 412.8 L715.1 413.6 L715.3 413.4 L716.7 415.3 L716.5 416.4 L716.4 416.5 L717.7 417.1 L717.3 418.7 L718.2 419.1 L718.5 419.4 L718.8 419.2 L718.2 420.8 L719.3 420.4 L719.5 421.7 L719.2 421.6 L719.9 423.1 L720.0 422.8 L720.0 424.3 L720.3 423.7 L720.6 425.1 L721.2 424.9 L720.8 425.6 L721.9 426.8 L720.9 426.9 L721.6 427.9 L722.5 429.4 L722.3 429.2 L723.0 430.7 L722.6 430.5 L723.3 431.9 L722.4 431.6 L723.4 432.7 L723.3 433.4 L723.5 434.4 L723.8 435.7 L723.9 436.0 L724.5 435.7 L724.7 436.8 L724.2 437.9 L724.6 438.4 L724.4 439.2 L725.6 439.6 L725.1 439.3 L726.2 439.3 L725.9 438.6 L726.3 438.5 L726.9 437.3 L726.4 437.5 L726.9 435.9 L727.2 435.0 L728.0 434.5 L728.1 434.1 L727.5 433.2 L728.4 432.7 L727.9 431.2 L728.9 430.6 L728.4 429.5 L729.1 429.7 L729.9 429.5 L729.6 429.2 L730.2 428.2 L730.1 427.9 L730.2 427.3 L730.8 425.8 L731.0 425.1 L731.6 426.2 L731.4 426.9 L731.4 427.6 L732.1 428.5 L731.9 429.2 L732.0 429.8 L732.6 429.2 L732.4 430.9 L732.4 430.4 L732.6 432.1 L733.5 432.2 L733.7 432.4 L733.4 433.3 L733.5 434.7 L733.4 434.0 L733.9 434.9 L733.5 435.3 L734.8 436.6 L735.0 437.7 L735.0 437.5 L734.3 438.0 L735.3 439.2 L735.1 440.7 L735.8 441.3 L735.9 442.0 L736.0 443.1 L735.7 443.4 L736.5 444.5 L736.9 445.2 L736.4 445.9 L736.1 447.3 L736.4 447.6 L736.8 447.7 L736.8 449.0 L737.2 449.1 L737.1 450.3 L737.7 451.1 L738.3 450.8 L740.2 450.7 L741.0 449.9 L741.3 450.8 L741.5 451.1 L742.2 452.5 L742.4 453.5 L743.1 453.1 L743.7 454.2 L742.8 455.2 L743.5 456.1 L743.1 456.2 L743.4 456.7 L743.6 457.1 L744.2 458.6 L745.2 458.8 L744.3 459.2 L744.6 461.1 L744.7 461.8 L745.1 463.1 L745.5 463.2 L745.5 463.7 L745.9 465.0 L745.8 466.1 L746.1 467.2 L746.9 468.0 L746.5 468.4 L746.9 469.8 L746.8 470.2 L747.2 470.2 L748.1 469.2 L748.0 469.6 L747.4 468.4 L747.9 467.9 L747.7 466.7 L747.7 466.6 L747.9 466.2 L748.1 464.7 L747.7 464.0 L748.1 463.3 L747.8 462.9 L748.0 462.0 L749.0 462.1 L748.6 460.4 L748.1 460.2 L749.2 458.8 L748.8 458.6 L749.5 457.3 L748.7 456.8 L749.4 455.9 L749.0 454.9 L749.8 454.2 L748.5 454.1 L748.8 452.7 L749.8 452.5 L749.7 451.4 L749.0 451.2 L749.9 449.5 L749.1 449.3 L749.6 447.7 L749.8 448.0 L749.8 446.1 L750.4 445.3 L750.3 444.7 L750.6 443.7 L750.3 443.2 L751.0 441.7 L750.1 442.4 L750.4 440.7 L750.8 440.6 L751.0 440.0 L751.7 439.8 L751.3 439.9 L751.9 438.9 L752.1 437.8 L752.5 438.3 L752.0 437.4 L752.5 437.5 L752.9 436.0 L752.3 435.2 L752.9 434.6 L753.6 434.4 L753.0 433.8 L753.2 433.2 L754.0 432.2 L753.2 431.3 L753.6 430.9 L753.9 430.2 L754.4 429.5 L754.9 428.2 L754.9 427.5 L755.2 426.6 L754.4 426.1 L755.7 424.6 L755.2 423.8 L755.0 423.4 L755.8 422.9 L755.0 421.3 L756.1 420.5 L755.2 419.6 L755.2 418.7 L756.4 417.9 L756.2 417.8 L756.7 417.0 L756.5 416.3 L756.8 415.7 L755.8 413.8 L756.8 414.1 L756.8 412.4 L757.0 411.8 L757.3 412.0 L756.6 410.3 L757.6 410.1 L757.7 409.4 L757.6 409.1 L757.0 409.1 L758.2 408.2 L758.2 407.5 L757.5 406.8 L757.5 406.0 L758.1 405.1 L758.6 405.1 L757.7 404.2 L758.2 402.7 L759.0 403.0 L758.5 401.9 L758.6 400.6 L759.3 400.3 L759.4 400.1 L758.4 399.4 L759.5 397.6 L758.6 397.8 L758.8 396.6 L759.0 395.1 L758.5 395.6 L759.1 394.9 L759.7 394.2 L759.2 392.9 L759.8 392.3 L760.0 390.5 L759.1 390.0 L760.2 389.3 L760.1 389.5 L760.1 388.3 L759.8 386.9 L760.8 387.1 L760.2 386.0 L759.6 384.6 L760.1 383.9 L760.3 383.3 L760.3 383.0 L759.9 382.2 L761.0 381.2 L761.0 381.2 L760.4 380.0 L761.5 380.7 L761.5 378.8 L761.2 378.5 L761.5 377.9 L760.9 378.1 L761.5 377.2 L761.6 378.6 L761.6 379.2 L761.9 380.2 L762.4 380.9 L762.0 382.3 L762.8 382.7 L763.6 383.9 L762.6 383.9 L763.7 384.8 L764.1 385.5 L763.8 385.0 L764.8 385.8 L763.9 386.9 L764.6 387.2 L765.7 388.2 L764.5 387.6 L764.8 387.4 L764.7 386.8 L765.3 385.4 L766.1 384.8 L765.2 385.3 L765.8 383.7 L765.7 383.6 L766.4 382.6 L765.9 382.5 L766.5 381.8 L766.9 380.8 L765.9 380.2 L765.9 379.1 L765.9 378.3 L766.1 378.4 L766.1 376.8 L767.6 376.1 L767.6 375.6 L767.2 374.7 L767.9 374.2 L766.9 374.4 L767.7 372.5 L766.8 372.4 L767.7 371.4 L767.1 371.0 L767.9 370.1 L767.6 369.4 L768.3 368.8 L768.2 368.4 L768.5 367.1 L768.0 366.0 L768.1 365.6 L767.9 365.2 L769.2 363.9 L768.9 364.2 L769.1 364.2 L768.6 365.4 L769.1 366.0 L768.7 366.7 L769.9 366.6 L769.4 367.9 L769.1 368.0 L770.2 368.3 L769.4 369.7 L770.4 369.8 L770.6 371.1 L770.7 371.8 L770.2 372.4 L770.5 373.5 L771.1 374.4 L770.3 374.8 L770.4 375.3 L770.6 376.4 L770.9 377.1 L772.1 376.8 L771.1 377.9 L771.6 379.0 L772.2 379.7 L772.2 379.7 L772.1 381.4 L772.9 381.2 L772.3 382.8 L772.2 383.0 L772.7 384.1 L773.5 383.9 L772.6 385.0 L772.8 385.0 L774.0 386.0 L773.8 386.4 L773.5 387.8 L774.1 387.7 L774.4 388.6 L774.0 389.4 L774.2 389.0 L775.5 389.5 L776.1 389.7 L775.5 391.0 L776.6 391.3 L775.8 392.1 L777.3 391.9 L777.7 393.6 L777.9 394.6 L777.3 393.8 L778.3 393.5 L777.5 392.7 L778.2 392.1 L778.4 391.7 L777.3 391.2 L777.9 390.8 L778.3 389.9 L777.7 388.5 L779.0 388.5 L779.1 387.8 L778.8 387.3 L778.5 386.2 L778.6 384.5 L779.1 384.6 L778.7 384.0 L778.6 382.4 L779.1 381.7 L779.3 381.5 L779.5 380.4 L779.4 379.9 L779.4 378.2 L778.9 377.6 L779.2 376.3 L779.8 376.7 L779.9 375.4 L779.5 373.8 L779.4 373.0 L780.5 372.5 L780.4 371.5 L780.5 371.0 L780.6 370.8 L781.0 369.2 L781.0 368.6 L781.2 368.5 L780.7 368.0 L781.3 367.1 L781.1 366.2 L781.0 365.9 L781.3 365.2 L780.6 364.0 L781.3 363.8 L780.9 362.7 L781.6 362.4 L782.0 361.2 L782.1 361.7 L781.8 361.0 L782.5 359.3 L782.5 358.8 L782.4 358.6 L781.9 357.2 L781.8 357.1 L782.9 357.2 L782.9 356.0 L782.9 355.8 L783.2 355.6 L782.6 353.9 L782.6 353.5 L783.2 353.4 L783.6 352.1 L783.0 352.3 L783.2 351.1 L783.6 350.9 L783.0 350.0 L783.5 349.4 L783.6 348.9 L783.2 348.8 L783.4 348.4 L784.6 347.9 L783.7 347.2 L784.1 347.3 L783.8 345.5 L784.7 345.4 L785.1 343.9 L784.6 343.0 L784.2 342.6 L784.8 341.8 L784.3 340.5 L784.4 340.2 L786.0 338.2 L785.1 337.7 L786.5 336.1 L787.1 335.5 L786.5 334.2 L786.6 334.4 L787.8 333.5 L787.9 333.2 L789.0 332.7 L789.2 332.0 L789.7 332.3 L789.8 333.7 L789.6 334.0 L789.6 335.0 L790.6 335.7 L790.3 336.2 L790.3 337.3 L791.2 338.3 L791.6 340.9 L791.7 341.6 L791.7 341.9 L791.7 343.1 L792.8 343.9 L792.8 343.1 L793.0 341.9 L792.9 340.1 L793.0 340.2 L793.2 338.7 L793.7 337.7 L793.7 337.0 L793.9 335.6 L794.6 335.0 L794.2 333.8 L794.1 333.2 L794.5 333.2 L795.1 332.6 L795.0 331.5 L795.8 330.1 L795.2 330.1 L796.4 329.1 L796.0 328.3 L796.2 328.1 L796.7 327.3 L796.6 327.0 L796.4 327.4 L796.7 326.8 L797.6 326.3 L797.3 326.0 L797.0 325.5 L798.0 326.8 L798.6 327.5 L798.7 327.7 L799.2 328.5 L798.9 328.0 L798.9 328.5 L799.3 328.5 L800.2 329.7 L800.6 329.9 L801.3 331.7 L800.8 332.2 L801.2 334.4 L802.2 334.5 L801.8 336.3 L801.4 337.1 L802.8 337.0 L802.1 338.0 L802.4 338.6 L802.7 338.6 L802.7 340.3 L803.8 339.8 L803.1 341.4 L803.8 341.4 L803.5 342.7 L804.8 342.9 L804.7 343.2 L805.1 344.4 L804.9 345.4 L805.5 346.7 L804.6 345.3 L805.3 345.0 L805.4 344.6 L805.2 343.1 L806.0 342.4 L806.3 342.2 L806.2 342.0 L806.6 341.0 L806.3 340.3 L806.0 339.0 L805.7 338.3 L806.9 337.9 L806.3 337.2 L807.2 336.5 L806.8 336.6 L807.5 335.4 L806.4 335.3 L807.7 333.6 L807.0 333.0 L807.5 332.7 L807.5 332.5 L807.8 331.4 L807.6 330.3 L807.9 330.9 L808.3 329.5 L808.3 328.2 L807.7 327.9 L808.8 326.8 L808.1 326.7 L808.7 325.0 L809.1 325.3 L808.5 323.6 L808.4 322.9 L808.7 321.7 L808.8 321.4 L809.4 321.1 L808.8 319.5 L808.9 319.3 L809.6 318.0 L809.2 318.0 L809.5 316.9 L810.5 316.2 L809.8 315.7 L809.9 314.9 L810.5 315.4 L811.2 313.9 L812.0 314.4 L812.6 312.9 L812.2 311.8 L812.5 310.6 L814.0 309.1 L814.8 308.0 L814.8 308.1 L815.3 308.9 L814.6 309.4 L815.4 310.8 L816.2 311.7 L816.4 312.2 L816.6 312.9 L816.3 313.4 L816.8 314.7 L816.8 314.6 L817.0 314.9 L817.6 315.6 L817.7 315.9 L817.9 316.8 L817.4 318.3 L817.8 317.6 L818.7 318.8 L818.3 319.6 L818.6 321.2 L818.8 321.9 L819.4 322.6 L818.6 323.3 L819.2 323.4 L819.3 324.8 L820.0 325.7 L819.6 326.1 L820.5 324.5 L821.1 324.0 L821.3 322.6 L821.7 321.5 L821.4 319.8 L821.4 319.6 L822.9 319.7 L822.1 319.6 L822.8 319.0 L822.9 318.9 L824.1 319.0 L823.8 317.5 L824.9 317.2 L824.5 317.0 L824.4 316.3 L825.6 316.9 L825.6 318.7 L826.5 318.1 L826.0 319.3 L827.0 319.0 L826.4 318.8 L827.0 318.9 L827.2 318.6 L828.2 319.8 L827.3 319.5 L827.7 320.9 L828.9 321.4 L828.1 322.3 L828.9 322.4 L829.2 323.8 L829.7 325.3 L829.6 325.1 L830.4 325.7 L830.3 324.4 L830.2 323.5 L831.0 323.4 L831.6 322.7 L830.9 321.7 L831.7 322.2 L831.2 321.3 L831.9 321.1 L831.7 320.0 L831.7 319.1 L832.5 318.2 L832.6 318.8 L833.2 317.3 L832.9 316.9 L833.3 316.0 L834.0 316.8 L833.2 315.6 L834.2 315.0 L833.5 313.5 L833.7 312.2 L834.9 311.8 L834.8 311.2 L834.5 310.3 L836.2 308.3 L835.8 308.3 L836.8 307.6 L837.7 307.8 L839.2 307.2 L839.1 307.1 L840.4 307.4 L840.4 306.8 L840.2 305.7 L840.5 305.3 L840.5 304.6 L840.8 304.7 L841.5 304.1 L842.1 302.7 L841.5 303.1 L841.9 302.0 L842.8 301.8 L843.2 300.7 L843.4 299.9 L843.2 299.7 L843.6 299.1 L843.4 297.7 L843.6 296.7 L843.9 298.2 L844.2 299.0 L843.9 299.8 L844.2 299.6 L843.9 300.9 L843.5 301.8 L844.6 302.5 L844.6 302.5 L844.1 303.9 L844.5 303.4 L844.8 304.3 L844.5 305.4 L844.1 306.3 L843.9 306.1 L844.7 308.0 L844.4 307.4 L845.1 308.8 L844.8 309.6 L844.6 310.5 L845.1 310.8 L844.1 311.1 L845.5 312.5 L845.0 313.1 L844.8 313.3 L844.6 314.1 L845.3 315.2 L844.9 315.8 L845.4 316.2 L845.0 317.1 L844.7 317.9 L845.5 318.3 L845.6 318.6 L845.7 319.1 L845.2 320.2 L845.3 320.4 L845.7 321.4 L846.0 322.4 L845.6 322.7 L845.1 324.0 L846.2 324.7 L845.2 324.6 L846.3 325.1 L846.3 326.2 L845.3 326.8 L845.9 327.1 L845.4 328.5 L846.4 328.5 L846.6 330.0 L845.5 330.7 L846.2 331.3 L845.7 331.4 L846.0 332.6 L846.5 333.1 L846.4 334.0 L847.6 335.1 L847.4 335.8 L848.2 336.1 L848.0 337.2 L847.5 337.6 L848.5 338.2 L848.5 339.1 L849.3 339.4 L849.1 338.7 L849.5 338.4 L850.3 338.3 L851.5 338.2 L851.6 337.4 L853.0 337.3 L853.4 338.3 L853.7 338.1 L853.8 338.0 L854.0 339.4 L855.3 339.5 L855.9 340.2 L856.3 340.2 L856.8 341.9 L856.1 341.2 L855.9 340.8 L857.0 339.0 L856.9 339.3 L857.0 338.7 L857.6 337.4 L857.4 337.9 L857.9 337.1 L857.4 336.6 L858.2 336.0 L858.0 335.4 L857.4 334.1 L858.6 334.4 L858.0 333.7 L858.9 332.3 L858.0 332.2 L859.2 331.8 L858.9 331.2 L859.2 330.7 L858.9 330.2 L859.4 329.1 L859.0 328.5 L859.1 328.9 L858.9 327.9 L859.6 326.9 L859.8 325.8 L859.6 325.4 L860.2 323.2 L860.6 323.2 L861.4 322.7 L861.8 322.5 L862.6 322.3 L863.7 321.9 L864.8 320.8 L864.9 319.7 L865.0 319.6 L865.1 320.1 L866.1 320.8 L866.5 321.2 L866.4 322.6 L866.7 323.3 L866.2 324.2 L866.1 325.3 L866.8 326.0 L867.5 327.1 L867.1 328.6 L868.0 329.8 L867.5 330.0 L868.0 330.5 L868.4 331.7 L868.9 331.7 L869.0 333.3 L869.0 333.6 L869.2 333.9 L869.1 334.4 L869.1 336.0 L868.8 336.2 L869.5 336.9 L868.7 337.3 L869.8 338.4 L869.1 339.7 L870.0 340.4 L869.6 340.0 L869.3 341.4 L869.6 342.1 L869.0 343.4 L869.9 343.7 L869.9 343.8 L870.1 344.5 L869.8 345.6 L870.4 346.1 L869.9 347.6 L869.8 347.4 L870.2 348.2 L870.3 348.8 L870.9 350.2 L870.2 350.9 L870.0 350.7 L870.4 352.2 L871.0 352.7 L871.4 352.5 L871.2 353.5 L870.9 354.9 L870.8 354.6 L870.9 355.6 L871.1 356.0 L871.0 357.0 L871.0 358.2 L870.7 358.7 L871.7 359.1 L871.7 360.8 L871.8 360.3 L871.9 360.9 L871.2 362.6 L871.6 363.1 L872.1 363.4 L871.8 363.7 L871.6 364.6 L872.7 365.1 L872.0 366.3 L872.1 366.8 L872.5 367.4 L872.7 368.3 L873.0 368.7 L871.9 370.0 L872.0 370.0 L872.7 370.1 L872.2 369.5 L872.6 368.4 L873.0 367.3 L872.7 366.7 L873.2 365.7 L872.6 364.7 L872.7 363.8 L873.1 363.8 L874.0 362.4 L873.2 362.7 L874.3 361.6 L874.5 361.6 L873.4 360.5 L874.4 360.2 L874.1 358.2 L875.0 358.8 L874.5 357.8 L874.7 357.1 L874.7 356.3 L875.1 356.0 L874.1 354.4 L875.4 354.4 L874.3 353.4 L874.9 353.3 L874.9 352.4 L875.1 351.9 L875.7 350.0 L875.0 350.3 L876.1 349.3 L875.6 348.6 L875.7 347.9 L875.3 346.7 L876.0 347.1 L875.6 346.2 L876.4 345.1 L876.0 346.4 L876.5 347.3 L876.1 347.3 L876.2 348.0 L876.4 349.4 L877.3 349.6 L877.2 350.1 L877.5 351.1 L878.0 352.0 L877.1 352.3 L877.2 353.4 L878.5 354.1 L877.3 354.5 L877.7 355.4 L878.2 356.9 L877.8 357.1 L878.4 357.8 L878.7 359.4 L878.8 359.5 L878.7 361.0 L879.2 361.4 L878.6 362.3 L879.5 362.1 L879.4 363.0 L878.8 363.1 L880.1 363.4 L879.7 364.9 L880.1 364.8 L879.7 365.9 L880.5 364.3 L879.9 363.3 L881.1 362.4 L880.3 362.0 L880.8 361.0 L881.3 359.2 L880.6 358.4 L881.9 357.6 L881.5 356.8 L882.1 356.3 L881.4 355.5 L881.9 355.5 L882.0 354.9 L882.4 354.3 L882.9 352.8 L882.6 352.1 L883.2 351.9 L883.1 351.2 L883.8 350.3 L884.0 349.3 L883.5 349.9 L884.4 349.3 L883.5 349.8 L884.6 350.6 L884.1 352.3 L884.2 352.0 L884.3 352.9 L884.1 354.8 L885.4 355.2 L884.9 356.3 L885.0 356.9 L885.9 358.6 L885.6 358.3 L886.2 360.2 L885.5 359.7 L886.3 361.0 L886.1 362.1 L886.0 363.2 L886.3 363.5 L887.1 364.0 L886.5 364.3 L886.1 365.7 L887.2 365.8 L887.4 366.6 L887.4 368.1 L887.3 367.9 L886.9 368.5 L887.5 368.0 L888.4 367.0 L888.1 366.5 L888.4 365.6 L888.1 365.3 L887.6 363.8 L887.9 362.9 L888.6 363.4 L888.6 362.6 L887.9 361.5 L888.5 360.3 L889.2 358.9 L889.2 358.5 L888.2 358.5 L889.4 357.2 L889.5 355.7 L889.3 356.1 L888.7 354.5 L889.7 353.5 L889.4 353.6 L889.4 352.1 L889.6 352.1 L889.8 351.9 L889.6 351.1 L890.3 349.4 L890.2 349.4 L890.1 347.8 L889.8 347.6 L889.7 347.2 L889.9 346.7 L890.3 345.8 L890.3 345.0 L890.8 344.1 L890.8 343.7 L891.1 342.0 L890.9 341.9 L890.9 341.5 L890.7 340.1 L891.0 340.3 L890.9 339.0 L891.9 339.2 L891.8 337.4 L891.9 336.9 L891.4 336.1 L892.2 335.2 L891.8 335.5 L891.4 334.0 L892.1 333.7 L892.7 332.6 L892.9 333.1 L892.3 332.0 L892.8 331.4 L892.6 330.1 L892.1 329.9 L892.8 328.9 L892.1 328.7 L892.3 327.9 L892.5 327.1 L893.2 326.9 L893.4 326.3 L893.5 325.1 L892.9 323.7 L893.8 323.5 L893.7 322.0 L892.9 321.2 L893.8 321.4 L893.1 319.5 L894.8 318.6 L894.5 318.6 L896.0 318.1 L896.3 317.4 L897.5 317.5 L897.2 316.5 L897.8 316.4 L898.1 314.5 L897.2 313.6 L897.9 313.9 L898.1 312.9 L898.2 312.6 L898.5 311.9 L899.0 310.4 L899.0 310.6 L898.3 309.5 L899.2 307.9 L899.1 307.1 L898.7 306.5 L899.4 306.8 L899.2 306.4 L899.0 304.8 L899.8 305.2 L899.3 304.5 L900.1 303.0 L900.2 303.1 L900.6 302.2 L899.7 302.1 L900.4 301.4 L900.6 300.8 L900.7 299.9 L900.3 299.2 L901.2 297.9 L901.4 297.7 L901.0 297.2 L900.7 296.2 L900.7 295.8 L901.9 295.4 L901.0 294.3 L901.0 293.1 L900.8 293.0 L900.9 292.6 L901.6 291.7 L901.2 291.3 L901.9 290.7 L901.3 289.1 L902.4 288.0 L902.2 287.1 L902.3 287.7 L902.5 285.7 L902.3 285.1 L902.1 285.2 L901.6 284.0 L902.6 283.3 L902.9 282.7 L901.9 281.1 L901.8 281.7 L902.0 279.7 L902.9 278.8 L903.8 279.1 L904.2 278.5 L905.0 279.2 L905.2 279.7 L905.6 280.2 L906.8 280.4 L907.6 281.6 L907.2 280.6 L908.4 279.6 L908.9 279.4 L909.5 279.3 L909.8 278.6 L909.3 277.5 L909.9 275.5 L910.0 275.0 L909.8 273.3 L911.3 273.0 L911.6 272.5 L912.2 271.1 L912.3 271.5 L911.6 271.2 L912.5 270.3 L913.4 271.2 L913.3 271.8 L912.9 272.2 L913.5 272.6 L914.9 273.4 L914.7 274.7 L915.5 275.4 L915.7 274.4 L915.1 273.7 L916.1 272.8 L915.8 272.4 L915.5 271.6 L915.2 271.2 L915.8 270.6 L915.4 269.5 L916.3 270.1 L916.3 269.4 L916.9 268.1 L916.7 267.3 L917.2 267.8 L917.1 266.6 L916.3 266.0 L917.2 265.4 L916.6 263.9 L917.4 263.8 L917.6 263.2 L917.0 262.3 L918.3 261.5 L917.3 259.8 L918.4 260.3 L917.8 259.3 L918.6 258.6 L918.0 257.3 L919.1 257.1 L918.3 256.0 L918.9 255.2 L919.2 254.9 L918.5 252.8 L918.8 253.2 L919.2 252.2 L919.9 250.4 L920.1 249.8 L919.1 249.9 L920.0 248.3 L919.4 247.7 L920.4 246.5 L920.0 246.4 L920.6 245.7 L921.9 244.5 L922.3 244.1 L922.6 244.0 L923.2 243.7 L924.2 242.7 L925.4 242.2 L925.6 241.0 L925.2 240.7 L924.8 239.8 L925.8 239.4 L925.7 239.2 L926.0 237.9 L925.8 238.1 L925.7 237.0 L925.9 236.3 L926.1 236.7 L926.2 235.3 L927.1 235.6 L927.0 234.9 L926.8 234.0 L927.4 233.5 L927.5 232.0 L927.6 230.8 L927.4 231.4 L927.7 230.3 L928.3 229.9 L927.7 228.2 L929.0 227.8 L928.3 227.5 L929.3 226.7 L928.8 226.0 L928.8 225.2 L929.2 224.0 L929.2 223.8 L929.3 223.2 L929.3 222.1 L929.9 221.6 L930.7 220.9 L930.5 220.7 L930.7 221.3 L930.8 222.7 L929.8 222.2 L930.7 223.4 L931.1 224.6 L930.5 225.0 L930.3 225.1 L930.6 225.8 L931.4 227.7 L931.1 227.2 L931.7 228.7 L931.3 229.3 L931.7 229.9 L931.0 230.2 L932.2 231.2 L932.2 231.8 L931.4 232.3 L932.5 233.4 L931.4 234.6 L931.9 234.8 L931.6 236.5 L932.9 236.2 L932.2 238.2 L933.2 238.6 L932.2 239.3 L932.2 240.4 L933.2 240.7 L933.4 241.9 L933.2 241.8 L933.2 242.1 L932.6 243.2 L932.9 243.9 L933.7 244.1 L933.2 245.4 L933.9 246.2 L933.9 247.3 L933.5 246.4 L934.1 245.0 L934.5 245.1 L935.4 244.6 L936.3 245.3 L936.0 244.4 L937.0 244.9 L937.3 243.3 L937.0 241.7 L938.4 240.3 L938.8 240.1 L938.8 238.3 L939.5 239.3 L939.7 240.0 L939.8 241.4 L939.9 242.1 L939.9 243.6 L939.5 245.1 L940.7 245.9 L940.6 247.1 L941.0 247.8 L940.5 248.3 L941.0 249.8 L940.6 249.8 L941.5 250.8 L942.1 250.5 L942.2 250.9 L942.7 250.7 L941.7 251.1 L942.8 252.8 L942.5 253.2 L942.8 253.9 L942.5 254.6 L943.1 255.6 L943.0 255.9 L944.0 256.7 L944.0 256.4 L943.7 254.9 L944.3 254.8 L945.0 253.3 L944.4 253.5 L945.1 252.0 L946.1 251.1 L945.6 250.1 L945.8 250.2 L946.7 249.4 L946.2 247.9 L946.1 248.0 L946.7 246.7 L947.4 247.2 L947.2 246.3 L947.4 245.4 L947.8 246.4 L949.3 247.0 L949.8 247.0 L950.6 246.6 L951.5 246.0 L952.3 245.4 L953.1 245.9 L952.2 244.4 L953.3 243.2 L953.9 242.9 L954.3 241.7 L954.2 241.4 L955.1 241.2 L955.5 240.9 L955.7 239.5 L955.8 239.8 L956.3 238.5 L955.9 238.0 L957.2 239.5 L957.2 240.6 L958.0 240.1 L958.5 241.7 L957.5 242.6 L957.9 242.5 L958.4 242.4 L959.4 242.7 L959.8 243.0 L960.6 243.0 L960.3 244.0 L961.2 244.7 L961.7 245.2 L962.3 246.8 L961.6 247.2 L963.2 247.9 L963.3 247.9 L962.9 247.4 L962.6 246.9 L962.9 246.3 L963.3 246.1 L963.0 244.9 L963.5 244.9 L963.9 243.4 L963.5 243.5 L964.7 242.5 L964.4 242.4 L964.7 241.0 L965.4 240.7 L964.3 239.0 L964.4 238.0 L965.1 237.4 L965.7 237.4 L965.7 235.3 L965.4 235.8 L965.5 234.7 L966.8 233.3 L966.9 232.6 L966.2 231.4 L965.9 231.5 L966.8 229.6 L967.0 230.1 L966.9 229.4 L967.5 228.2 L967.0 227.3 L966.6 226.9 L966.6 226.1 L967.6 225.3 L966.9 223.6 L967.4 223.9 L967.9 222.0 L967.8 221.6 L967.3 220.9 L968.5 220.0 L968.4 220.3 L968.5 219.5 L968.4 217.6 L967.9 217.2 L968.3 217.0 L969.4 216.3 L968.8 214.7 L968.3 214.4 L968.5 214.2 L969.3 212.8 L969.1 213.1 L970.2 213.1 L970.9 213.0 L971.3 214.1 L971.5 215.4 L971.3 216.5 L971.0 217.5 L972.2 218.6 L972.3 219.6 L972.4 219.8 L971.8 220.9 L972.0 221.5 L973.2 222.5 L973.1 223.0 L973.2 223.8 L973.4 224.4 L973.1 224.9 L973.1 226.3 L973.0 226.0 L973.9 227.4 L973.4 227.1 L973.6 228.7 L973.2 228.5 L974.7 229.7 L974.2 230.8 L973.9 231.0 L974.0 231.8 L974.8 232.0 L975.2 233.4 L974.5 233.7 L974.7 234.9 L974.8 234.7 L976.6 234.3 L976.3 234.5 L977.1 232.9 L977.7 232.1 L977.5 232.5 L977.8 231.3 L978.9 230.7 L979.6 228.7 L979.9 228.3 L980.2 227.4 L979.5 227.3 L980.3 228.5 L980.6 228.5 L980.4 228.8 L980.6 230.3 L981.1 231.1 L980.1 231.7 L980.6 232.6 L981.3 233.4 L981.2 233.8 L980.3 233.5 L981.7 234.8 L980.9 235.3 L980.9 235.6 L980.8 237.3 L982.0 237.5 L981.3 238.4 L981.1 238.7 L981.6 240.2 L982.2 239.9 L981.5 240.6 L982.5 241.4 L982.3 242.0 L982.5 242.9 L982.5 244.5 L982.0 244.1 L982.5 245.1 L982.8 246.0 L982.1 247.2 L983.6 248.3 L983.9 248.5 L983.3 248.4 L984.1 249.7 L984.3 249.9 L985.1 251.5 L984.6 252.1 L985.0 252.1 L986.0 253.1 L986.5 253.1 L986.3 254.7 L987.0 255.5 L987.8 256.1 L987.9 258.2 L986.9 258.9 L988.1 259.0 L987.5 260.1 L988.4 260.4 L988.3 261.9 L987.4 263.2 L987.7 262.8 L988.6 264.1 L988.0 264.6 L987.6 265.7 L988.0 266.4 L988.7 267.7 L988.5 267.9 L988.2 268.2 L988.0 270.2 L988.5 270.8 L988.7 270.6 L989.4 270.8 L989.1 269.8 L990.0 269.2 L989.6 268.4 L990.3 267.5 L989.5 267.2 L990.5 267.3 L990.7 266.3 L991.0 265.1 L991.1 264.2 L991.2 263.5 L991.3 263.1 L991.2 262.7 L991.4 261.5 L992.5 261.1 L991.6 260.4 L992.2 260.4 L992.7 259.3 L993.4 258.9 L993.2 259.5 L992.8 259.7 L993.6 259.2 L993.4 260.5 L994.5 260.9 L993.8 261.8 L995.1 262.3 L994.2 263.9 L995.2 264.8 L994.7 264.7 L996.3 266.7 L995.2 267.5 L996.4 268.1 L996.9 268.2 L996.9 269.0 L997.0 268.7 L997.2 270.3 L998.1 269.3 L998.1 269.2 L997.6 268.2 L997.8 267.3 L998.8 267.1 L998.6 265.5 L999.2 265.3 L999.0 264.3 L999.7 264.3 L999.4 264.0 L1000.1 262.6 L1000.4 261.9 L1000.1 262.2 L999.7 263.8 L1000.4 264.9 L1000.6 265.6 L1000.8 265.5 L1000.2 267.2 L1000.6 267.9 L1000.5 268.6 L1001.6 269.6 L1001.6 270.3 L1001.2 270.6 L1001.0 271.1 L1001.1 271.9 L1001.1 273.2 L1002.4 274.3 L1001.4 275.0 L1002.0 275.0 L1002.8 275.5 L1002.6 276.4 L1002.5 277.3 L1002.3 277.8 L1003.4 277.9 L1002.9 278.7 L1002.4 279.2 L1002.7 280.2 L1003.8 279.9 L1003.0 280.9 L1004.2 281.8 L1003.0 282.0 L1003.4 282.1 L1004.3 281.5 L1004.2 280.3 L1005.4 279.9 L1005.4 279.3 L1005.9 279.3 L1006.3 277.9 L1006.0 278.2 L1006.2 277.6 L1007.2 277.8 L1008.1 278.8 L1007.3 278.2 L1008.2 276.9 L1008.3 277.3 L1008.4 275.6 L1009.1 275.4 L1008.6 274.4 L1008.2 273.8 L1008.9 272.1 L1008.7 272.0 L1008.7 270.8 L1010.0 269.5 L1009.5 268.5 L1009.9 268.2 L1010.6 267.3 L1009.8 265.7 L1010.3 265.9 L1011.2 264.3 L1010.9 264.5 L1010.6 263.2 L1011.1 262.5 L1011.4 263.1 L1011.6 263.9 L1013.1 265.3 L1012.7 265.7 L1013.2 267.3 L1014.3 267.6 L1013.9 268.4 L1015.0 269.3 L1014.8 270.0 L1016.3 270.9 L1016.8 270.4 L1016.2 270.6 L1016.8 271.9 L1016.8 272.1 L1016.1 273.7 L1015.8 274.2 L1017.0 274.3 L1016.8 275.6 L1016.8 275.9 L1016.6 276.9 L1016.8 276.7 L1016.1 278.0 L1015.9 277.9 L1015.9 279.4 L1016.3 280.3 L1017.0 280.9 L1016.7 280.6 L1017.1 281.9 L1017.1 281.7 L1017.1 282.8 L1016.4 284.1 L1016.6 284.9 L1016.5 285.7 L1016.5 285.1 L1016.7 286.3 L1016.2 286.9 L1016.9 287.7 L1016.3 289.0 L1016.7 288.8 L1016.4 290.1 L1016.6 291.0 L1017.4 290.5 L1017.1 291.4 L1017.0 292.5 L1017.5 293.3 L1016.4 293.6 L1017.5 294.3 L1016.4 295.7 L1017.5 295.5 L1017.2 297.0 L1017.6 296.9 L1016.9 298.1 L1016.7 298.9 L1016.7 298.4 L1016.9 300.1 L1017.7 300.7 L1016.5 300.7 L1016.9 302.4 L1016.7 302.8 L1017.9 302.9 L1017.6 303.3 L1017.8 304.5 L1018.0 305.1 L1017.4 305.2 L1017.7 306.5 L1017.8 307.0 L1017.6 307.9 L1017.4 307.8 L1017.3 308.6 L1016.9 309.8 L1017.2 310.1 L1017.7 311.2 L1017.4 312.1 L1017.6 312.2 L1018.2 312.8 L1017.8 313.4 L1017.1 314.5 L1018.2 315.1 L1018.0 316.2 L1017.3 315.9 L1017.5 316.7 L1017.6 317.5 L1018.1 319.1 L1017.6 319.6 L1017.2 320.4 L1017.9 320.9 L1017.8 320.5 L1018.1 322.0 L1018.4 322.0 L1018.3 323.2 L1018.3 324.2 L1018.6 324.7 L1018.0 325.3 L1018.7 325.0 L1017.8 324.8 L1018.6 323.0 L1018.1 323.5 L1018.1 321.7 L1018.6 321.1 L1018.7 321.1 L1019.7 321.2 L1018.5 319.6 L1019.9 318.8 L1019.5 318.8 L1020.2 318.8 L1019.3 318.0 L1020.0 316.5 L1020.2 315.7 L1020.8 315.2 L1020.3 315.4 L1020.9 314.8 L1020.6 313.6 L1021.2 312.8 L1021.0 312.4 L1020.8 311.1 L1021.5 310.7 L1020.7 310.4 L1021.0 309.9 L1021.3 309.3 L1021.1 308.1 L1021.3 307.6 L1021.8 307.1 L1022.3 305.7 L1021.7 306.0 L1022.2 305.0 L1023.2 303.6 L1023.4 303.1 L1023.6 302.6 L1023.2 302.2 L1023.5 301.3 L1024.0 300.9 L1024.0 300.0 L1024.3 301.2 L1023.6 301.1 L1024.2 301.3 L1025.1 302.0 L1025.0 302.5 L1024.8 303.0 L1025.3 303.1 L1026.0 303.8 L1026.0 305.2 L1026.8 305.5 L1026.4 306.9 L1026.6 307.5 L1026.6 308.4 L1027.1 309.0 L1028.0 309.6 L1028.6 310.2 L1028.4 310.9 L1029.4 311.7 L1029.9 312.0 L1031.0 311.2 L1031.5 310.5 L1031.7 310.8 L1033.6 310.9 L1033.6 312.0 L1033.3 312.6 L1033.8 312.7 L1034.8 313.3 L1034.6 313.8 L1035.3 313.9 L1035.0 314.7 L1034.9 315.4 L1035.4 315.2 L1035.5 316.6 L1035.1 316.0 L1035.7 317.6 L1035.8 318.5 L1036.2 318.3 L1036.5 319.1 L1035.7 319.7 L1036.8 320.8 L1037.0 320.9 L1036.2 322.1 L1036.4 322.7 L1037.4 324.3 L1037.1 325.1 L1038.1 325.4 L1037.5 324.4 L1038.6 324.4 L1038.9 323.3 L1039.2 323.6 L1039.5 322.6 L1039.8 323.1 L1039.5 322.3 L1040.2 321.5 L1040.0 320.8 L1040.4 319.5 L1040.5 319.0 L1041.3 317.2 L1041.5 316.3 L1042.0 316.6 L1041.7 317.0 L1042.2 318.0 L1042.5 319.1 L1042.8 320.4 L1043.5 322.3 L1043.4 323.1 L1043.1 323.8 L1043.8 325.7 L1043.2 325.8 L1044.6 326.1 L1044.6 326.8 L1044.4 328.1 L1044.6 328.4 L1045.7 329.1 L1045.1 330.7 L1045.7 330.4 L1045.8 331.4 L1046.2 331.9 L1046.6 330.9 L1046.7 331.0 L1046.3 331.8 L1047.4 331.6 L1047.5 332.5 L1047.2 332.1 L1047.6 331.3 L1048.7 331.4 L1048.9 331.0 L1047.9 330.5 L1049.1 329.7 L1048.6 330.2 L1049.6 329.5 L1049.2 329.7 L1050.0 329.4 L1050.1 328.5 L1050.5 327.6 L1050.0 326.7 L1049.7 325.8 L1050.8 323.8 L1050.6 323.1 L1051.0 322.0 L1051.1 320.9 L1051.8 321.0 L1051.7 319.6 L1052.2 319.2 L1052.4 318.2 L1052.7 318.4 L1052.9 318.2 L1052.7 317.4 L1053.0 317.4 L1053.4 316.5 L1053.0 315.6 L1053.3 315.2 L1053.4 314.9 L1054.6 314.4 L1055.2 313.3 L1055.2 312.6 L1055.3 312.3 L1055.6 312.1 L1056.1 310.8 L1055.4 310.3 L1055.9 308.5 L1055.9 308.0 L1057.0 307.6 L1057.2 305.6 L1057.7 305.5 L1058.1 303.8 L1058.1 305.1 L1058.6 306.4 L1060.0 306.2 L1060.9 307.3 L1061.1 307.5 L1061.6 306.3 L1062.0 305.1 L1062.7 304.6 L1063.1 304.3 L1062.3 303.7 L1063.5 303.2 L1063.1 302.7 L1063.7 302.0 L1064.5 300.8 L1064.6 301.4 L1064.5 301.3 L1064.2 301.7 L1064.8 303.0 L1064.3 303.5 L1064.3 304.7 L1064.8 305.1 L1064.4 305.2 L1065.0 306.4 L1064.5 306.7 L1065.3 307.0 L1064.6 307.3 L1064.9 308.8 L1065.3 308.4 L1065.1 310.0 L1065.8 310.0 L1066.0 311.5 L1065.2 311.5 L1066.4 313.3 L1065.2 313.4 L1066.4 313.9 L1066.5 315.5 L1065.6 315.8 L1065.7 315.9 L1066.9 317.1 L1067.2 318.3 L1066.2 318.6 L1067.5 319.6 L1067.7 320.7 L1067.4 321.2 L1067.3 322.2 L1067.0 323.6 L1067.8 324.7 L1068.5 325.6 L1068.8 326.4 L1068.1 327.0 L1068.8 327.9 L1069.5 328.0 L1069.3 328.5 L1069.5 330.5 L1070.2 330.9 L1069.8 331.0 L1070.6 331.1 L1070.1 330.7 L1071.3 329.3 L1070.9 328.8 L1071.5 328.4 L1072.2 327.2 L1072.4 326.9 L1073.4 325.9 L1073.9 325.4 L1074.6 324.0 L1074.8 323.9 L1075.9 324.7 L1076.8 325.8 L1076.9 326.9 L1077.5 327.3 L1078.2 327.0 L1078.2 327.5 L1079.6 327.2 L1079.8 329.1 L1080.1 328.8 L1079.7 330.6 L1080.2 330.7 L1080.4 332.3 L1080.0 332.1 L1080.9 332.9 L1081.0 334.3 L1081.5 334.7 L1080.8 335.4 L1081.3 336.3 L1081.4 336.9 L1081.8 338.6 L1081.0 339.4 L1081.0 339.0 L1081.7 339.7 L1081.7 340.5 L1081.9 341.7 L1082.5 342.4 L1081.8 342.5 L1081.7 343.8 L1082.9 343.8 L1082.5 345.3 L1082.5 345.7 L1082.5 346.4 L1082.6 347.6 L1082.3 347.4 L1082.7 348.8 L1083.6 349.9 L1083.1 350.5 L1083.5 350.1 L1083.2 351.6 L1083.8 352.8 L1083.1 353.5 L1083.7 353.5 L1084.5 354.3 L1083.7 354.8 L1084.7 355.5 L1084.5 356.8 L1084.1 357.0 L1085.1 357.5 L1084.2 357.8 L1084.2 358.7 L1084.2 360.2 L1085.2 360.3 L1084.6 360.8 L1085.6 361.0 L1086.3 362.0 L1086.1 361.6 L1086.7 362.0 L1086.6 363.3 L1086.5 363.7 L1087.4 363.4 L1088.2 364.4 L1087.4 366.3 L1088.3 367.2 L1088.0 368.2 L1089.3 368.8 L1089.8 369.0 L1090.0 367.6 L1090.0 367.4 L1090.4 367.1 L1091.3 366.8 L1090.9 365.1 L1091.0 364.3 L1092.1 363.3 L1092.5 363.2 L1092.2 361.4 L1092.0 360.2 L1092.9 359.9 L1093.9 358.9 L1094.0 358.6 L1093.4 358.7 L1093.9 357.6 L1094.0 357.0 L1094.1 357.8 L1094.2 357.1 L1095.0 356.6 L1095.2 355.7 L1096.0 355.3 L1095.2 354.8 L1096.1 354.2 L1096.5 352.8 L1096.3 352.4 L1096.1 352.4 L1096.9 353.2 L1096.9 353.0 L1097.1 354.3 L1098.4 354.5 L1098.0 354.1 L1099.5 354.8 L1099.2 354.5 L1099.7 356.5 L1099.6 357.0 L1100.4 357.4 L1101.1 358.1 L1100.9 357.0 L1102.3 355.5 L1102.7 353.6 L1102.9 352.9 L1103.1 352.5 L1104.5 353.6 L1105.0 353.6 L1104.8 354.4 L1105.0 355.7 L1105.7 356.5 L1105.9 358.1 L1106.2 358.4 L1107.1 359.4 L1106.3 360.6 L1106.5 360.8 L1107.5 361.3 L1108.4 362.8 L1107.5 362.9 L1108.6 363.8 L1109.4 364.4 L1109.3 363.9 L1109.8 363.1 L1110.2 362.3 L1110.3 361.4 L1110.3 360.5 L1110.3 359.8 L1110.3 359.8 L1110.9 358.7 L1111.9 357.8 L1110.8 357.7 L1111.5 356.4 L1111.5 357.7 L1112.3 357.6 L1112.1 359.4 L1111.9 359.6 L1111.4 360.2 L1111.7 361.2 L1112.7 362.2 L1112.2 362.5 L1112.8 362.6 L1112.6 363.3 L1111.7 364.2 L1112.0 365.2 L1112.3 365.6 L1112.6 366.7 L1112.6 367.6 L1112.1 367.8 L1112.0 368.8 L1112.9 370.2 L1112.4 370.5 L1112.1 370.7 L1112.3 371.6 L1112.3 371.7 L1112.1 372.4 L1112.4 373.5 L1113.2 374.9 L1113.5 374.5 L1112.5 375.9 L1113.4 376.4 L1112.9 377.9 L1112.9 377.4 L1112.8 378.4 L1112.4 379.8 L1112.7 380.3 L1113.0 380.9 L1112.6 380.9 L1113.3 382.7 L1113.7 382.3 L1113.8 384.1 L1113.5 384.0 L1114.1 384.6 L1113.1 385.5 L1113.8 385.7 L1113.9 387.3 L1113.4 387.0 L1114.2 388.7 L1113.3 389.0 L1114.0 390.3 L1114.0 391.0 L1114.4 390.7 L1113.6 391.1 L1113.8 392.5 L1114.3 393.5 L1114.4 394.2 L1114.8 394.9 L1114.3 395.6 L1114.3 395.4 L1113.7 397.0 L1114.1 396.9 L1115.1 398.3 L1114.8 399.1 L1115.0 399.6 L1114.4 400.3 L1114.3 401.1 L1115.4 400.8 L1114.6 402.3 L1115.4 402.7 L1114.8 403.4 L1114.5 403.5 L1115.3 404.4 L1115.3 405.8 L1115.3 406.5 L1115.8 407.0 L1116.1 407.4 L1115.8 408.7 L1115.3 408.9 L1115.4 409.5 L1115.4 410.3 L1115.1 411.5 L1116.3 412.1 L1115.2 411.7 L1116.0 413.2 L1115.9 413.7 L1116.8 414.3 L1116.4 414.5 L1116.0 415.8 L1116.5 416.9 L1116.0 416.8 L1116.6 417.7 L1117.4 418.4 L1117.1 419.3 L1117.8 418.9 L1117.0 419.9 L1117.3 421.3 L1117.7 421.7 L1117.9 421.5 L1117.7 423.1 L1118.0 423.5 L1118.7 424.7 L1118.0 424.2 L1118.0 425.8 L1118.2 425.4 L1118.5 427.1 L1118.3 427.0 L1118.7 428.5 L1119.2 428.9 L1119.9 427.3 L1119.0 427.3 L1119.0 426.2 L1119.4 425.4 L1120.2 424.7 L1119.9 423.6 L1119.9 423.8 L1120.1 422.6 L1119.5 422.5 L1120.2 420.8 L1120.6 420.9 L1119.9 419.1 L1120.6 419.1 L1120.5 419.0 L1120.6 417.6 L1120.3 417.3 L1120.2 416.3 L1120.1 416.1 L1120.8 414.2 L1120.7 413.8 L1120.1 413.1 L1121.4 412.2 L1120.3 411.8 L1121.6 411.1 L1120.5 410.8 L1121.2 409.9 L1121.9 409.7 L1121.9 409.1 L1121.0 407.5 L1121.0 408.0 L1121.7 406.8 L1122.0 407.0 L1122.1 405.5 L1122.2 405.5 L1122.1 404.8 L1121.5 404.5 L1122.0 403.4 L1122.5 402.7 L1122.3 401.6 L1122.2 401.3 L1122.4 400.5 L1122.0 399.9 L1122.3 399.1 L1122.8 399.6 L1121.8 398.1 L1122.3 398.0 L1123.3 398.8 L1123.2 400.3 L1122.6 399.9 L1123.3 401.5 L1123.6 401.9 L1124.0 403.2 L1123.8 403.1 L1124.3 404.3 L1124.5 404.9 L1124.5 404.6 L1125.4 405.5 L1124.8 406.9 L1125.2 406.5 L1125.7 407.1 L1125.8 407.4 L1127.0 406.5 L1126.1 406.6 L1126.5 406.2 L1127.1 405.3 L1126.6 404.2 L1127.3 404.0 L1128.3 403.0 L1127.4 402.5 L1128.1 402.1 L1127.8 401.1 L1128.2 400.6 L1128.3 400.2 L1128.5 399.7 L1129.6 398.1 L1129.6 397.5 L1129.2 397.2 L1129.3 396.4 L1130.0 395.0 L1130.8 395.3 L1131.3 395.8 L1131.3 395.7 L1132.0 396.1 L1133.4 397.2 L1133.8 395.5 L1133.1 395.2 L1134.3 395.2 L1134.5 394.2 L1133.8 392.8 L1134.8 392.6 L1134.6 391.6 L1135.5 391.1 L1135.4 391.7 L1135.9 390.8 L1136.1 390.0 L1135.9 390.1 L1135.8 389.8 L1136.9 390.8 L1136.3 391.6 L1137.3 391.9 L1137.3 392.9 L1136.9 393.0 L1137.6 394.3 L1137.7 394.0 L1137.2 394.6 L1137.5 395.6 L1138.3 395.9 L1137.3 396.2 L1138.3 396.2 L1138.1 397.5 L1137.6 397.0 L1138.8 398.3 L1138.8 399.2 L1139.1 399.1 L1139.4 400.3 L1139.5 401.2 L1138.7 402.0 L1138.8 402.1 L1138.6 401.2 L1138.9 400.3 L1139.0 400.2 L1138.9 399.9 L1139.8 399.3 L1139.3 398.8 L1139.6 397.9 L1140.3 397.7 L1140.2 396.1 L1139.9 395.2 L1140.0 395.5 L1140.6 394.1 L1140.5 393.6 L1139.7 393.3 L1140.3 392.5 L1140.8 392.5 L1139.9 391.9 L1140.9 391.2 L1140.8 390.0 L1140.4 389.4 L1141.0 389.0 L1140.7 388.6 L1141.1 387.1 L1141.4 387.2 L1141.2 386.2 L1141.1 385.7 L1140.7 383.9 L1140.4 383.7 L1140.8 382.8 L1140.9 381.6 L1140.5 381.9 L1140.6 381.0 L1141.2 380.3 L1141.9 379.7 L1141.8 378.5 L1141.6 377.3 L1141.1 376.4 L1141.4 375.9 L1142.1 375.1 L1141.5 374.3 L1141.6 373.4 L1141.7 373.1 L1142.6 372.3 L1141.6 371.8 L1142.6 371.1 L1142.0 370.4 L1142.9 369.2 L1142.3 368.4 L1142.7 368.1 L1142.1 367.4 L1142.4 366.7 L1142.4 365.5 L1143.0 365.4 L1144.2 365.3 L1144.8 366.2 L1145.0 365.5 L1145.6 364.4 L1145.7 363.2 L1146.5 361.6 L1146.2 360.8 L1147.1 360.0 L1146.5 359.9 L1146.6 358.7 L1146.8 357.9 L1146.3 357.8 L1146.8 356.7 L1147.5 356.6 L1147.5 355.9 L1147.1 354.6 L1148.1 353.4 L1147.3 353.5 L1147.4 352.0 L1147.2 352.3 L1148.3 350.7 L1148.8 350.4 L1148.7 349.1 L1148.7 348.6 L1149.1 347.6 L1148.3 347.2 L1149.0 346.8 L1149.7 346.2 L1149.2 345.8 L1150.0 345.6 L1150.8 344.4 L1150.6 343.6 L1151.0 343.8 L1151.4 342.5 L1151.9 343.0 L1151.4 342.1 L1152.7 341.5 L1152.4 342.2 L1152.5 342.7 L1153.3 343.9 L1152.9 344.7 L1153.5 346.0 L1153.2 346.1 L1153.5 346.8 L1154.5 347.9 L1154.6 348.6 L1154.6 349.6 L1154.8 350.3 L1154.1 350.4 L1154.6 352.0 L1154.4 352.2 L1154.6 352.6 L1154.9 354.0 L1154.9 353.3 L1155.4 354.5 L1156.3 354.5 L1155.2 355.4 L1155.6 355.8 L1156.3 356.0 L1156.4 357.8 L1156.7 357.9 L1156.8 358.7 L1157.4 359.2 L1157.8 361.2 L1158.3 361.7 L1159.7 361.2 L1160.4 359.8 L1160.3 359.3 L1160.1 357.8 L1160.0 357.3 L1161.0 357.0 L1161.4 355.9 L1161.2 355.8 L1161.3 354.5 L1161.0 354.2 L1161.7 353.8 L1161.6 353.9 L1162.8 352.3 L1162.8 352.1 L1161.9 350.8 L1162.3 351.1 L1162.2 349.7 L1162.6 349.3 L1163.7 348.5 L1163.0 348.1 L1164.2 346.8 L1164.4 346.0 L1163.8 345.6 L1164.2 344.0 L1164.2 344.7 L1164.2 345.5 L1165.6 346.8 L1165.5 347.4 L1166.1 347.7 L1165.2 348.2 L1165.7 348.7 L1166.2 349.2 L1167.0 351.2 L1166.1 352.3 L1167.0 352.5 L1167.4 354.0 L1167.6 355.5 L1168.1 355.0 L1168.0 356.1 L1168.0 357.2 L1167.4 358.6 L1167.8 358.5 L1168.2 359.8 L1168.4 360.7 L1168.3 362.1 L1167.9 361.7 L1168.6 362.8 L1169.2 364.1 L1168.2 364.3 L1168.5 365.8 L1168.1 366.0 L1169.0 366.8 L1168.5 367.1 L1168.9 368.3 L1169.1 369.3 L1168.7 368.6 L1169.4 370.1 L1169.1 370.8 L1169.0 371.2 L1170.0 372.3 L1169.6 372.9 L1170.5 373.7 L1170.4 373.6 L1169.9 374.6 L1170.9 374.8 L1171.1 376.0 L1170.2 377.1 L1170.4 376.9 L1170.9 376.8 L1171.4 377.9 L1171.9 378.8 L1172.5 378.1 L1171.9 378.9 L1172.0 378.9 L1172.7 380.3 L1173.0 380.3 L1173.6 381.3 L1173.7 381.8 L1173.5 383.1 L1174.0 384.3 L1173.7 384.2 L1174.6 384.6 L1173.6 386.0 L1173.8 385.9 L1174.4 387.1 L1174.1 387.3 L1174.7 388.1 L1174.5 389.9 L1175.0 390.0 L1175.4 391.5 L1175.1 391.9 L1175.0 391.7 L1175.7 392.7 L1175.0 393.7 L1175.4 394.4 L1175.6 394.8 L1175.5 395.5 L1175.2 397.2 L1176.3 397.8 L1176.3 398.8 L1175.5 399.1 L1176.0 400.2 L1175.4 401.2 L1175.7 401.3 L1176.0 402.3 L1176.9 401.7 L1177.1 400.9 L1177.3 399.6 L1176.6 399.2 L1177.6 398.4 L1176.8 398.0 L1176.7 397.6 L1176.9 397.1 L1177.1 396.4 L1178.2 395.6 L1177.7 395.8 L1177.8 394.5 L1177.6 394.7 L1177.9 393.8 L1178.4 393.7 L1178.5 392.1 L1178.3 391.4 L1179.4 391.7 L1178.9 392.2 L1179.3 392.1 L1179.5 393.8 L1179.2 393.3 L1178.5 394.9 L1179.2 395.3 L1179.5 396.2 L1179.8 396.2 L1179.4 397.6 L1178.9 398.6 L1179.8 398.7 L1179.3 399.5 L1178.8 400.1 L1179.5 401.1 L1178.8 402.2 L1180.0 402.4 L1178.9 403.5 L1179.4 404.2 L1179.1 404.2 L1179.4 405.6 L1179.6 406.0 L1180.0 406.8 L1180.0 408.2 L1180.1 408.0 L1180.1 409.3 L1180.1 410.4 L1180.5 410.9 L1180.5 410.8 L1179.6 412.3 L1180.6 412.6 L1179.5 413.4 L1180.2 414.6 L1179.7 415.2 L1180.1 415.6 L1180.9 416.1 L1180.4 416.8 L1179.9 418.3 L1180.5 419.2 L1180.8 419.5 L1181.0 420.3 L1180.5 420.8 L1179.8 421.8 L1180.6 420.6 L1179.9 420.6 L1179.9 419.3 L1180.5 418.8 L1181.1 418.2 L1180.1 417.1 L1180.2 415.7 L1180.9 415.4 L1181.3 415.0 L1181.0 413.6 L1180.3 413.7 L1181.0 412.8 L1181.2 412.7 L1180.9 411.4 L1181.6 410.3 L1180.9 410.1 L1181.3 408.8 L1180.9 408.5 L1180.9 407.8 L1181.9 407.5 L1180.9 407.1 L1182.0 406.1 L1181.7 405.6 L1181.2 404.0 L1182.0 403.4 L1181.9 403.1 L1181.6 401.7 L1181.1 401.0 L1181.1 400.9 L1181.6 399.8 L1181.8 399.6 L1182.5 398.7 L1181.7 398.2 L1182.0 396.5 L1181.8 395.7 L1181.7 395.2 L1182.7 395.5 L1182.1 394.3 L1182.6 394.0 L1181.7 393.0 L1182.6 391.9 L1181.9 391.9 L1182.2 391.2 L1182.9 389.5 L1182.1 389.7 L1182.7 388.6 L1182.5 387.9 L1183.5 386.7 L1183.1 385.5 L1184.4 385.0 L1184.9 383.9 L1184.4 383.0 L1185.0 381.9 L1185.1 380.9 L1186.1 380.1 L1186.2 379.4 L1186.4 378.4 L1186.7 378.8 L1185.8 379.6 L1186.4 380.1 L1186.2 381.2 L1187.0 381.7 L1186.5 382.6 L1186.6 384.0 L1187.1 384.1 L1186.8 385.8 L1186.8 385.8 L1187.2 387.4 L1186.8 387.9 L1188.1 388.0 L1187.2 388.5 L1187.2 389.8 L1188.1 390.9 L1187.5 391.9 L1187.9 392.7 L1188.2 392.7 L1188.8 393.6 L1188.8 395.0 L1187.8 394.4 L1188.4 393.6 L1189.0 392.0 L1187.7 391.3 L1188.3 391.6 L1188.5 390.2 L1188.5 389.4 L1188.0 389.2 L1189.3 388.4 L1188.1 387.9 L1188.4 386.5 L1188.1 386.0 L1188.8 385.8 L1189.1 385.0 L1189.1 383.9 L1189.1 382.9 L1189.6 382.8 L1189.1 381.0 L1188.7 380.4 L1189.6 380.2 L1189.2 379.7 L1189.3 378.8 L1189.8 378.2 L1189.5 377.6 L1188.8 376.4 L1188.9 375.1 L1189.3 375.2 L1189.2 374.1 L1188.9 373.9 L1189.0 373.5 L1189.2 372.6 L1189.6 371.7 L1189.8 370.5 L1190.2 370.1 L1189.5 368.9 L1189.7 368.5 L1189.0 367.7 L1189.3 366.9 L1189.4 366.0 L1189.5 365.4 L1190.2 364.4 L1190.5 364.7 L1189.6 364.1 L1190.0 362.1 L1190.2 362.6 L1190.4 361.3 L1190.2 360.2 L1189.6 359.7 L1189.9 359.7 L1190.3 357.8 L1190.9 358.3 L1190.3 356.9 L1190.7 357.2 L1190.8 356.6 L1191.8 355.7 L1191.5 354.4 L1192.0 354.6 L1191.9 353.5 L1191.2 352.7 L1191.4 351.9 L1191.3 351.9 L1192.6 350.5 L1192.6 349.8 L1192.4 349.9 L1191.8 349.1 L1192.2 347.9 L1192.8 347.5 L1192.6 346.8 L1193.1 346.1 L1192.7 346.3 L1193.1 347.1 L1193.6 347.2 L1193.1 348.3 L1194.2 348.9 L1193.8 349.8 L1193.3 350.5 L1193.5 351.2 L1193.8 351.4 L1194.3 352.8 L1194.9 352.6 L1195.4 353.4 L1194.7 353.7 L1194.6 354.5 L1194.5 355.8 L1194.6 355.5 L1195.0 356.3 L1195.1 357.9 L1195.8 357.8 L1196.0 358.8 L1195.9 358.6 L1195.8 359.9 L1196.3 360.9 L1195.6 361.0 L1195.7 361.5 L1196.5 361.9 L1196.1 362.7 L1195.5 363.7 L1195.5 365.0 L1195.7 365.2 L1196.8 365.1 L1196.4 367.0 L1196.4 367.3 L1196.1 368.6 L1196.5 368.5 L1196.7 369.0 L1196.9 369.6 L1196.4 370.3 L1196.6 371.8 L1197.3 372.9 L1197.0 373.7 L1197.1 373.2 L1196.5 374.0 L1196.9 375.3 L1197.2 375.3 L1197.3 376.4 L1197.2 377.5 L1197.0 378.5 L1198.0 378.5 L1198.2 378.9 L1198.4 379.6 L1197.4 381.5 L1198.6 381.9 L1198.9 382.3 L1199.1 384.2 L1198.4 384.4 L1199.3 386.1 L1199.8 386.2 L1199.0 387.8 L1199.3 387.6 L1200.0 389.3 L1200.5 389.6 L1200.4 390.2 L1201.1 390.3 L1201.2 390.8 L1201.0 391.2 L1201.9 392.2 L1201.2 392.0 L1201.7 391.9 L1201.6 392.0 L1202.1 392.4 L1202.5 394.2 L1202.8 394.6 L1202.2 393.9 L1202.2 394.0 L1203.0 393.7 L1203.2 393.4 L1203.4 392.7 L1203.7 391.4 L1203.3 391.8 L1203.4 390.7 L1203.0 390.4 L1204.3 389.9 L1203.3 389.1 L1204.0 388.9 L1203.6 387.8 L1204.2 387.0 L1204.3 386.9 L1204.6 385.5 L1205.4 385.6 L1204.3 384.8 L1205.1 383.8 L1205.6 383.8 L1205.5 382.7 L1205.1 382.0 L1205.8 380.6 L1205.4 380.7 L1204.8 380.0 L1205.0 378.8 L1205.6 378.2 L1205.4 377.7 L1205.8 377.7 L1205.4 376.5 L1205.2 375.1 L1205.3 374.8 L1205.4 373.8 L1206.6 372.9 L1206.1 372.4 L1206.6 371.4 L1206.3 371.4 L1206.0 370.9 L1206.7 370.3 L1206.9 369.1 L1206.1 368.3 L1207.1 368.1 L1207.4 367.7 L1206.5 366.3 L1207.2 365.2 L1206.9 364.7 L1206.8 364.1 L1207.2 364.4 L1206.5 365.4 L1206.6 365.9 L1207.8 367.1 L1207.6 367.7 L1207.5 369.0 L1206.9 369.7 L1207.2 369.7 L1207.7 370.2 L1207.4 371.7 L1208.1 372.0 L1207.9 373.2 L1208.2 373.5 L1207.2 374.7 L1208.4 375.2 L1207.9 375.8 L1207.5 377.2 L1208.2 377.2 L1207.3 377.7 L1208.2 379.2 L1208.7 379.5 L1208.5 380.8 L1208.1 381.0 L1208.5 381.6 L1208.5 382.1 L1208.3 382.6 L1208.8 383.0 L1208.9 384.5 L1208.7 384.9 L1208.3 384.9 L1208.5 386.1 L1209.3 387.0 L1209.3 387.3 L1208.9 387.5 L1208.7 389.2 L1209.3 387.0 L1209.5 386.1 L1209.3 385.2 L1209.9 385.0 L1211.4 383.6 L1211.2 383.2 L1211.4 383.8 L1212.1 385.0 L1212.0 386.3 L1212.4 386.6 L1213.3 387.6 L1213.6 387.8 L1213.8 388.5 L1214.0 388.8 L1215.2 389.9 L1215.5 390.1 L1216.0 391.6 L1216.6 391.6 L1215.9 390.9 L1217.0 391.2 L1217.4 391.0 L1217.4 389.7 L1216.7 389.0 L1217.0 388.2 L1217.5 388.0 L1217.5 388.2 L1217.9 386.7 L1217.5 386.6 L1218.0 385.6 L1217.8 384.7 L1218.4 383.3 L1218.6 383.4 L1219.4 383.0 L1219.9 381.1 L1219.5 381.3 L1219.7 380.0 L1219.4 378.6 L1219.5 378.5 L1220.6 378.1 L1220.4 377.0 L1220.8 375.0 L1220.3 374.9 L1220.3 374.4 L1220.8 372.6 L1221.1 371.9 L1221.8 371.7 L1221.8 371.1 L1221.4 369.0 L1222.2 369.2 L1222.1 368.4 L1222.9 368.5 L1222.9 367.3 L1222.7 367.3 L1223.7 368.8 L1224.7 367.2 L1225.9 365.8 L1225.9 366.3 L1226.8 365.6 L1227.2 364.7 L1228.1 366.6 L1228.0 366.6 L1229.1 366.6 L1229.8 367.8 L1229.6 368.1 L1229.7 367.0 L1230.5 366.8 L1230.2 365.1 L1230.3 364.8 L1231.3 362.7 L1230.4 362.5 L1231.9 361.9 L1231.3 359.7 L1231.3 359.6 L1232.4 358.9 L1232.1 358.3 L1232.0 357.0 L1232.6 356.2 L1232.9 356.7 L1232.3 357.0 L1233.0 356.1 L1234.3 356.6 L1234.3 356.5 L1234.9 355.5 L1235.8 355.1 L1236.0 353.8 L1235.6 353.4 L1236.4 352.5 L1237.1 352.1 L1236.5 350.8 L1236.8 350.5 L1237.4 348.6 L1238.0 348.8 L1238.1 348.0 L1238.6 346.7 L1239.0 346.4 L1239.3 345.9 L1239.1 345.1 L1239.0 344.7 L1239.0 343.6 L1240.1 343.1 L1239.7 342.9 L1240.6 341.4 L1240.1 341.7 L1241.1 339.7 L1240.9 339.4 L1241.0 338.5 L1242.4 337.8 L1242.4 337.6 L1243.0 336.4 L1243.3 335.9 L1243.6 334.0 L1243.3 333.1 L1243.7 333.1 L1243.2 332.3 L1243.1 331.5 L1244.0 330.6 L1243.5 329.9 L1243.7 329.8 L1244.7 329.2 L1245.1 328.1 L1244.4 327.6 L1244.7 327.9 L1244.3 327.2 L1245.6 325.6 L1245.7 325.7 L1245.8 325.3 L1245.5 324.8 L1245.9 323.7 L1246.0 324.8 L1245.9 323.7 L1247.1 324.2 L1246.8 323.7 L1247.2 324.7 L1248.0 326.1 L1248.8 326.8 L1248.5 327.0 L1249.8 328.2 L1249.9 329.8 L1248.8 329.3 L1249.0 330.5 L1249.3 331.9 L1250.5 331.9 L1250.1 333.0 L1249.6 333.5 L1250.6 334.4 L1250.6 335.6 L1250.4 336.4 L1250.2 336.8 L1250.6 338.1 L1251.2 337.7 L1250.7 339.7 L1252.1 339.8 L1251.1 340.4 L1251.4 341.4 L1252.3 341.1 L1252.3 341.5 L1252.1 339.9 L1253.1 339.1 L1252.9 338.6 L1253.0 338.0 L1253.2 336.8 L1253.6 336.3 L1253.6 335.3 L1254.5 334.0 L1253.5 333.8 L1254.2 333.4 L1254.3 332.3 L1254.4 332.7 L1254.7 331.2 L1256.4 331.4 L1256.2 333.0 L1257.6 334.0 L1258.4 334.1 L1259.4 333.8 L1259.0 334.3 L1259.8 335.7 L1259.4 336.4 L1260.5 335.7 L1260.4 336.2 L1261.5 336.6 L1261.2 337.0 L1261.6 336.2 L1261.1 337.6 L1261.3 337.6 L1261.2 338.8 L1261.1 340.1 L1261.4 340.9 L1262.8 341.8 L1261.7 343.1 L1261.8 343.0 L1262.6 344.7 L1263.0 345.5 L1263.0 346.3 L1263.0 347.3 L1262.5 348.2 L1263.2 349.1 L1263.6 350.2 L1263.5 349.9 L1263.7 351.4 L1264.0 352.6 L1264.2 353.6 L1263.3 354.0 L1263.9 353.9 L1265.7 353.8 L1266.1 354.2 L1265.9 354.2 L1267.2 353.9 L1267.6 353.6 L1267.8 353.6 L1267.5 354.4 L1268.2 356.1 L1268.2 357.2 L1269.2 357.4 L1269.6 359.1 L1270.3 359.5 L1270.0 360.2 L1270.2 360.7 L1270.8 361.1 L1270.9 361.0 L1270.8 361.9 L1270.9 363.2 L1272.2 363.0 L1271.8 363.5 L1272.1 365.0 L1271.3 365.9 L1272.3 365.5 L1271.9 367.3 L1271.9 366.8 L1272.1 367.6 L1272.5 368.0 L1272.0 369.5 L1272.3 370.0 L1272.7 371.3 L1272.2 370.9 L1273.3 372.3 L1273.5 372.7 L1272.7 373.6 L1272.9 374.6 L1273.7 375.2 L1273.2 375.1 L1273.9 376.6 L1273.6 376.2 L1274.2 377.6 L1274.1 378.3 L1274.7 377.9 L1274.2 377.4 L1274.6 376.7 L1274.8 376.7 L1275.4 377.1 L1275.6 375.5 L1275.1 374.9 L1276.0 375.8 L1275.8 374.1 L1276.3 374.3 L1276.8 373.2 L1276.5 373.6 L1276.4 372.7 L1277.1 371.7 L1277.9 372.1 L1277.7 371.8 L1278.8 372.2 L1278.3 372.3 L1279.5 371.2 L1279.5 373.1 L1279.6 373.5 L1280.3 375.3 L1281.9 377.2 L1281.8 376.5 L1282.6 378.3 L1282.7 378.1 L1282.2 378.8 L1282.7 380.1 L1283.6 379.7 L1283.0 379.7 L1283.5 379.9 L1284.1 381.2 L1284.9 380.7 L1284.4 381.7 L1285.3 380.9 L1285.9 379.9 L1285.7 378.5 L1285.3 378.4 L1286.0 377.3 L1286.1 377.2 L1285.5 377.0 L1286.3 376.8 L1285.5 375.7 L1286.1 374.6 L1286.9 374.4 L1286.5 373.5 L1286.7 373.3 L1287.3 373.7 L1286.4 373.0 L1287.5 372.5 L1286.7 371.8 L1287.0 370.6 L1287.3 369.8 L1287.1 369.6 L1287.9 369.2 L1287.9 367.8 L1287.8 367.7 L1289.1 366.6 L1288.4 366.2 L1290.0 364.4 L1289.8 363.8 L1289.4 363.6 L1290.1 363.1 L1290.9 363.6 L1290.5 363.5 L1291.3 362.0 L1291.7 361.9 L1291.9 363.0 L1292.1 362.8 L1292.2 363.0 L1292.9 364.3 L1292.7 364.3 L1292.3 365.3 L1292.4 366.5 L1292.2 366.9 L1292.5 367.8 L1292.3 368.1 L1293.4 369.3 L1293.7 369.5 L1293.7 370.6 L1294.0 370.1 L1293.2 371.5 L1293.9 371.7 L1293.8 373.4 L1293.4 373.4 L1294.2 374.7 L1294.6 374.7 L1294.2 375.9 L1294.4 376.7 L1294.2 376.9 L1294.0 378.1 L1294.5 378.5 L1295.1 378.4 L1294.9 380.2 L1295.3 380.4 L1295.5 379.6 L1296.4 380.6 L1297.0 381.0 L1297.4 381.2 L1298.5 382.1 L1298.3 383.2 L1298.6 382.8 L1299.1 382.7 L1299.7 381.4 L1300.1 381.5 L1299.3 380.2 L1300.7 379.8 L1301.0 379.8 L1301.0 378.3 L1300.2 377.5 L1300.4 376.9 L1301.0 376.3 L1302.0 377.4 L1301.7 378.7 L1301.2 379.4 L1301.3 379.2 L1301.2 379.8 L1302.4 380.9 L1302.5 381.4 L1302.2 382.1 L1302.2 382.6 L1301.8 384.1 L1302.3 385.2 L1302.3 385.1 L1302.4 385.7 L1303.0 387.1 L1303.7 386.9 L1302.6 387.8 L1303.1 388.4 L1303.5 389.4 L1304.1 389.8 L1304.3 390.8 L1303.8 391.2 L1304.4 390.1 L1303.7 389.6 L1304.1 388.3 L1304.3 387.4 L1305.2 386.8 L1304.9 385.5 L1305.7 384.9 L1306.3 384.4 L1306.5 383.7 L1305.6 383.8 L1306.1 383.4 L1306.8 382.3 L1306.3 381.7 L1307.2 380.9 L1307.3 379.9 L1308.0 379.2 L1308.2 380.4 L1308.4 381.3 L1308.5 381.3 L1308.7 381.9 L1308.1 382.1 L1309.1 383.5 L1308.6 383.9 L1309.4 384.2 L1309.9 384.0 L1309.3 384.8 L1309.7 386.3 L1310.8 386.7 L1310.6 387.2 L1310.5 387.5 L1310.4 387.1 L1311.9 388.2 L1311.1 388.1 L1311.8 389.2 L1312.9 389.0 L1313.4 389.9 L1314.3 390.5 L1314.2 391.5 L1314.6 392.2 L1315.7 391.8 L1315.3 389.9 L1315.0 390.7 L1316.1 389.9 L1315.3 388.5 L1315.7 387.7 L1315.8 388.1 L1316.8 387.2 L1316.6 386.6 L1317.4 386.1 L1317.0 384.4 L1317.7 383.5 L1317.4 383.5 L1317.9 383.3 L1318.0 382.1 L1317.9 381.4 L1317.6 380.8 L1318.3 380.3 L1318.6 379.3 L1318.5 378.2 L1319.1 379.3 L1318.9 379.6 L1319.5 380.7 L1318.6 381.8 L1319.4 381.7 L1319.0 382.5 L1318.7 383.9 L1319.8 384.3 L1319.9 385.0 L1319.0 386.0 L1319.7 386.0 L1318.9 387.0 L1319.5 388.4 L1319.3 388.8 L1319.7 388.9 L1319.2 390.6 L1319.2 391.4 L1319.1 391.6 L1319.4 392.6 L1319.6 393.0 L1319.6 394.3 L1320.4 394.8 L1319.9 394.9 L1320.1 396.6 L1320.4 396.4 L1320.2 397.9 L1320.0 398.3 L1320.6 399.0 L1320.1 400.2 L1320.9 400.8 L1320.6 401.1 L1321.3 402.7 L1321.7 403.8 L1321.4 403.7 L1321.0 405.1 L1321.7 405.8 L1321.9 406.0 L1322.0 406.5 L1321.9 407.6 L1322.2 408.1 L1322.9 408.8 L1322.2 410.3 L1322.9 410.5 L1323.2 411.1 L1322.4 412.2 L1322.6 413.2 L1323.5 413.3 L1323.5 414.8 L1323.2 414.3 L1324.2 414.9 L1324.6 416.1 L1323.4 416.9 L1325.0 418.1 L1324.3 418.6 L1324.4 419.5 L1324.1 419.6 L1324.8 420.2 L1325.4 420.6 L1325.8 421.4 L1325.8 421.6 L1324.7 422.9 L1325.8 423.3 L1325.2 424.4 L1325.0 424.9 L1325.9 425.3 L1326.1 425.7 L1325.5 427.1 L1326.4 427.6 L1326.5 429.0 L1326.5 428.7 L1326.3 430.5 L1326.6 430.5 L1326.5 431.6 L1326.7 431.9 L1326.5 432.0 L1326.5 434.0 L1327.1 433.9 L1326.4 435.1 L1326.8 435.5 L1327.0 435.8 L1327.1 436.5 L1327.6 437.5 L1327.7 438.8 L1327.0 438.8 L1328.0 440.5 L1327.9 440.9 L1327.3 442.0 L1327.2 442.3 L1328.3 443.2 L1327.5 443.4 L1328.4 445.1 L1328.4 445.3 L1328.7 445.9 L1328.9 447.2 L1328.9 448.0 L1327.9 448.5 L1328.3 448.6 L1328.4 449.8 L1329.4 450.8 L1329.1 451.7 L1328.8 452.1 L1329.5 452.3 L1328.7 453.6 L1328.6 453.4 L1328.8 454.3 L1329.1 455.9 L1329.5 456.1 L1330.2 456.0 L1329.3 457.3 L1329.4 457.5 L1330.4 458.7 L1330.0 459.5 L1329.6 459.7 L1330.2 460.7 L1329.5 460.5 L1329.6 461.6 L1330.2 462.4 L1330.0 463.7 L1330.2 463.6 L1330.4 464.1 L1331.2 464.4 L1331.3 466.0 L1331.1 466.5 L1330.7 467.4 L1331.6 467.9 L1331.3 468.8 L1330.7 469.7 L1330.8 470.7 L1330.7 470.2 L1331.3 471.9 L1331.9 472.9 L1331.5 473.3 L1331.7 473.8 L1332.0 474.4 L1331.6 474.5 L1331.3 475.9 L1331.4 476.5 L1332.2 477.0 L1331.4 478.3 L1331.3 478.8 L1332.2 479.0 L1331.6 480.4 L1331.8 480.6 L1331.8 482.1 L1332.7 482.7 L1332.6 483.4 L1332.8 483.7 L1332.5 484.3 L1332.8 485.2 L1332.9 486.0 L1332.7 487.1 L1331.9 487.2 L1331.7 488.7 L1333.1 488.5 L1332.5 489.4 L1333.2 491.1 L1332.2 491.3 L1332.5 491.9 L1332.2 492.3 L1332.4 493.6 L1332.7 493.8 L1332.6 495.2 L1332.6 495.2 L1332.2 496.6 L1333.0 497.3 L1332.2 497.1 L1333.4 498.5 L1332.5 498.6 L1332.5 500.2 L1332.7 498.8 L1333.3 498.2 L1333.5 498.1 L1333.9 496.7 L1333.3 496.0 L1333.1 495.8 L1333.3 494.6 L1333.2 494.2 L1333.9 493.8 L1333.3 493.0 L1333.8 492.7 L1334.2 491.6 L1334.1 491.6 L1334.1 489.8 L1334.2 490.4 L1334.5 488.7 L1333.9 489.0 L1333.8 487.4 L1334.2 487.7 L1333.5 486.5 L1334.7 485.2 L1334.1 484.8 L1333.5 484.1 L1334.7 483.2 L1333.7 482.8 L1334.9 482.3 L1334.3 481.2 L1334.4 481.7 L1334.4 480.6 L1334.5 479.3 L1334.4 478.9 L1335.1 478.6 L1334.3 477.3 L1335.1 476.6 L1334.5 475.9 L1335.1 475.1 L1335.1 475.5 L1334.8 474.0 L1334.5 473.6 L1336.1 472.8 L1335.4 471.2 L1337.2 470.3 L1337.3 470.2 L1336.9 469.2 L1337.5 468.8 L1337.2 468.0 L1338.4 467.6 L1337.8 465.7 L1338.2 465.8 L1338.6 464.2 L1338.2 463.8 L1338.3 463.1 L1338.4 462.7 L1339.0 461.5 L1338.4 461.2 L1338.8 460.8 L1339.2 459.9 L1338.8 459.2 L1339.6 458.9 L1340.3 458.5 L1340.5 458.2 L1340.4 457.5 L1340.4 457.1 L1340.7 456.3 L1340.1 455.9 L1340.8 457.1 L1340.2 458.1 L1340.3 458.2 L1340.7 459.1 L1341.6 459.9 L1341.2 461.3 L1341.5 461.5 L1342.1 462.6 L1341.5 463.4 L1341.6 463.7 L1341.7 464.7 L1342.6 464.8 L1342.2 465.6 L1341.5 466.0 L1342.1 466.2 L1342.9 467.6 L1343.2 468.6 L1342.0 469.1 L1343.1 469.4 L1343.1 469.9 L1342.5 471.1 L1343.7 471.2 L1344.2 471.8 L1344.4 471.8 L1344.4 472.0 L1344.7 473.2 L1344.8 473.3 L1344.6 473.8 L1345.1 474.7 L1345.1 475.7 L1346.0 475.8 L1346.6 476.3 L1346.6 476.0 L1346.5 476.1 L1346.8 475.1 L1348.1 474.4 L1348.6 473.6 L1347.7 473.4 L1348.1 472.4 L1349.2 472.2 L1348.9 471.7 L1350.3 471.0 L1349.6 470.7 L1350.0 469.8 L1350.7 468.7 L1351.8 468.9 L1351.4 467.3 L1352.0 466.6 L1351.8 465.2 L1352.1 464.1 L1353.0 463.6 L1353.4 462.7 L1353.2 462.5 L1354.8 463.0 L1355.0 462.6 L1354.8 463.6 L1355.8 464.2 L1356.0 464.5 L1357.0 466.0 L1356.7 467.5 L1358.1 468.5 L1357.3 469.4 L1357.9 470.6 L1359.1 471.5 L1358.9 471.5 L1358.9 472.0 L1359.9 471.5 L1359.8 472.4 L1360.9 472.0 L1360.2 472.4 L1360.8 473.2 L1362.0 474.0 L1362.2 475.8 L1362.4 476.8 L1361.9 477.5 L1363.4 477.4 L1363.6 478.1 L1363.7 479.0 L1364.0 479.8 L1363.4 478.3 L1364.6 477.5 L1364.3 477.1 L1363.9 475.4 L1365.0 475.4 L1365.6 474.4 L1364.4 473.8 L1365.5 472.9 L1364.9 472.8 L1366.2 471.4 L1365.8 470.7 L1366.1 470.2 L1366.5 469.7 L1366.0 469.0 L1367.1 468.2 L1366.2 467.4 L1367.1 467.3 L1367.8 467.1 L1368.0 465.8 L1368.1 464.8 L1367.6 465.0 L1367.5 464.2 L1367.6 463.7 L1368.4 463.1 L1368.2 462.2 L1369.4 460.7 L1369.3 460.8 L1368.7 460.5 L1369.4 459.8 L1369.9 459.2 L1370.0 458.0 L1369.3 457.4 L1369.1 457.1 L1370.4 456.6 L1369.9 454.9 L1370.7 454.2 L1370.6 454.9 L1371.1 454.1 L1370.2 452.6 L1370.4 452.3 L1370.3 451.0 L1370.9 449.9 L1371.4 449.2 L1371.6 448.4 L1371.5 448.7 L1372.0 447.9 L1371.3 446.6 L1372.0 446.3 L1372.2 445.0 L1371.6 445.8 L1372.4 446.7 L1372.1 446.7 L1372.2 447.9 L1373.2 447.6 L1373.0 449.4 L1372.3 448.9 L1373.3 450.6 L1372.6 450.3 L1372.4 451.4 L1373.0 452.5 L1373.8 453.2 L1372.8 453.6 L1373.2 454.2 L1374.1 455.0 L1374.0 455.8 L1374.3 455.5 L1374.6 456.1 L1374.7 458.0 L1374.3 458.2 L1374.9 459.1 L1373.8 458.8 L1374.6 459.8 L1375.3 460.3 L1375.2 461.5 L1375.2 462.7 L1375.4 462.8 L1375.9 464.1 L1376.2 464.7 L1377.0 464.9 L1378.2 465.4 L1379.1 465.8 L1379.4 466.5 L1380.1 467.5 L1379.6 466.4 L1380.7 466.2 L1380.5 465.3 L1381.3 464.8 L1380.5 463.4 L1381.2 462.9 L1381.1 461.9 L1381.6 460.5 L1381.6 459.9 L1382.1 459.6 L1381.7 459.2 L1382.2 458.3 L1381.5 456.4 L1382.1 455.9 L1382.3 454.9 L1382.5 454.7 L1383.1 453.5 L1383.5 452.8 L1382.9 453.0 L1383.9 451.9 L1383.2 451.6 L1383.4 450.3 L1383.9 450.9 L1384.4 451.4 L1384.8 453.3 L1384.8 453.0 L1385.3 455.0 L1385.0 456.0 L1386.4 456.8 L1385.7 457.8 L1387.0 457.8 L1387.1 458.4 L1387.3 459.5 L1387.5 459.8 L1388.0 460.3 L1387.8 461.8 L1388.1 462.5 L1387.7 462.9 L1388.0 464.1 L1388.8 464.4 L1389.4 465.8 L1390.2 465.6 L1390.3 467.0 L1389.9 468.7 L1390.7 469.1 L1390.1 469.1 L1391.1 469.3 L1391.6 469.3 L1391.6 470.4 L1391.4 470.0 L1391.4 471.2 L1392.2 472.1 L1392.4 471.8 L1391.9 471.8 L1392.7 472.7 L1393.0 473.3 L1392.4 474.8 L1393.2 475.9 L1393.1 476.5 L1392.6 477.1 L1393.5 478.0 L1393.0 479.0 L1393.4 479.1 L1393.1 480.4 L1394.1 481.0 L1393.8 482.3 L1393.6 482.2 L1394.3 483.4 L1395.0 483.6 L1394.8 485.1 L1395.3 486.1 L1394.6 486.1 L1394.3 486.6 L1394.6 487.9 L1394.7 488.9 L1394.9 488.7 L1395.2 489.3 L1395.8 490.5 L1395.2 490.9 L1395.5 492.2 L1395.6 492.0 L1394.7 493.4 L1394.8 494.7 L1394.7 494.6 L1394.8 495.6 L1394.8 496.1 L1395.5 496.2 L1395.2 497.1 L1395.0 497.7 L1395.3 499.2 L1395.3 499.0 L1395.3 500.6 L1395.7 500.6 L1395.5 501.5 L1396.1 502.8 L1395.9 502.6 L1395.4 503.3 L1395.5 504.7 L1396.4 505.8 L1395.8 506.0 L1395.8 506.0 L1395.6 506.8 L1395.5 508.6 L1395.6 508.3 L1395.8 510.1 L1395.9 510.4 L1395.7 511.0 L1396.1 512.0 L1396.8 511.6 L1396.7 513.0 L1396.8 513.3 L1395.8 514.1 L1395.9 514.7 L1396.6 515.9 L1396.4 515.9 L1395.8 516.7 L1396.6 518.0 L1395.9 518.7 L1396.2 519.5 L1395.9 519.7 L1396.8 519.9 L1396.4 521.3 L1396.6 521.3 L1396.6 522.6 L1396.6 522.6 L1397.4 523.9 L1397.0 524.0 L1396.4 524.9 L1397.3 526.0 L1397.1 526.4 L1397.6 526.6 L1397.4 528.3 L1396.8 529.0 L1396.7 528.5 L1397.4 530.1 L1397.2 530.8 L1396.6 531.5 L1397.4 531.8 L1397.0 532.9 L1396.6 533.2 L1397.6 533.2 L1397.9 534.5 L1397.3 535.0 L1397.3 535.9 L1397.1 536.2 L1396.8 537.6 L1398.1 537.4 L1397.4 538.2 L1397.9 538.5 L1397.8 540.3 L1397.6 540.9 L1397.6 541.7 L1397.5 541.1 L1397.3 542.4 L1397.9 542.7 L1398.6 543.9 L1397.6 543.8 L1398.3 545.4 L1398.5 546.1 L1397.7 546.1 L1397.7 546.7 L1398.5 547.5 L1397.9 548.2 L1398.7 549.1 L1397.9 550.6 L1397.9 551.1 L1399.2 552.2 L1398.6 552.9 L1399.2 553.1 L1399.2 554.4 L1398.9 554.8 L1399.4 556.1 L1399.6 556.5 L1399.2 557.1 L1399.3 559.0 L1398.9 559.0 L1399.1 559.9 L1399.7 560.7 L1398.8 562.0 L1399.3 562.7 L1398.8 563.5 L1399.7 564.0 L1399.1 565.5 L1399.7 565.5 L1400.2 567.0 L1400.2 567.3 L1399.8 568.4 L1399.2 569.5 L1399.5 570.4 L1400.4 570.6 L1399.3 572.0 L1400.8 572.3 L1399.7 573.7 L1400.1 574.4 L1400.8 574.2 L1400.3 574.8 L1400.9 574.6 L1401.1 575.7 L1401.7 576.1 L1401.8 576.3 L1401.9 576.8 L1401.6 577.5 L1401.8 577.8 L1401.5 577.9 L1402.3 578.9 L1402.3 578.9 L1401.8 580.3 L1402.0 580.6 L1403.1 580.8 L1403.1 580.6 L1402.2 579.4 L1403.5 579.3 L1402.4 578.1 L1403.1 577.9 L1402.6 577.2 L1403.2 576.3 L1403.7 574.8 L1403.9 574.9 L1404.3 573.6 L1403.7 573.2 L1404.1 572.3 L1404.0 571.2 L1404.1 571.8 L1404.9 570.4 L1404.7 569.7 L1404.8 570.0 L1405.6 568.9 L1404.4 569.8 L1404.5 570.6 L1404.7 570.5 L1405.5 571.6 L1405.8 572.5 L1405.8 573.3 L1404.7 573.8 L1404.7 574.1 L1404.8 575.8 L1405.0 576.4 L1406.0 576.9 L1405.8 577.0 L1406.0 578.3 L1405.6 579.7 L1405.3 579.2 L1404.9 580.4 L1405.9 581.1 L1404.9 581.4 L1406.1 582.4 L1405.8 583.2 L1405.4 584.0 L1406.1 585.3 L1405.2 586.2 L1405.3 586.9 L1405.2 587.5 L1405.2 587.8 L1405.4 588.9 L1406.1 589.5 L1405.6 590.3 L1405.4 591.1 L1405.6 590.8 L1405.5 592.9 L1405.4 593.0 L1406.5 594.0 L1406.2 594.7 L1406.3 595.0 L1406.5 595.5 L1405.6 595.9 L1406.2 596.9 L1406.4 597.8 L1406.1 599.2 L1406.5 598.6 L1406.4 599.9 L1405.8 600.2 L1405.7 600.6 L1405.8 601.3 L1406.7 602.7 L1407.0 603.0 L1406.4 603.7 L1406.0 604.7 L1406.8 605.0 L1407.2 606.7 L1405.9 606.4 L1407.2 607.5 L1407.2 608.5 L1406.5 609.0 L1407.1 610.0 L1407.4 610.5 L1407.2 611.5 L1407.4 611.9 L1406.9 612.0 L1406.2 612.4 L1406.7 614.1 L1407.6 614.3 L1406.4 615.0 L1407.5 615.9 L1406.8 616.7 L1406.7 617.6 L1406.4 617.3 L1407.4 618.4 L1407.7 618.5 L1407.2 620.0 L1406.7 620.4 L1407.3 621.2 L1406.7 621.8 L1407.1 622.3 L1406.8 623.6 L1408.0 624.4 L1407.3 624.0 L1407.6 625.6 L1407.8 626.2 L1407.1 626.7 L1408.0 626.0 L1407.8 625.2 L1408.1 623.7 L1407.7 624.0 L1407.8 622.7 L1408.1 622.2 L1408.3 622.0 L1407.6 620.4 L1407.4 620.5 L1408.2 619.3 L1408.0 618.1 L1408.3 617.8 L1408.0 616.5 L1408.6 616.5 L1408.3 615.4 L1408.6 615.3 L1408.6 613.8 L1409.0 613.0 L1408.4 612.6 L1407.7 612.4 L1408.9 610.9 L1408.1 610.4 L1409.3 610.1 L1409.3 609.4 L1409.2 609.0 L1408.0 608.8 L1408.2 607.4 L1409.5 607.6 L1408.6 605.8 L1408.3 605.5 L1409.6 604.7 L1409.6 604.2 L1408.6 603.2 L1408.4 602.6 L1408.6 602.6 L1408.7 601.9 L1409.3 601.6 L1408.7 600.7 L1409.3 599.7 L1409.4 598.4 L1408.9 598.6 L1409.6 598.1 L1410.2 597.0 L1409.4 596.7 L1409.3 595.6 L1409.4 594.6 L1409.6 594.0 L1410.1 593.8 L1410.1 592.7 L1410.2 593.0 L1409.5 591.0 L1409.6 590.9 L1410.2 590.7 L1410.5 590.0 L1410.4 588.4 L1411.0 587.7 L1410.7 587.1 L1410.2 587.3 L1410.7 586.0 L1410.7 584.9 L1410.8 584.4 L1412.2 583.1 L1411.3 583.4 L1412.4 582.3 L1412.5 580.6 L1411.6 580.6 L1412.9 580.0 L1411.9 579.0 L1413.0 577.8 L1412.4 577.4 L1413.5 576.6 L1413.3 576.2 L1413.0 574.5 L1414.2 574.0 L1413.8 574.1 L1413.3 573.4 L1414.3 575.4 L1414.0 575.6 L1414.2 575.5 L1414.7 577.0 L1414.5 577.1 L1415.8 577.7 L1414.9 578.2 L1416.0 579.5 L1416.4 580.1 L1415.6 580.5 L1416.4 580.1 L1416.2 580.4 L1416.9 580.3 L1417.1 579.7 L1417.7 578.5 L1418.1 578.5 L1417.4 577.6 L1417.6 577.4 L1417.9 576.5 L1417.9 576.2 L1418.6 575.3 L1418.4 574.1 L1418.6 573.6 L1419.5 572.6 L1419.6 571.2 L1419.7 571.0 L1419.5 570.5 L1420.6 569.6 L1420.3 569.9 L1421.3 570.1 L1421.9 570.6 L1423.1 570.4 L1424.2 570.6 L1423.3 571.2 L1424.6 571.2 L1423.7 572.7 L1424.5 572.7 L1424.1 574.4 L1425.6 574.7 L1425.8 576.0 L1425.8 576.2 L1426.3 577.9 L1426.2 579.3 L1426.2 579.8 L1426.9 579.3 L1426.2 580.9 L1426.8 580.9 L1427.4 581.3 L1427.6 581.9 L1427.1 581.8 L1427.9 582.9 L1426.9 583.2 L1427.0 583.7 L1428.0 583.5 L1427.7 584.6 L1427.5 585.7 L1427.5 586.1 L1428.1 586.3 L1428.6 587.6 L1428.5 587.5 L1428.5 589.1 L1428.3 589.4 L1429.1 590.3 L1429.1 590.8 L1428.6 591.3 L1429.5 592.0 L1429.5 592.2 L1429.7 594.0 L1429.8 594.6 L1429.3 594.5 L1429.5 594.9 L1429.2 596.3 L1430.6 596.9 L1430.6 597.1 L1430.1 598.2 L1429.6 598.5 L1429.9 598.9 L1430.0 600.6 L1430.6 600.6 L1431.3 601.5 L1431.4 602.7 L1430.9 602.7 L1431.6 603.2 L1431.0 604.7 L1431.6 605.2 L1431.8 604.7 L1433.2 606.0 L1433.1 605.8 L1434.8 605.8 L1434.3 606.1 L1434.9 605.3 L1435.7 604.0 L1436.5 603.0 L1436.8 602.8 L1437.3 601.9 L1436.8 601.4 L1438.4 600.0 L1437.8 599.2 L1438.5 597.7 L1438.3 597.1 L1438.3 596.6 L1438.5 595.0 L1439.6 594.4 L1440.1 594.1 L1440.6 594.2 L1439.7 593.1 L1440.4 592.6 L1440.8 593.4 L1440.9 592.7 L1440.9 591.7 L1441.2 591.9 L1441.6 590.7 L1441.1 590.2 L1441.5 589.6 L1441.9 588.5 L1442.1 588.4 L1441.9 587.5 L1442.3 587.0 L1442.0 587.1 L1442.7 586.3 L1442.4 584.9 L1443.1 584.5 L1442.9 584.3 L1443.6 583.6 L1443.6 583.3 L1443.2 582.9 L1444.0 582.2 L1443.8 581.5 L1443.3 580.2 L1444.2 580.3 L1444.1 579.7 L1443.8 577.7 L1443.5 577.0 L1444.5 576.0 L1444.5 575.6 L1444.7 574.6 L1444.9 574.8 L1444.4 573.1 L1445.2 572.9 L1445.3 571.5 L1445.2 570.9 L1444.9 570.5 L1445.5 568.7 L1445.2 568.5 L1445.6 567.3 L1446.9 565.5 L1446.9 565.5 L1447.5 563.9 L1447.0 562.6 L1447.0 562.2 L1447.8 562.2 L1448.3 563.6 L1447.7 563.1 L1447.7 564.7 L1448.7 564.8 L1449.0 566.5 L1449.0 566.1 L1448.6 567.7 L1449.3 568.0 L1449.6 568.8 L1449.6 569.5 L1449.8 570.8 L1449.1 570.2 L1449.5 571.4 L1449.3 571.8 L1449.4 573.0 L1449.8 573.9 L1449.9 575.0 L1450.6 575.4 L1450.6 575.9 L1451.3 577.0 L1450.4 577.2 L1451.4 578.1 L1450.8 578.2 L1451.7 579.1 L1452.1 579.8 L1452.1 580.4 L1452.2 581.6 L1452.1 582.9 L1453.0 582.8 L1452.4 583.3 L1452.5 584.7 L1452.1 585.6 L1452.8 586.3 L1453.5 586.1 L1452.6 587.0 L1453.3 588.4 L1453.2 588.8 L1454.2 589.7 L1454.3 590.5 L1453.3 590.8 L1453.4 591.3 L1453.8 592.6 L1454.8 593.4 L1453.9 593.7 L1455.1 594.0 L1454.8 595.7 L1455.6 595.6 L1454.9 596.5 L1456.6 596.9 L1457.1 596.5 L1456.3 597.1 L1458.0 597.4 L1457.4 596.9 L1457.6 596.4 L1457.6 596.1 L1458.2 595.3 L1458.1 595.3 L1458.0 594.1 L1458.1 593.5 L1458.4 593.6 L1458.3 592.8 L1458.8 592.9 L1459.5 592.0 L1458.5 591.6 L1459.2 591.6 L1458.6 591.3 L1459.4 589.6 L1459.2 590.0 L1460.1 589.7 L1459.4 588.4 L1460.3 587.8 L1460.6 586.5 L1460.9 585.9 L1459.8 585.4 L1460.7 585.8 L1460.1 584.1 L1460.8 583.5 L1461.0 583.2 L1460.5 582.8 L1460.7 582.5 L1460.6 580.9 L1461.6 580.9 L1461.9 579.6 L1462.3 579.3 L1461.9 578.0 L1462.1 576.4 L1463.3 576.4 L1463.1 574.4 L1463.5 574.3 L1463.7 572.4 L1463.2 571.8 L1464.4 572.4 L1463.9 571.8 L1464.0 571.4 L1464.6 571.3 L1465.1 571.7 L1465.4 570.3 L1465.4 570.1 L1465.5 569.1 L1465.8 568.3 L1465.0 568.7 L1465.1 568.3 L1466.4 566.1 L1466.3 565.6 L1465.9 565.5 L1465.8 563.9 L1466.5 563.3 L1466.7 562.8 L1466.0 561.5 L1466.1 561.0 L1466.8 559.8 L1467.0 559.5 L1467.3 558.5 L1467.8 557.6 L1466.8 557.0 L1467.4 556.0 L1466.9 555.3 L1467.8 554.3 L1467.8 553.9 L1467.3 553.1 L1467.5 552.4 L1467.7 551.2 L1468.6 551.3 L1468.8 550.8 L1467.9 550.4 L1468.1 548.8 L1468.1 548.8 L1468.3 548.0 L1468.7 547.9 L1469.0 547.3 L1468.8 546.5 L1469.4 545.3 L1469.0 545.4 L1470.0 544.7 L1469.2 543.5 L1470.1 543.2 L1469.9 542.7 L1470.1 542.0 L1469.9 541.4 L1470.2 540.2 L1470.0 539.7 L1471.1 538.7 L1471.0 539.1 L1471.1 537.4 L1471.7 539.3 L1470.6 539.0 L1470.9 540.7 L1471.8 541.0 L1471.5 540.9 L1472.4 542.0 L1472.4 542.4 L1472.2 542.8 L1472.6 543.8 L1473.6 545.2 L1472.6 546.0 L1473.5 545.7 L1474.1 546.3 L1473.7 545.9 L1473.6 546.2 L1474.7 546.9 L1474.1 547.3 L1475.2 547.6 L1475.7 547.9 L1476.0 548.0 L1475.9 548.6 L1475.8 549.4 L1475.8 549.9 L1477.0 551.5 L1476.6 552.0 L1476.3 552.7 L1477.1 553.5 L1476.9 554.0 L1477.5 554.5 L1477.9 555.6 L1478.5 557.0 L1478.2 557.3 L1478.4 557.6 L1479.4 559.4 L1479.7 560.3 L1478.7 560.3 L1479.9 561.7 L1479.4 562.5 L1479.9 563.7 L1480.1 563.8 L1480.1 564.9 L1480.9 565.2 L1481.2 566.1 L1480.2 567.3 L1481.0 568.8 L1481.0 568.8 L1481.1 570.2 L1481.6 570.0 L1481.0 571.4 L1481.8 571.7 L1481.0 573.6 L1481.4 573.0 L1481.5 574.3 L1481.7 574.7 L1481.3 575.0 L1482.4 575.3 L1482.4 576.6 L1482.1 577.0 L1482.5 577.5 L1482.0 577.2 L1482.8 577.1 L1483.2 575.7 L1482.8 574.9 L1482.7 574.6 L1482.3 573.7 L1482.9 572.3 L1482.7 571.8 L1482.4 570.6 L1482.6 569.3 L1483.2 569.1 L1483.1 568.0 L1483.1 568.1 L1483.6 567.2 L1483.2 565.3 L1483.0 565.0 L1484.1 565.1 L1483.8 563.1 L1484.0 563.3 L1483.6 562.2 L1484.4 561.3 L1484.5 561.7 L1483.6 559.8 L1484.0 559.6 L1484.7 559.1 L1483.6 559.0 L1484.5 557.1 L1484.9 556.8 L1485.0 556.5 L1484.2 555.2 L1484.0 555.3 L1484.6 554.6 L1484.7 554.3 L1484.8 552.7 L1485.3 551.7 L1484.5 552.2 L1485.3 551.4 L1484.7 549.9 L1484.5 549.4 L1484.8 548.5 L1485.3 548.9 L1485.7 548.3 L1485.4 546.7 L1485.9 545.9 L1485.2 545.2 L1486.2 545.7 L1485.6 544.7 L1486.0 544.0 L1486.5 543.9 L1485.9 543.2 L1485.9 542.9 L1487.1 541.9 L1486.2 541.3 L1487.2 540.5 L1486.5 540.3 L1486.6 539.0 L1486.8 538.9 L1486.8 537.9 L1487.4 538.4 L1486.7 537.9 L1488.0 536.4 L1487.2 535.4 L1488.3 534.5 L1488.7 532.5 L1488.4 530.8 L1489.7 530.7 L1489.7 530.2 L1489.9 529.4 L1491.1 528.3 L1490.6 530.4 L1490.5 530.0 L1490.5 531.1 L1491.5 532.2 L1491.8 533.3 L1491.2 534.0 L1492.7 534.7 L1491.6 534.6 L1492.0 535.7 L1492.4 535.9 L1492.2 537.2 L1493.6 536.6 L1493.9 538.1 L1493.8 538.1 L1493.5 539.8 L1494.2 541.0 L1494.7 541.1 L1494.7 542.9 L1495.5 544.1 L1496.5 544.8 L1497.1 545.4 L1496.8 546.4 L1496.9 546.4 L1498.2 545.9 L1498.4 546.5 L1499.2 546.4 L1498.9 546.8 L1499.8 547.2 L1500.8 548.8 L1500.1 549.5 L1501.2 551.1 L1501.0 550.6 L1501.5 549.4 L1501.9 548.8 L1503.1 548.4 L1503.4 547.0 L1502.8 547.5 L1503.2 545.7 L1504.4 545.5 L1504.6 545.0 L1504.7 545.2 L1505.3 544.1 L1505.4 543.6 L1506.4 542.5 L1506.2 541.7 L1506.8 541.1 L1508.0 540.4 L1507.3 539.1 L1508.8 538.7 L1508.7 538.7 L1509.1 539.9 L1508.7 541.0 L1509.8 541.0 L1510.1 542.3 L1510.3 542.4 L1510.3 543.0 L1509.9 543.4 L1509.6 544.1 L1509.8 544.9 L1510.9 544.5 L1510.1 544.8 L1510.9 545.3 L1511.6 546.1 L1511.1 546.4 L1511.5 546.4 L1511.5 545.0 L1512.1 544.7 L1512.3 544.6 L1512.5 543.7 L1511.4 542.6 L1511.4 542.2 L1512.4 541.7 L1512.1 541.1 L1512.9 539.4 L1513.2 538.8 L1512.2 538.3 L1513.2 538.0 L1513.0 537.4 L1512.8 535.8 L1512.8 535.2 L1513.1 535.0 L1513.4 534.9 L1514.0 533.7 L1513.6 532.8 L1513.6 532.6 L1514.7 531.7 L1515.3 530.6 L1515.8 529.4 L1515.6 529.3 L1516.6 528.8 L1517.2 528.8 L1516.5 529.8 L1517.0 528.2 L1518.1 527.9 L1519.0 526.7 L1519.5 526.4 L1519.2 525.8 L1519.3 523.8 L1520.3 523.9 L1520.6 523.0 L1520.7 523.8 L1521.7 523.6 L1522.2 525.3 L1521.9 524.7 L1522.9 526.6 L1523.2 526.5 L1523.5 527.8 L1523.4 529.0 L1523.8 528.8 L1523.4 530.1 L1524.8 531.1 L1524.4 531.9 L1524.9 533.8 L1524.7 534.1 L1525.1 535.1 L1526.0 535.8 L1525.5 536.4 L1526.3 536.4 L1526.4 537.9 L1526.9 537.5 L1526.1 539.4 L1526.3 539.0 L1526.6 539.6 L1526.7 540.5 L1527.0 541.4 L1527.8 541.6 L1528.0 543.3 L1527.6 543.4 L1528.4 544.1 L1528.7 545.7 L1528.5 545.9 L1528.7 546.6 L1529.4 547.4 L1529.5 547.6 L1529.5 549.4 L1528.6 549.2 L1529.4 549.9 L1528.5 550.1 L1529.1 551.7 L1529.6 551.7 L1528.9 553.1 L1528.7 552.9 L1529.3 553.9 L1528.8 554.3 L1529.9 554.9 L1529.7 556.5 L1529.3 557.2 L1529.7 557.2 L1530.1 558.4 L1529.4 559.4 L1529.2 558.7 L1529.7 559.5 L1529.5 560.6 L1529.9 560.8 L1530.3 562.6 L1530.7 562.5 L1529.5 563.9 L1530.6 564.4 L1529.8 564.5 L1530.0 565.9 L1530.7 566.2 L1530.0 566.8 L1530.5 566.9 L1531.2 567.3 L1531.6 568.6 L1531.7 568.6 L1532.4 569.3 L1532.2 570.5 L1533.2 571.0 L1533.9 571.0 L1533.9 572.0 L1534.5 570.4 L1534.3 569.7 L1535.1 569.3 L1535.9 570.0 L1535.7 569.3 L1536.9 568.9 L1537.6 568.4 L1538.2 567.0 L1538.5 566.2 L1539.5 565.3 L1539.1 566.6 L1540.0 566.6 L1541.7 567.6 L1541.5 568.8 L1541.5 569.0 L1541.0 570.4 L1541.5 571.0 L1541.4 571.0 L1542.4 572.8 L1541.8 573.4 L1542.2 574.2 L1541.9 574.4 L1542.7 575.2 L1543.2 576.3 L1543.3 576.4 L1543.0 578.4 L1542.8 579.0 L1542.5 579.6 L1542.8 579.9 L1543.9 580.2 L1543.1 581.1 L1542.8 581.6 L1543.2 582.7 L1544.1 583.8 L1544.3 583.6 L1544.9 585.1 L1545.1 585.1 L1545.2 585.7 L1545.9 586.2 L1546.0 586.2 L1546.0 586.9 L1546.0 586.3 L1547.4 586.8 L1546.7 587.8 L1547.4 588.5 L1547.6 588.5 L1549.1 588.9 L1550.0 588.3 L1549.7 589.2 L1550.7 589.5 L1551.3 589.6 L1552.6 587.6 L1553.4 588.5 L1553.0 589.9 L1554.5 590.8 L1554.7 591.1 L1554.8 591.7 L1556.0 592.0 L1556.2 592.5 L1556.5 592.9 L1557.4 593.1 L1558.0 593.1 L1558.6 592.3 L1558.7 592.0 L1559.5 593.7 L1560.8 593.3 L1561.2 593.5 L1562.1 593.4 L1561.9 593.3 L1562.5 593.6 L1563.2 594.7 L1562.9 595.1 L1563.2 596.1 L1563.9 596.3 L1563.8 596.8 L1563.3 598.0 L1564.0 597.4 L1563.7 598.6 L1564.5 598.4 L1564.0 599.8 L1564.8 600.6 L1564.6 600.2 L1565.2 601.9 L1564.9 602.1 L1565.5 602.1 L1565.5 602.8 L1564.9 604.1 L1566.0 604.5 L1565.6 605.4 L1565.6 606.6 L1566.8 607.0 L1566.3 606.2 L1566.7 605.5 L1567.0 604.6 L1567.2 602.8 L1568.2 602.0 L1568.8 601.5 L1568.1 600.2 L1569.4 600.3 L1568.3 599.0 L1569.2 598.8 L1569.0 598.6 L1569.6 597.1 L1569.5 596.3 L1569.0 596.6 L1569.9 596.3 L1569.2 595.7 L1569.8 594.4 L1569.8 593.7 L1569.9 593.0 L1570.5 592.6 L1570.8 592.2 L1570.6 591.0 L1570.4 590.9 L1571.3 591.0 L1570.5 589.7 L1571.5 589.8 L1570.4 589.2 L1571.1 588.7 L1570.8 587.1 L1571.4 587.5 L1571.0 586.1 L1571.0 585.6 L1572.5 585.3 L1571.6 584.6 L1571.9 583.6 L1572.3 583.7 L1571.9 582.8 L1572.3 582.3 L1571.8 581.8 L1572.3 581.6 L1573.3 579.9 L1573.0 579.4 L1572.4 578.9 L1572.6 577.3 L1573.7 576.2 L1573.1 575.0 L1574.2 573.9 L1574.0 572.8 L1574.2 571.8 L1573.9 571.0 L1574.7 570.6 L1574.5 569.6 L1574.1 569.0 L1573.9 567.9 L1574.3 566.8 L1574.5 567.3 L1575.3 566.9 L1574.9 565.3 L1575.3 565.6 L1576.1 564.1 L1576.0 564.5 L1576.5 564.2 L1576.3 562.7 L1576.2 563.0 L1576.3 562.3 L1576.8 561.7 L1577.5 560.6 L1577.4 559.8 L1577.4 559.1 L1577.3 557.8 L1577.4 556.4 L1577.2 555.9 L1578.4 554.9 L1577.8 555.4 L1578.3 556.7 L1578.6 557.1 L1578.0 557.5 L1577.7 559.0 L1578.4 559.1 L1578.3 559.6 L1578.3 560.5 L1577.8 561.3 L1578.9 561.3 L1579.0 561.9 L1578.8 563.5 L1578.0 563.6 L1578.4 564.9 L1578.9 565.0 L1578.7 565.2 L1578.8 566.8 L1578.7 567.3 L1579.0 568.0 L1578.7 568.4 L1578.7 568.8 L1579.2 570.4 L1578.8 571.2 L1578.5 571.9 L1579.2 572.5 L1579.7 572.5 L1579.0 573.9 L1579.7 573.8 L1579.4 574.1 L1578.8 574.9 L1579.8 576.4 L1580.2 576.9 L1579.8 577.3 L1579.2 579.0 L1579.9 579.6 L1579.7 579.1 L1579.6 580.4 L1580.5 580.9 L1579.3 581.8 L1579.5 582.6 L1580.2 582.5 L1580.8 583.8 L1580.8 584.9 L1581.5 586.4 L1581.4 586.4 L1581.5 588.4 L1581.5 588.6 L1582.9 590.9 L1582.4 590.3 L1583.2 591.0 L1582.8 591.9 L1583.2 592.0 L1584.4 591.5 L1585.5 591.9 L1585.5 592.6 L1586.3 592.6 L1586.9 592.2 L1587.4 592.8 L1587.3 593.6 L1588.4 595.1 L1588.2 594.8 L1587.5 596.1 L1587.7 597.2 L1588.4 597.1 L1589.1 598.7 L1588.3 599.0 L1589.3 600.0 L1589.0 601.2 L1588.6 602.5 L1589.8 603.4 L1590.1 604.2 L1589.9 604.2 L1589.7 605.3 L1589.4 605.6 L1589.5 607.6 L1589.7 608.1 L1589.9 608.8 L1590.7 609.9 L1591.0 610.2 L1591.4 611.1 L1591.2 611.5 L1590.8 612.8 L1591.7 613.2 L1591.8 612.5 L1592.8 611.8 L1593.5 610.0 L1594.2 609.6 L1594.7 607.9 L1595.4 607.4 L1595.7 607.5 L1595.6 607.7 L1597.2 607.7 L1598.0 607.9 L1598.3 608.7 L1597.9 609.1 L1599.2 606.9 L1600.0 605.9 L1600.2 604.2 L1601.0 604.0 L1601.1 605.8 L1601.2 606.6 L1602.6 606.7 L1603.2 607.7 L1604.1 607.4 L1604.1 607.5 L1605.3 607.8 L1606.2 609.6 L1606.6 609.0 L1607.1 609.2 L1608.5 608.1 L1608.2 608.2 L1608.0 607.1 L1609.2 606.9 L1608.4 606.2 L1609.1 606.2 L1609.4 604.7 L1609.5 605.0 L1610.3 603.3 L1609.8 603.5 L1610.7 602.0 L1611.5 600.9 L1611.8 601.2 L1611.3 600.6 L1613.1 600.1 L1613.9 599.7 L1614.1 598.4 L1614.5 598.2 L1615.2 598.4 L1615.8 599.1 L1617.1 599.1 L1618.0 600.3 L1618.2 600.5 L1619.3 601.2 L1619.6 601.9 L1618.6 600.3 L1619.6 600.5 L1620.0 599.8 L1619.4 599.3 L1620.4 599.6 L1619.6 598.5 L1619.9 598.2 L1620.2 597.1 L1620.2 596.6 L1620.6 596.2 L1620.5 594.5 L1621.4 593.0 L1621.4 592.8 L1620.8 591.4 L1621.2 590.9 L1622.1 590.1 L1621.4 589.4 L1622.0 587.8 L1621.6 587.8 L1622.6 587.1 L1622.3 585.5 L1623.2 586.6 L1623.5 586.2 L1624.1 587.1 L1623.8 588.1 L1624.4 589.2 L1626.0 590.9 L1626.1 592.1 L1626.3 593.3 L1626.1 595.2 L1626.2 595.0 L1627.1 594.6 L1626.9 595.1 L1627.0 595.4 L1627.0 595.7 L1627.6 596.1 L1627.7 596.2 L1628.0 597.0 L1628.8 598.8" fill="none" stroke="#84959c" stroke-width="2.7" stroke-linejoin="round"/>
<path d="M181.5 873.0V790.5h1.5V873.0zM184.5 873.0V786.8h1.5V873.0zM186.0 873.0V802.3h1.5V873.0zM187.5 873.0V807.8h1.5V873.0zM190.5 873.0V834.6h1.5V873.0zM192.0 873.0V806.9h1.5V873.0zM193.5 873.0V800.1h1.5V873.0zM195.0 873.0V818.6h1.5V873.0zM198.0 873.0V779.7h1.5V873.0zM199.5 873.0V788.8h1.5V873.0zM201.0 873.0V811.6h1.5V873.0zM204.0 873.0V848.4h1.5V873.0zM205.5 873.0V862.6h1.5V873.0zM207.0 873.0V868.3h1.5V873.0zM210.0 873.0V857.3h1.5V873.0zM211.5 873.0V852.0h1.5V873.0zM213.0 873.0V859.2h1.5V873.0zM216.0 873.0V856.0h1.5V873.0zM217.5 873.0V856.7h1.5V873.0zM219.0 873.0V868.8h1.5V873.0zM222.0 873.0V858.9h1.5V873.0zM223.5 873.0V857.8h1.5V873.0zM225.0 873.0V867.8h1.5V873.0zM228.0 873.0V865.0h1.5V873.0zM229.5 873.0V863.7h1.5V873.0zM231.0 873.0V848.5h1.5V873.0zM234.0 873.0V871.8h1.5V873.0zM235.5 873.0V870.7h1.5V873.0zM237.0 873.0V869.5h1.5V873.0zM240.0 873.0V854.3h1.5V873.0zM241.5 873.0V845.4h1.5V873.0zM243.0 873.0V863.8h1.5V873.0zM244.5 873.0V855.4h1.5V873.0zM247.5 873.0V845.8h1.5V873.0zM249.0 873.0V868.7h1.5V873.0zM250.5 873.0V866.9h1.5V873.0zM253.5 873.0V861.7h1.5V873.0zM255.0 873.0V861.4h1.5V873.0zM256.5 873.0V855.1h1.5V873.0zM259.5 873.0V862.0h1.5V873.0zM261.0 873.0V866.4h1.5V873.0zM262.5 873.0V866.3h1.5V873.0zM265.5 873.0V858.7h1.5V873.0zM267.0 873.0V864.0h1.5V873.0zM268.5 873.0V867.5h1.5V873.0zM271.5 873.0V849.4h1.5V873.0zM273.0 873.0V840.7h1.5V873.0zM274.5 873.0V867.8h1.5V873.0zM277.5 873.0V848.5h1.5V873.0zM279.0 873.0V787.8h1.5V873.0zM280.5 873.0V792.5h1.5V873.0zM283.5 873.0V809.3h1.5V873.0zM285.0 873.0V828.6h1.5V873.0zM286.5 873.0V838.9h1.5V873.0zM289.5 873.0V847.2h1.5V873.0zM291.0 873.0V857.8h1.5V873.0zM292.5 873.0V868.7h1.5V873.0zM294.0 873.0V813.3h1.5V873.0zM297.0 873.0V853.3h1.5V873.0zM298.5 873.0V862.8h1.5V873.0zM300.0 873.0V851.6h1.5V873.0zM303.0 873.0V765.6h1.5V873.0zM304.5 873.0V789.3h1.5V873.0zM306.0 873.0V766.8h1.5V873.0zM309.0 873.0V757.6h1.5V873.0zM310.5 873.0V822.8h1.5V873.0zM312.0 873.0V834.4h1.5V873.0zM315.0 873.0V850.1h1.5V873.0zM316.5 873.0V867.1h1.5V873.0zM318.0 873.0V866.1h1.5V873.0zM321.0 873.0V863.6h1.5V873.0zM322.5 873.0V864.1h1.5V873.0zM324.0 873.0V864.9h1.5V873.0zM327.0 873.0V866.7h1.5V873.0zM328.5 873.0V835.5h1.5V873.0zM330.0 873.0V867.0h1.5V873.0zM333.0 873.0V838.6h1.5V873.0zM334.5 873.0V867.2h1.5V873.0zM336.0 873.0V867.7h1.5V873.0zM339.0 873.0V870.1h1.5V873.0zM340.5 873.0V861.2h1.5V873.0zM342.0 873.0V854.3h1.5V873.0zM343.5 873.0V871.2h1.5V873.0zM346.5 873.0V869.9h1.5V873.0zM348.0 873.0V868.7h1.5V873.0zM349.5 873.0V863.7h1.5V873.0zM352.5 873.0V867.6h1.5V873.0zM354.0 873.0V866.6h1.5V873.0zM355.5 873.0V845.4h1.5V873.0zM358.5 873.0V865.1h1.5V873.0zM360.0 873.0V864.6h1.5V873.0zM361.5 873.0V864.2h1.5V873.0zM364.5 873.0V865.4h1.5V873.0zM366.0 873.0V855.4h1.5V873.0zM367.5 873.0V818.9h1.5V873.0zM370.5 873.0V800.5h1.5V873.0zM372.0 873.0V763.0h1.5V873.0zM373.5 873.0V821.5h1.5V873.0zM376.5 873.0V833.6h1.5V873.0zM378.0 873.0V795.6h1.5V873.0zM379.5 873.0V791.5h1.5V873.0zM382.5 873.0V781.9h1.5V873.0zM384.0 873.0V801.2h1.5V873.0zM385.5 873.0V780.5h1.5V873.0zM388.5 873.0V772.3h1.5V873.0zM390.0 873.0V678.2h1.5V873.0zM391.5 873.0V710.6h1.5V873.0zM394.5 873.0V693.4h1.5V873.0zM396.0 873.0V696.2h1.5V873.0zM397.5 873.0V699.0h1.5V873.0zM399.0 873.0V720.3h1.5V873.0zM402.0 873.0V665.8h1.5V873.0zM403.5 873.0V744.0h1.5V873.0zM405.0 873.0V754.8h1.5V873.0zM408.0 873.0V753.0h1.5V873.0zM409.5 873.0V705.4h1.5V873.0zM411.0 873.0V722.0h1.5V873.0zM414.0 873.0V792.8h1.5V873.0zM415.5 873.0V824.5h1.5V873.0zM417.0 873.0V805.6h1.5V873.0zM420.0 873.0V822.6h1.5V873.0zM421.5 873.0V833.0h1.5V873.0zM423.0 873.0V827.5h1.5V873.0zM427.5 873.0V862.3h1.5V873.0zM429.0 873.0V844.1h1.5V873.0zM432.0 873.0V868.4h1.5V873.0zM433.5 873.0V863.7h1.5V873.0zM435.0 873.0V852.6h1.5V873.0zM438.0 873.0V869.6h1.5V873.0zM439.5 873.0V865.6h1.5V873.0zM441.0 873.0V868.1h1.5V873.0zM444.0 873.0V865.6h1.5V873.0zM445.5 873.0V856.4h1.5V873.0zM447.0 873.0V861.9h1.5V873.0zM448.5 873.0V868.2h1.5V873.0zM451.5 873.0V858.7h1.5V873.0zM453.0 873.0V838.5h1.5V873.0zM454.5 873.0V798.0h1.5V873.0zM457.5 873.0V803.0h1.5V873.0zM459.0 873.0V755.6h1.5V873.0zM460.5 873.0V734.9h1.5V873.0zM463.5 873.0V737.9h1.5V873.0zM465.0 873.0V735.0h1.5V873.0zM466.5 873.0V813.5h1.5V873.0zM469.5 873.0V789.1h1.5V873.0zM471.0 873.0V818.0h1.5V873.0zM472.5 873.0V775.9h1.5V873.0zM475.5 873.0V792.6h1.5V873.0zM477.0 873.0V801.3h1.5V873.0zM478.5 873.0V833.2h1.5V873.0zM481.5 873.0V848.6h1.5V873.0zM483.0 873.0V855.9h1.5V873.0zM484.5 873.0V863.1h1.5V873.0zM487.5 873.0V865.4h1.5V873.0zM489.0 873.0V867.0h1.5V873.0zM490.5 873.0V865.7h1.5V873.0zM493.5 873.0V862.3h1.5V873.0zM495.0 873.0V812.6h1.5V873.0zM496.5 873.0V827.8h1.5V873.0zM498.0 873.0V864.2h1.5V873.0zM501.0 873.0V855.6h1.5V873.0zM502.5 873.0V852.8h1.5V873.0zM504.0 873.0V850.7h1.5V873.0zM507.0 873.0V842.8h1.5V873.0zM508.5 873.0V774.3h1.5V873.0zM510.0 873.0V771.8h1.5V873.0zM513.0 873.0V752.3h1.5V873.0zM514.5 873.0V728.4h1.5V873.0zM516.0 873.0V789.1h1.5V873.0zM519.0 873.0V815.9h1.5V873.0zM520.5 873.0V813.7h1.5V873.0zM522.0 873.0V849.9h1.5V873.0zM525.0 873.0V857.0h1.5V873.0zM526.5 873.0V849.9h1.5V873.0zM528.0 873.0V855.7h1.5V873.0zM531.0 873.0V859.5h1.5V873.0zM532.5 873.0V817.5h1.5V873.0zM534.0 873.0V832.3h1.5V873.0zM537.0 873.0V831.8h1.5V873.0zM538.5 873.0V815.2h1.5V873.0zM540.0 873.0V762.3h1.5V873.0zM543.0 873.0V825.0h1.5V873.0zM544.5 873.0V825.5h1.5V873.0zM546.0 873.0V861.9h1.5V873.0zM547.5 873.0V863.9h1.5V873.0zM550.5 873.0V854.3h1.5V873.0zM552.0 873.0V857.4h1.5V873.0zM553.5 873.0V860.3h1.5V873.0zM556.5 873.0V867.1h1.5V873.0zM558.0 873.0V844.4h1.5V873.0zM559.5 873.0V831.2h1.5V873.0zM562.5 873.0V726.9h1.5V873.0zM564.0 873.0V705.6h1.5V873.0zM565.5 873.0V737.9h1.5V873.0zM568.5 873.0V681.7h1.5V873.0zM570.0 873.0V658.6h1.5V873.0zM571.5 873.0V652.1h1.5V873.0zM574.5 873.0V629.0h1.5V873.0zM576.0 873.0V620.4h1.5V873.0zM577.5 873.0V687.6h1.5V873.0zM580.5 873.0V713.5h1.5V873.0zM582.0 873.0V709.1h1.5V873.0zM583.5 873.0V680.6h1.5V873.0zM586.5 873.0V806.5h1.5V873.0zM588.0 873.0V785.1h1.5V873.0zM589.5 873.0V762.6h1.5V873.0zM592.5 873.0V780.4h1.5V873.0zM594.0 873.0V651.0h1.5V873.0zM595.5 873.0V795.3h1.5V873.0zM598.5 873.0V770.6h1.5V873.0zM600.0 873.0V781.1h1.5V873.0zM601.5 873.0V825.6h1.5V873.0zM603.0 873.0V817.8h1.5V873.0zM606.0 873.0V708.5h1.5V873.0zM607.5 873.0V737.1h1.5V873.0zM609.0 873.0V570.8h1.5V873.0zM612.0 873.0V567.6h1.5V873.0zM613.5 873.0V595.3h1.5V873.0zM615.0 873.0V514.2h1.5V873.0zM618.0 873.0V480.9h1.5V873.0zM619.5 873.0V495.7h1.5V873.0zM621.0 873.0V488.8h1.5V873.0zM624.0 873.0V449.3h1.5V873.0zM625.5 873.0V433.6h1.5V873.0zM627.0 873.0V435.7h1.5V873.0zM630.0 873.0V415.7h1.5V873.0zM631.5 873.0V383.4h1.5V873.0zM633.0 873.0V447.3h1.5V873.0zM636.0 873.0V465.8h1.5V873.0zM637.5 873.0V464.2h1.5V873.0zM639.0 873.0V464.9h1.5V873.0zM642.0 873.0V407.0h1.5V873.0zM643.5 873.0V410.5h1.5V873.0zM645.0 873.0V443.3h1.5V873.0zM648.0 873.0V431.1h1.5V873.0zM649.5 873.0V437.6h1.5V873.0zM651.0 873.0V451.5h1.5V873.0zM652.5 873.0V449.7h1.5V873.0zM655.5 873.0V434.6h1.5V873.0zM657.0 873.0V406.3h1.5V873.0zM658.5 873.0V401.5h1.5V873.0zM661.5 873.0V366.5h1.5V873.0zM663.0 873.0V438.6h1.5V873.0zM664.5 873.0V460.9h1.5V873.0zM667.5 873.0V467.6h1.5V873.0zM669.0 873.0V473.4h1.5V873.0zM670.5 873.0V463.8h1.5V873.0zM673.5 873.0V485.4h1.5V873.0zM675.0 873.0V546.0h1.5V873.0zM676.5 873.0V497.7h1.5V873.0zM679.5 873.0V484.0h1.5V873.0zM681.0 873.0V412.8h1.5V873.0zM682.5 873.0V393.8h1.5V873.0zM685.5 873.0V422.0h1.5V873.0zM687.0 873.0V392.2h1.5V873.0zM688.5 873.0V361.4h1.5V873.0zM691.5 873.0V401.7h1.5V873.0zM693.0 873.0V390.8h1.5V873.0zM694.5 873.0V415.8h1.5V873.0zM697.5 873.0V391.5h1.5V873.0zM699.0 873.0V392.1h1.5V873.0zM700.5 873.0V411.6h1.5V873.0zM702.0 873.0V446.8h1.5V873.0zM705.0 873.0V451.3h1.5V873.0zM706.5 873.0V460.9h1.5V873.0zM708.0 873.0V438.2h1.5V873.0zM711.0 873.0V455.6h1.5V873.0zM712.5 873.0V444.9h1.5V873.0zM714.0 873.0V436.9h1.5V873.0zM717.0 873.0V443.7h1.5V873.0zM718.5 873.0V429.4h1.5V873.0zM720.0 873.0V427.3h1.5V873.0zM723.0 873.0V426.5h1.5V873.0zM724.5 873.0V438.8h1.5V873.0zM726.0 873.0V431.9h1.5V873.0zM729.0 873.0V431.4h1.5V873.0zM730.5 873.0V423.1h1.5V873.0zM732.0 873.0V419.7h1.5V873.0zM735.0 873.0V425.6h1.5V873.0zM736.5 873.0V416.3h1.5V873.0zM738.0 873.0V420.1h1.5V873.0zM741.0 873.0V419.7h1.5V873.0zM742.5 873.0V437.4h1.5V873.0zM744.0 873.0V429.0h1.5V873.0zM747.0 873.0V440.3h1.5V873.0zM748.5 873.0V454.5h1.5V873.0zM750.0 873.0V450.3h1.5V873.0zM751.5 873.0V479.0h1.5V873.0zM754.5 873.0V537.2h1.5V873.0zM756.0 873.0V553.3h1.5V873.0zM757.5 873.0V554.7h1.5V873.0zM760.5 873.0V603.5h1.5V873.0zM762.0 873.0V617.7h1.5V873.0zM763.5 873.0V615.1h1.5V873.0zM766.5 873.0V649.8h1.5V873.0zM768.0 873.0V629.1h1.5V873.0zM769.5 873.0V623.7h1.5V873.0zM772.5 873.0V602.1h1.5V873.0zM774.0 873.0V589.2h1.5V873.0zM775.5 873.0V621.8h1.5V873.0zM778.5 873.0V653.5h1.5V873.0zM780.0 873.0V677.9h1.5V873.0zM781.5 873.0V683.4h1.5V873.0zM784.5 873.0V686.2h1.5V873.0zM786.0 873.0V717.0h1.5V873.0zM787.5 873.0V687.0h1.5V873.0zM790.5 873.0V696.7h1.5V873.0zM792.0 873.0V678.6h1.5V873.0zM793.5 873.0V730.3h1.5V873.0zM796.5 873.0V731.4h1.5V873.0zM798.0 873.0V721.2h1.5V873.0zM799.5 873.0V703.8h1.5V873.0zM802.5 873.0V677.0h1.5V873.0zM804.0 873.0V680.4h1.5V873.0zM805.5 873.0V729.8h1.5V873.0zM807.0 873.0V752.0h1.5V873.0zM810.0 873.0V749.4h1.5V873.0zM811.5 873.0V761.9h1.5V873.0zM813.0 873.0V747.9h1.5V873.0zM816.0 873.0V735.9h1.5V873.0zM817.5 873.0V753.1h1.5V873.0zM819.0 873.0V723.5h1.5V873.0zM822.0 873.0V759.5h1.5V873.0zM823.5 873.0V758.5h1.5V873.0zM825.0 873.0V759.9h1.5V873.0zM828.0 873.0V717.7h1.5V873.0zM829.5 873.0V731.4h1.5V873.0zM831.0 873.0V770.8h1.5V873.0zM834.0 873.0V775.9h1.5V873.0zM835.5 873.0V780.2h1.5V873.0zM837.0 873.0V780.1h1.5V873.0zM840.0 873.0V798.8h1.5V873.0zM841.5 873.0V805.5h1.5V873.0zM843.0 873.0V695.3h1.5V873.0zM846.0 873.0V688.2h1.5V873.0zM847.5 873.0V695.0h1.5V873.0zM849.0 873.0V664.2h1.5V873.0zM852.0 873.0V676.9h1.5V873.0zM853.5 873.0V698.9h1.5V873.0zM855.0 873.0V672.1h1.5V873.0zM856.5 873.0V742.4h1.5V873.0zM859.5 873.0V773.9h1.5V873.0zM861.0 873.0V765.3h1.5V873.0zM862.5 873.0V743.4h1.5V873.0zM865.5 873.0V774.8h1.5V873.0zM867.0 873.0V749.5h1.5V873.0zM868.5 873.0V640.8h1.5V873.0zM871.5 873.0V613.4h1.5V873.0zM873.0 873.0V672.9h1.5V873.0zM874.5 873.0V690.8h1.5V873.0zM877.5 873.0V655.1h1.5V873.0zM879.0 873.0V644.5h1.5V873.0zM880.5 873.0V675.1h1.5V873.0zM883.5 873.0V636.1h1.5V873.0zM885.0 873.0V637.6h1.5V873.0zM886.5 873.0V640.1h1.5V873.0zM889.5 873.0V695.8h1.5V873.0zM891.0 873.0V806.6h1.5V873.0zM892.5 873.0V809.9h1.5V873.0zM895.5 873.0V810.1h1.5V873.0zM897.0 873.0V832.1h1.5V873.0zM898.5 873.0V846.8h1.5V873.0zM901.5 873.0V857.5h1.5V873.0zM903.0 873.0V838.4h1.5V873.0zM904.5 873.0V838.5h1.5V873.0zM906.0 873.0V857.3h1.5V873.0zM909.0 873.0V848.7h1.5V873.0zM910.5 873.0V852.0h1.5V873.0zM912.0 873.0V855.1h1.5V873.0zM915.0 873.0V866.5h1.5V873.0zM916.5 873.0V858.0h1.5V873.0zM918.0 873.0V865.4h1.5V873.0zM921.0 873.0V866.2h1.5V873.0zM922.5 873.0V866.3h1.5V873.0zM928.5 873.0V855.0h1.5V873.0zM930.0 873.0V844.2h1.5V873.0zM933.0 873.0V827.4h1.5V873.0zM934.5 873.0V829.0h1.5V873.0zM936.0 873.0V832.0h1.5V873.0zM939.0 873.0V842.0h1.5V873.0zM940.5 873.0V815.6h1.5V873.0zM942.0 873.0V808.8h1.5V873.0zM945.0 873.0V820.3h1.5V873.0zM946.5 873.0V840.6h1.5V873.0zM948.0 873.0V838.6h1.5V873.0zM951.0 873.0V826.6h1.5V873.0zM952.5 873.0V821.6h1.5V873.0zM954.0 873.0V856.8h1.5V873.0zM955.5 873.0V844.8h1.5V873.0zM958.5 873.0V805.5h1.5V873.0zM960.0 873.0V797.4h1.5V873.0zM961.5 873.0V814.7h1.5V873.0zM964.5 873.0V861.6h1.5V873.0zM966.0 873.0V864.7h1.5V873.0zM967.5 873.0V867.0h1.5V873.0zM970.5 873.0V844.6h1.5V873.0zM972.0 873.0V839.9h1.5V873.0zM973.5 873.0V835.0h1.5V873.0zM976.5 873.0V847.3h1.5V873.0zM978.0 873.0V835.0h1.5V873.0zM979.5 873.0V823.4h1.5V873.0zM982.5 873.0V749.6h1.5V873.0zM984.0 873.0V742.9h1.5V873.0zM985.5 873.0V731.2h1.5V873.0zM988.5 873.0V749.3h1.5V873.0zM990.0 873.0V761.5h1.5V873.0zM991.5 873.0V744.9h1.5V873.0zM994.5 873.0V718.0h1.5V873.0zM996.0 873.0V736.1h1.5V873.0zM997.5 873.0V732.7h1.5V873.0zM1000.5 873.0V763.0h1.5V873.0zM1002.0 873.0V681.5h1.5V873.0zM1003.5 873.0V702.8h1.5V873.0zM1006.5 873.0V740.6h1.5V873.0zM1008.0 873.0V757.8h1.5V873.0zM1009.5 873.0V736.2h1.5V873.0zM1011.0 873.0V732.3h1.5V873.0zM1014.0 873.0V697.1h1.5V873.0zM1015.5 873.0V666.8h1.5V873.0zM1017.0 873.0V618.8h1.5V873.0zM1020.0 873.0V633.8h1.5V873.0zM1021.5 873.0V656.5h1.5V873.0zM1023.0 873.0V650.8h1.5V873.0zM1026.0 873.0V644.1h1.5V873.0zM1027.5 873.0V607.5h1.5V873.0zM1029.0 873.0V584.5h1.5V873.0zM1032.0 873.0V645.3h1.5V873.0zM1033.5 873.0V573.7h1.5V873.0zM1035.0 873.0V581.0h1.5V873.0zM1038.0 873.0V617.1h1.5V873.0zM1039.5 873.0V600.6h1.5V873.0zM1041.0 873.0V596.2h1.5V873.0zM1044.0 873.0V566.6h1.5V873.0zM1045.5 873.0V582.6h1.5V873.0zM1047.0 873.0V586.5h1.5V873.0zM1050.0 873.0V597.7h1.5V873.0zM1051.5 873.0V659.7h1.5V873.0zM1053.0 873.0V645.1h1.5V873.0zM1056.0 873.0V695.6h1.5V873.0zM1057.5 873.0V685.8h1.5V873.0zM1059.0 873.0V681.2h1.5V873.0zM1060.5 873.0V690.6h1.5V873.0zM1063.5 873.0V675.9h1.5V873.0zM1065.0 873.0V608.0h1.5V873.0zM1066.5 873.0V575.9h1.5V873.0zM1069.5 873.0V580.2h1.5V873.0zM1071.0 873.0V575.8h1.5V873.0zM1072.5 873.0V617.6h1.5V873.0zM1075.5 873.0V603.4h1.5V873.0zM1077.0 873.0V576.9h1.5V873.0zM1078.5 873.0V563.3h1.5V873.0zM1081.5 873.0V533.3h1.5V873.0zM1083.0 873.0V536.9h1.5V873.0zM1084.5 873.0V532.1h1.5V873.0zM1087.5 873.0V550.8h1.5V873.0zM1089.0 873.0V552.1h1.5V873.0zM1090.5 873.0V554.2h1.5V873.0zM1093.5 873.0V583.0h1.5V873.0zM1095.0 873.0V590.3h1.5V873.0zM1096.5 873.0V556.4h1.5V873.0zM1099.5 873.0V569.9h1.5V873.0zM1101.0 873.0V563.3h1.5V873.0zM1102.5 873.0V558.3h1.5V873.0zM1105.5 873.0V547.0h1.5V873.0zM1107.0 873.0V543.4h1.5V873.0zM1108.5 873.0V522.2h1.5V873.0zM1110.0 873.0V542.5h1.5V873.0zM1113.0 873.0V531.2h1.5V873.0zM1114.5 873.0V538.2h1.5V873.0zM1116.0 873.0V541.5h1.5V873.0zM1119.0 873.0V551.5h1.5V873.0zM1120.5 873.0V546.4h1.5V873.0zM1122.0 873.0V533.4h1.5V873.0zM1125.0 873.0V567.7h1.5V873.0zM1126.5 873.0V571.9h1.5V873.0zM1128.0 873.0V571.2h1.5V873.0zM1131.0 873.0V569.6h1.5V873.0zM1132.5 873.0V583.5h1.5V873.0zM1134.0 873.0V556.8h1.5V873.0zM1137.0 873.0V541.0h1.5V873.0zM1138.5 873.0V535.1h1.5V873.0zM1140.0 873.0V591.1h1.5V873.0zM1143.0 873.0V594.1h1.5V873.0zM1144.5 873.0V629.7h1.5V873.0zM1146.0 873.0V641.7h1.5V873.0zM1149.0 873.0V655.7h1.5V873.0zM1150.5 873.0V661.8h1.5V873.0zM1152.0 873.0V628.6h1.5V873.0zM1155.0 873.0V593.0h1.5V873.0zM1156.5 873.0V591.5h1.5V873.0zM1158.0 873.0V599.8h1.5V873.0zM1159.5 873.0V612.5h1.5V873.0zM1162.5 873.0V659.0h1.5V873.0zM1164.0 873.0V624.6h1.5V873.0zM1165.5 873.0V558.2h1.5V873.0zM1168.5 873.0V558.7h1.5V873.0zM1170.0 873.0V556.7h1.5V873.0zM1171.5 873.0V566.3h1.5V873.0zM1174.5 873.0V529.0h1.5V873.0zM1176.0 873.0V535.7h1.5V873.0zM1177.5 873.0V519.7h1.5V873.0zM1180.5 873.0V573.0h1.5V873.0zM1182.0 873.0V580.4h1.5V873.0zM1183.5 873.0V585.1h1.5V873.0zM1186.5 873.0V549.4h1.5V873.0zM1188.0 873.0V609.3h1.5V873.0zM1189.5 873.0V659.5h1.5V873.0zM1192.5 873.0V674.3h1.5V873.0zM1194.0 873.0V630.5h1.5V873.0zM1195.5 873.0V569.1h1.5V873.0zM1198.5 873.0V546.1h1.5V873.0zM1200.0 873.0V557.1h1.5V873.0zM1201.5 873.0V541.2h1.5V873.0zM1204.5 873.0V581.8h1.5V873.0zM1206.0 873.0V645.7h1.5V873.0zM1207.5 873.0V578.4h1.5V873.0zM1210.5 873.0V566.5h1.5V873.0zM1212.0 873.0V556.9h1.5V873.0zM1213.5 873.0V548.5h1.5V873.0zM1215.0 873.0V609.3h1.5V873.0zM1218.0 873.0V596.7h1.5V873.0zM1219.5 873.0V631.7h1.5V873.0zM1221.0 873.0V649.4h1.5V873.0zM1224.0 873.0V661.8h1.5V873.0zM1225.5 873.0V652.5h1.5V873.0zM1227.0 873.0V632.9h1.5V873.0zM1230.0 873.0V636.6h1.5V873.0zM1231.5 873.0V690.9h1.5V873.0zM1233.0 873.0V695.9h1.5V873.0zM1236.0 873.0V736.5h1.5V873.0zM1237.5 873.0V733.0h1.5V873.0zM1239.0 873.0V744.4h1.5V873.0zM1242.0 873.0V762.9h1.5V873.0zM1243.5 873.0V765.2h1.5V873.0zM1245.0 873.0V775.3h1.5V873.0zM1248.0 873.0V759.7h1.5V873.0zM1249.5 873.0V723.6h1.5V873.0zM1251.0 873.0V737.4h1.5V873.0zM1254.0 873.0V737.7h1.5V873.0zM1255.5 873.0V747.1h1.5V873.0zM1257.0 873.0V755.5h1.5V873.0zM1260.0 873.0V722.4h1.5V873.0zM1261.5 873.0V657.9h1.5V873.0zM1263.0 873.0V638.5h1.5V873.0zM1264.5 873.0V635.5h1.5V873.0zM1267.5 873.0V637.9h1.5V873.0zM1269.0 873.0V638.5h1.5V873.0zM1270.5 873.0V579.0h1.5V873.0zM1273.5 873.0V570.6h1.5V873.0zM1275.0 873.0V584.0h1.5V873.0zM1276.5 873.0V607.7h1.5V873.0zM1279.5 873.0V602.4h1.5V873.0zM1281.0 873.0V573.9h1.5V873.0zM1282.5 873.0V565.5h1.5V873.0zM1285.5 873.0V617.1h1.5V873.0zM1287.0 873.0V638.6h1.5V873.0zM1288.5 873.0V636.6h1.5V873.0zM1291.5 873.0V573.7h1.5V873.0zM1293.0 873.0V565.7h1.5V873.0zM1294.5 873.0V558.9h1.5V873.0zM1297.5 873.0V548.6h1.5V873.0zM1299.0 873.0V530.2h1.5V873.0zM1300.5 873.0V537.7h1.5V873.0zM1303.5 873.0V567.1h1.5V873.0zM1305.0 873.0V570.7h1.5V873.0zM1306.5 873.0V545.0h1.5V873.0zM1309.5 873.0V517.9h1.5V873.0zM1311.0 873.0V539.6h1.5V873.0zM1312.5 873.0V523.3h1.5V873.0zM1314.0 873.0V521.0h1.5V873.0zM1317.0 873.0V620.1h1.5V873.0zM1318.5 873.0V529.6h1.5V873.0zM1320.0 873.0V525.3h1.5V873.0zM1323.0 873.0V516.8h1.5V873.0zM1324.5 873.0V524.5h1.5V873.0zM1326.0 873.0V529.7h1.5V873.0zM1329.0 873.0V523.6h1.5V873.0zM1330.5 873.0V532.7h1.5V873.0zM1332.0 873.0V518.1h1.5V873.0zM1335.0 873.0V531.2h1.5V873.0zM1336.5 873.0V541.8h1.5V873.0zM1338.0 873.0V565.4h1.5V873.0zM1341.0 873.0V544.5h1.5V873.0zM1342.5 873.0V518.4h1.5V873.0zM1344.0 873.0V498.3h1.5V873.0zM1347.0 873.0V544.8h1.5V873.0zM1348.5 873.0V506.4h1.5V873.0zM1350.0 873.0V517.7h1.5V873.0zM1353.0 873.0V513.1h1.5V873.0zM1354.5 873.0V511.4h1.5V873.0zM1356.0 873.0V547.0h1.5V873.0zM1359.0 873.0V544.0h1.5V873.0zM1360.5 873.0V514.3h1.5V873.0zM1362.0 873.0V516.2h1.5V873.0zM1363.5 873.0V526.4h1.5V873.0zM1366.5 873.0V552.4h1.5V873.0zM1368.0 873.0V576.8h1.5V873.0zM1369.5 873.0V595.7h1.5V873.0zM1372.5 873.0V547.7h1.5V873.0zM1374.0 873.0V543.4h1.5V873.0zM1375.5 873.0V553.9h1.5V873.0zM1378.5 873.0V561.3h1.5V873.0zM1380.0 873.0V554.2h1.5V873.0zM1381.5 873.0V612.0h1.5V873.0zM1384.5 873.0V589.8h1.5V873.0zM1386.0 873.0V567.5h1.5V873.0zM1387.5 873.0V549.7h1.5V873.0zM1390.5 873.0V504.6h1.5V873.0zM1392.0 873.0V493.2h1.5V873.0zM1393.5 873.0V495.3h1.5V873.0zM1396.5 873.0V494.2h1.5V873.0zM1398.0 873.0V504.7h1.5V873.0zM1399.5 873.0V495.3h1.5V873.0zM1402.5 873.0V490.0h1.5V873.0zM1404.0 873.0V497.9h1.5V873.0zM1405.5 873.0V492.1h1.5V873.0zM1408.5 873.0V503.6h1.5V873.0zM1410.0 873.0V507.4h1.5V873.0zM1411.5 873.0V504.8h1.5V873.0zM1414.5 873.0V484.0h1.5V873.0zM1416.0 873.0V503.6h1.5V873.0zM1417.5 873.0V519.8h1.5V873.0zM1419.0 873.0V526.4h1.5V873.0zM1422.0 873.0V547.3h1.5V873.0zM1423.5 873.0V482.4h1.5V873.0zM1425.0 873.0V494.1h1.5V873.0zM1428.0 873.0V491.6h1.5V873.0zM1429.5 873.0V496.9h1.5V873.0zM1431.0 873.0V476.9h1.5V873.0zM1434.0 873.0V479.4h1.5V873.0zM1435.5 873.0V500.6h1.5V873.0zM1437.0 873.0V526.7h1.5V873.0zM1440.0 873.0V528.0h1.5V873.0zM1441.5 873.0V564.2h1.5V873.0zM1443.0 873.0V576.2h1.5V873.0zM1446.0 873.0V596.0h1.5V873.0zM1447.5 873.0V589.9h1.5V873.0zM1449.0 873.0V551.5h1.5V873.0zM1452.0 873.0V505.8h1.5V873.0zM1453.5 873.0V506.2h1.5V873.0zM1455.0 873.0V550.9h1.5V873.0zM1458.0 873.0V558.7h1.5V873.0zM1459.5 873.0V554.3h1.5V873.0zM1461.0 873.0V571.0h1.5V873.0zM1464.0 873.0V620.0h1.5V873.0zM1465.5 873.0V636.4h1.5V873.0zM1467.0 873.0V642.7h1.5V873.0zM1468.5 873.0V648.8h1.5V873.0zM1471.5 873.0V630.0h1.5V873.0zM1473.0 873.0V609.6h1.5V873.0zM1474.5 873.0V592.9h1.5V873.0zM1477.5 873.0V602.3h1.5V873.0zM1479.0 873.0V597.6h1.5V873.0zM1480.5 873.0V591.5h1.5V873.0zM1483.5 873.0V634.4h1.5V873.0zM1485.0 873.0V666.8h1.5V873.0zM1486.5 873.0V668.8h1.5V873.0zM1489.5 873.0V651.7h1.5V873.0zM1491.0 873.0V645.6h1.5V873.0zM1492.5 873.0V634.7h1.5V873.0zM1495.5 873.0V632.0h1.5V873.0zM1497.0 873.0V604.6h1.5V873.0zM1498.5 873.0V613.4h1.5V873.0zM1501.5 873.0V615.9h1.5V873.0zM1503.0 873.0V624.8h1.5V873.0zM1504.5 873.0V637.7h1.5V873.0zM1507.5 873.0V643.8h1.5V873.0zM1509.0 873.0V661.7h1.5V873.0zM1510.5 873.0V662.8h1.5V873.0zM1513.5 873.0V674.8h1.5V873.0zM1515.0 873.0V678.0h1.5V873.0zM1516.5 873.0V688.1h1.5V873.0zM1518.0 873.0V683.4h1.5V873.0zM1521.0 873.0V672.2h1.5V873.0zM1522.5 873.0V644.5h1.5V873.0zM1524.0 873.0V645.6h1.5V873.0zM1527.0 873.0V562.7h1.5V873.0zM1528.5 873.0V528.9h1.5V873.0zM1530.0 873.0V575.1h1.5V873.0zM1533.0 873.0V587.2h1.5V873.0zM1534.5 873.0V579.6h1.5V873.0zM1536.0 873.0V585.4h1.5V873.0zM1539.0 873.0V554.9h1.5V873.0zM1540.5 873.0V507.1h1.5V873.0zM1542.0 873.0V507.4h1.5V873.0zM1545.0 873.0V508.9h1.5V873.0zM1546.5 873.0V505.1h1.5V873.0zM1548.0 873.0V499.2h1.5V873.0zM1551.0 873.0V485.6h1.5V873.0zM1552.5 873.0V527.0h1.5V873.0zM1554.0 873.0V527.2h1.5V873.0zM1557.0 873.0V510.3h1.5V873.0zM1558.5 873.0V504.0h1.5V873.0zM1560.0 873.0V531.8h1.5V873.0zM1563.0 873.0V533.2h1.5V873.0zM1564.5 873.0V490.5h1.5V873.0zM1566.0 873.0V492.9h1.5V873.0zM1569.0 873.0V515.0h1.5V873.0zM1570.5 873.0V598.8h1.5V873.0zM1572.0 873.0V633.6h1.5V873.0zM1573.5 873.0V654.1h1.5V873.0zM1576.5 873.0V557.0h1.5V873.0zM1578.0 873.0V555.4h1.5V873.0zM1579.5 873.0V559.0h1.5V873.0zM1582.5 873.0V513.7h1.5V873.0zM1584.0 873.0V545.0h1.5V873.0zM1585.5 873.0V524.2h1.5V873.0zM1588.5 873.0V527.7h1.5V873.0zM1590.0 873.0V504.4h1.5V873.0zM1591.5 873.0V497.9h1.5V873.0zM1594.5 873.0V515.2h1.5V873.0zM1596.0 873.0V541.2h1.5V873.0zM1597.5 873.0V558.7h1.5V873.0zM1600.5 873.0V528.8h1.5V873.0zM1602.0 873.0V505.7h1.5V873.0zM1603.5 873.0V536.8h1.5V873.0zM1606.5 873.0V533.3h1.5V873.0zM1608.0 873.0V552.9h1.5V873.0zM1609.5 873.0V572.8h1.5V873.0zM1612.5 873.0V567.5h1.5V873.0zM1614.0 873.0V553.7h1.5V873.0zM1615.5 873.0V513.9h1.5V873.0zM1618.5 873.0V592.3h1.5V873.0zM1620.0 873.0V625.4h1.5V873.0zM1621.5 873.0V608.4h1.5V873.0zM1623.0 873.0V608.5h1.5V873.0zM1626.0 873.0V558.6h1.5V873.0zM1627.5 873.0V556.1h1.5V873.0z" fill="#f72d4b" fill-opacity="0.4"/>
<path d="M182.5 481.5 L185.1 483.0 L187.7 484.4 L190.3 485.7 L192.9 484.2 L195.5 483.4 L198.1 480.7 L200.7 481.2 L203.3 482.0 L205.9 481.5 L208.5 476.3 L211.1 460.2 L213.7 459.3 L216.3 458.2 L218.9 458.0 L221.5 457.4 L224.1 455.7 L226.7 455.4 L229.3 454.8 L231.9 450.6 L234.5 440.7 L237.1 433.7 L239.7 432.8 L242.3 429.9 L244.9 429.1 L247.5 426.6 L250.1 424.7 L252.7 424.6 L255.3 421.9 L257.9 421.7 L260.5 422.1 L263.1 418.0 L265.7 413.0 L268.3 410.3 L270.9 407.1 L273.5 405.4 L276.1 402.5 L278.7 401.8 L281.3 399.5 L283.9 398.4 L286.5 396.6 L289.1 393.9 L291.7 392.3 L294.3 390.3 L296.9 389.0 L299.5 387.7 L302.1 386.9 L304.7 386.3 L307.3 384.1 L309.9 384.1 L312.5 380.0 L315.1 376.4 L317.7 373.7 L320.3 369.4 L322.9 363.9 L325.5 359.0 L328.1 353.3 L330.7 345.7 L333.3 342.6 L335.9 340.2 L338.5 340.8 L341.1 332.9 L343.7 320.1 L346.3 318.3 L348.9 314.3 L351.5 311.4 L354.1 306.9 L356.7 303.3 L359.3 299.9 L361.9 297.7 L364.5 292.7 L367.1 291.2 L369.7 289.4 L372.3 287.2 L374.9 284.0 L377.5 281.8 L380.1 280.0 L382.7 279.0 L385.3 276.3 L387.9 276.0 L390.5 274.7 L393.1 273.6 L395.7 272.0 L398.3 273.4 L400.9 269.1 L403.5 267.7 L406.1 267.3 L408.7 267.0 L411.3 265.1 L413.9 265.3 L416.5 263.7 L419.1 262.5 L421.7 261.7 L424.3 260.7 L426.9 259.8 L429.5 259.3 L432.1 259.5 L434.7 259.4 L437.3 257.1 L439.9 256.2 L442.5 256.5 L445.1 254.3 L447.7 252.6 L450.3 250.9 L452.9 250.1 L455.5 249.0 L458.1 246.6 L460.7 244.8 L463.3 242.8 L465.9 243.8 L468.5 241.6 L471.1 241.9 L473.7 242.0 L476.3 240.1 L478.9 240.7 L481.5 240.4 L484.1 239.2 L486.7 238.8 L489.3 237.0 L491.9 236.9 L494.5 235.7 L497.1 236.3 L499.7 234.7 L502.3 234.3 L504.9 234.6 L507.5 233.7 L510.1 233.3 L512.7 231.7 L515.3 231.0 L517.9 230.9 L520.5 230.7 L523.1 230.5 L525.7 230.9 L528.3 230.6 L530.9 231.2 L533.5 232.4 L536.1 232.6 L538.7 232.1 L541.3 232.0 L543.9 231.8 L546.5 231.5 L549.1 231.9 L551.7 232.9 L554.3 233.1 L556.9 232.3 L559.5 233.0 L562.1 233.0 L564.7 234.0 L567.3 236.9 L569.9 240.1 L572.5 241.2 L575.1 242.1 L577.7 241.7 L580.3 242.4 L582.9 243.2 L585.5 243.5 L588.1 243.6 L590.7 245.5 L593.3 245.8 L595.9 246.4 L598.5 246.2 L601.1 248.3 L603.7 249.4 L606.3 251.7 L608.9 253.0 L611.5 256.3 L614.1 259.3 L616.7 263.0 L619.3 265.6 L621.9 269.5 L624.5 271.9 L627.1 273.9 L629.7 274.9 L632.3 276.1 L634.9 276.4 L637.5 278.9 L640.1 282.3 L642.7 286.3 L645.3 289.7 L647.9 293.8 L650.5 297.3 L653.1 302.6 L655.7 306.8 L658.3 309.7 L660.9 313.8 L663.5 317.5 L666.1 321.3 L668.7 324.0 L671.3 328.8 L673.9 332.2 L676.5 336.1 L679.1 339.5 L681.7 343.6 L684.3 347.7 L686.9 350.8 L689.5 352.9 L692.1 353.7 L694.7 356.0 L697.3 358.5 L699.9 361.9 L702.5 364.3 L705.1 368.3 L707.7 371.4 L710.3 373.5 L712.9 377.4 L715.5 379.9 L718.1 381.8 L720.7 384.1 L723.3 386.6 L725.9 388.5 L728.5 390.7 L731.1 392.6 L733.7 395.5 L736.3 397.5 L738.9 400.1 L741.5 402.1 L744.1 403.6 L746.7 406.8 L749.3 407.3 L751.9 410.7 L754.5 413.4 L757.1 416.6 L759.7 419.0 L762.3 416.0 L764.9 413.9 L767.5 416.9 L770.1 421.6 L772.7 423.4 L775.3 427.1 L777.9 429.5 L780.5 432.8 L783.1 436.3 L785.7 438.7 L788.3 440.4 L790.9 443.5 L793.5 445.6 L796.1 447.6 L798.7 449.6 L801.3 452.8 L803.9 455.3 L806.5 458.6 L809.1 461.2 L811.7 463.1 L814.3 465.3 L816.9 466.4 L819.5 466.3 L822.1 468.6 L824.7 471.6 L827.3 473.8 L829.9 473.8 L832.5 475.4 L835.1 476.6 L837.7 477.1 L840.3 479.1 L842.9 480.6 L845.5 482.6 L848.1 485.7 L850.7 486.5 L853.3 489.3 L855.9 490.9 L858.5 492.1 L861.1 493.2 L863.7 496.2 L866.3 497.3 L868.9 499.3 L871.5 501.3 L874.1 504.7 L876.7 506.0 L879.3 507.8 L881.9 509.9 L884.5 511.0 L887.1 513.5 L889.7 514.9 L892.3 516.3 L894.9 518.8 L897.5 520.6 L900.1 520.4 L902.7 522.7 L905.3 523.5 L907.9 526.0 L910.5 526.9 L913.1 527.0 L915.7 528.0 L918.3 528.7 L920.9 531.5 L923.5 532.0 L926.1 529.6 L928.7 527.9 L931.3 529.1 L933.9 529.9 L936.5 530.8 L939.1 528.5 L941.7 530.2 L944.3 530.8 L946.9 532.7 L949.5 531.8 L952.1 529.4 L954.7 525.3 L957.3 522.3 L959.9 521.8 L962.5 522.1 L965.1 521.5 L967.7 520.2 L970.3 520.2 L972.9 520.0 L975.5 520.2 L978.1 519.6 L980.7 517.4 L983.3 514.5 L985.9 516.3 L988.5 516.6 L991.1 517.8 L993.7 519.0 L996.3 519.8 L998.9 515.8 L1001.5 512.7 L1004.1 510.9 L1006.7 510.1 L1009.3 510.0 L1011.9 508.0 L1014.5 507.3 L1017.1 507.1 L1019.7 504.6 L1022.3 504.8 L1024.9 503.4 L1027.5 504.5 L1030.1 505.8 L1032.7 505.9 L1035.3 505.2 L1037.9 503.3 L1040.5 505.2 L1043.1 506.6 L1045.7 507.8 L1048.3 508.8 L1050.9 509.7 L1053.5 511.3 L1056.1 512.6 L1058.7 512.1 L1061.3 513.3 L1063.9 515.2 L1066.5 514.6 L1069.1 512.8 L1071.7 510.5 L1074.3 512.5 L1076.9 513.7 L1079.5 514.4 L1082.1 514.6 L1084.7 514.1 L1087.3 516.1 L1089.9 515.5 L1092.5 516.9 L1095.1 518.0 L1097.7 518.1 L1100.3 517.6 L1102.9 518.4 L1105.5 519.5 L1108.1 518.1 L1110.7 518.9 L1113.3 518.4 L1115.9 517.1 L1118.5 517.2 L1121.1 515.3 L1123.7 514.7 L1126.3 514.6 L1128.9 513.6 L1131.5 513.1 L1134.1 507.5 L1136.7 504.0 L1139.3 504.0 L1141.9 502.4 L1144.5 502.7 L1147.1 502.2 L1149.7 502.9 L1152.3 502.9 L1154.9 503.9 L1157.5 503.1 L1160.1 502.8 L1162.7 504.1 L1165.3 503.6 L1167.9 504.9 L1170.5 505.1 L1173.1 506.3 L1175.7 506.0 L1178.3 506.4 L1180.9 505.5 L1183.5 505.8 L1186.1 505.1 L1188.7 505.8 L1191.3 505.1 L1193.9 504.3 L1196.5 504.5 L1199.1 504.8 L1201.7 505.4 L1204.3 504.4 L1206.9 504.4 L1209.5 503.0 L1212.1 500.7 L1214.7 501.3 L1217.3 500.0 L1219.9 499.8 L1222.5 500.4 L1225.1 499.5 L1227.7 501.0 L1230.3 500.6 L1232.9 500.7 L1235.5 501.3 L1238.1 497.3 L1240.7 497.4 L1243.3 495.5 L1245.9 495.0 L1248.5 495.7 L1251.1 494.8 L1253.7 493.9 L1256.3 493.7 L1258.9 495.2 L1261.5 494.6 L1264.1 495.9 L1266.7 495.6 L1269.3 497.5 L1271.9 496.5 L1274.5 495.2 L1277.1 494.4 L1279.7 495.6 L1282.3 496.1 L1284.9 497.3 L1287.5 496.0 L1290.1 496.4 L1292.7 495.3 L1295.3 496.6 L1297.9 496.9 L1300.5 498.6 L1303.1 498.9 L1305.7 499.3 L1308.3 499.6 L1310.9 500.2 L1313.5 499.7 L1316.1 499.0 L1318.7 498.7 L1321.3 500.1 L1323.9 502.0 L1326.5 507.5 L1329.1 507.6 L1331.7 505.8 L1334.3 499.3 L1336.9 497.9 L1339.5 497.5 L1342.1 495.9 L1344.7 495.2 L1347.3 495.0 L1349.9 494.0 L1352.5 493.9 L1355.1 494.9 L1357.7 496.4 L1360.3 497.3 L1362.9 498.2 L1365.5 496.9 L1368.1 497.1 L1370.7 496.6 L1373.3 494.7 L1375.9 493.2 L1378.5 492.1 L1381.1 492.6 L1383.7 492.0 L1386.3 493.7 L1388.9 492.7 L1391.5 493.5 L1394.1 492.9 L1396.7 490.7 L1399.3 487.1 L1401.9 480.7 L1404.5 471.9 L1407.1 469.0 L1409.7 465.7 L1412.3 465.9 L1414.9 465.4 L1417.5 463.9 L1420.1 464.6 L1422.7 464.9 L1425.3 465.7 L1427.9 465.1 L1430.5 465.4 L1433.1 466.1 L1435.7 464.7 L1438.3 464.4 L1440.9 464.5 L1443.5 464.0 L1446.1 464.8 L1448.7 464.9 L1451.3 464.1 L1453.9 464.5 L1456.5 466.2 L1459.1 468.3 L1461.7 469.5 L1464.3 471.7 L1466.9 469.6 L1469.5 462.1 L1472.1 455.3 L1474.7 454.3 L1477.3 453.6 L1479.9 454.8 L1482.5 457.6 L1485.1 458.2 L1487.7 457.1 L1490.3 457.5 L1492.9 458.3 L1495.5 459.5 L1498.1 461.7 L1500.7 459.6 L1503.3 460.1 L1505.9 460.2 L1508.5 462.3 L1511.1 462.9 L1513.7 463.6 L1516.3 463.0 L1518.9 463.3 L1521.5 464.3 L1524.1 465.5 L1526.7 466.3 L1529.3 467.6 L1531.9 470.1 L1534.5 469.3 L1537.1 470.5 L1539.7 471.0 L1542.3 471.7 L1544.9 471.3 L1547.5 472.2 L1550.1 474.4 L1552.7 476.8 L1555.3 478.5 L1557.9 480.1 L1560.5 482.7 L1563.1 483.1 L1565.7 482.3 L1568.3 482.9 L1570.9 483.2 L1573.5 485.5 L1576.1 487.4 L1578.7 488.8 L1581.3 488.5 L1583.9 488.4 L1586.5 487.9 L1589.1 489.5 L1591.7 491.4 L1594.3 491.4 L1596.9 492.0 L1599.5 493.2 L1602.1 493.8 L1604.7 496.0 L1607.3 497.0 L1609.9 495.6 L1612.5 493.0 L1615.1 492.3 L1617.7 493.6 L1620.3 492.7 L1622.9 491.7 L1625.5 489.6 L1627.5 487.5" fill="none" stroke="#40c16d" stroke-width="2.4" stroke-linejoin="round"/>
<line x1="1630.2" x2="1630.2" y1="164" y2="873" stroke="#8ddaa6" stroke-width="1.7"/>
<g opacity="0.09" fill="none" stroke="#000" stroke-width="4.1" transform="translate(-4220.97 -2452.03) scale(3.0741)"><circle cx="1581.50" cy="967.55" r="9.00"/><path d="M1590.90 956.8V975.4A9.00 9.00 0 0 1 1574.50 980.60"/><path d="M1599.5 948.3V978.5"/><circle cx="1616.30" cy="967.55" r="9.00"/><path d="M1625.5 956.8V978.5"/><path transform="translate(0.0 0)" d="M1645.2 962.3C1644.3 959.7 1641.9 958.5 1639 958.5C1635.6 958.5 1633.1 960.4 1633.1 963.2C1633.1 969.6 1645 966.1 1645 972.4C1645 975 1642.4 976.6 1639 976.6C1635.8 976.6 1633.2 975.2 1632.4 972.4"/><path transform="translate(17.9 0)" d="M1645.2 962.3C1644.3 959.7 1641.9 958.5 1639 958.5C1635.6 958.5 1633.1 960.4 1633.1 963.2C1633.1 969.6 1645 966.1 1645 972.4C1645 975 1642.4 976.6 1639 976.6C1635.8 976.6 1633.2 975.2 1632.4 972.4"/><path d="M1670.1 956.8V978.5M1670.1 966.2A7.4 7.4 0 0 1 1684.9 966.2V978.5"/><circle cx="1701.2" cy="967.55" r="9.00"/><circle cx="1725.5" cy="967.55" r="9.00"/><path d="M1734.8 949.2V978.5"/><path d="M1742.30 968.05H1760.30A9.00 9.00 0 1 0 1758.76 972.58"/></g>
<g font-size="18" fill="#666" lengthAdjust="spacingAndGlyphs">
<text x="160" y="251" text-anchor="end" textLength="41.3" lengthAdjust="spacingAndGlyphs">$60k</text>
<text x="160" y="588" text-anchor="end" textLength="41.3" lengthAdjust="spacingAndGlyphs">$20k</text>
<text x="160" y="870" text-anchor="end" textLength="29.5" lengthAdjust="spacingAndGlyphs">$8k</text>
<text x="1652" y="263" textLength="39.5" lengthAdjust="spacingAndGlyphs">4.8M</text>
<text x="1652" y="465" textLength="39.3" lengthAdjust="spacingAndGlyphs">3.2M</text>
<text x="1652" y="668" textLength="37.5" lengthAdjust="spacingAndGlyphs">1.6M</text>
<text x="1652" y="870">0</text>
</g>
<g font-size="18.5" fill="#3d4654"><text x="349.6" y="903" text-anchor="middle" textLength="58.5" lengthAdjust="spacingAndGlyphs">Jan &#39;21</text><text x="527.8" y="903" text-anchor="middle" textLength="58.0" lengthAdjust="spacingAndGlyphs">Apr &#39;21</text><text x="708.8" y="903" text-anchor="middle" textLength="52.5" lengthAdjust="spacingAndGlyphs">Jul &#39;21</text><text x="890.8" y="903" text-anchor="middle" textLength="59.0" lengthAdjust="spacingAndGlyphs">Oct &#39;21</text><text x="1072.0" y="903" text-anchor="middle" textLength="60.0" lengthAdjust="spacingAndGlyphs">Jan &#39;22</text><text x="1250.8" y="903" text-anchor="middle" textLength="60.0" lengthAdjust="spacingAndGlyphs">Apr &#39;22</text><text x="1431.8" y="903" text-anchor="middle" textLength="53.5" lengthAdjust="spacingAndGlyphs">Jul &#39;22</text><text x="1612.8" y="903" text-anchor="middle" textLength="61.0" lengthAdjust="spacingAndGlyphs">Oct &#39;22</text></g>
<path d="M205.0 357.5L425.9 219.4M421.8 228.3L425.9 219.4L416.1 219.2" fill="none" stroke="#111" stroke-width="3.0" stroke-linecap="round" stroke-linejoin="round"/><path d="M641.0 241.0L908.0 483.0M898.3 481.5L908.0 483.0L905.5 473.6" fill="none" stroke="#111" stroke-width="3.0" stroke-linecap="round" stroke-linejoin="round"/><path d="M1493.5 438.0L1600.8 475.3M1591.3 477.6L1600.8 475.3L1594.8 467.5" fill="none" stroke="#111" stroke-width="3.0" stroke-linecap="round" stroke-linejoin="round"/><path d="M1603.0 516.5L1646.4 492.3M1641.8 501.0L1646.4 492.3L1636.6 491.7" fill="none" stroke="#111" stroke-width="3.0" stroke-linecap="round" stroke-linejoin="round"/>
<g font-size="23.5" font-weight="bold" fill="#000" stroke="#000" stroke-width="0.45" stroke-linejoin="round"><text x="397.0" y="149.3" text-anchor="middle" textLength="150.0" lengthAdjust="spacingAndGlyphs">Accumulation</text><text x="397.5" y="181.8" text-anchor="middle" textLength="143.0" lengthAdjust="spacingAndGlyphs">durant le Bull</text><text x="798.5" y="241.3" text-anchor="middle" textLength="126.0" lengthAdjust="spacingAndGlyphs">Distribution</text><text x="798.7" y="274.3" text-anchor="middle" textLength="151.5" lengthAdjust="spacingAndGlyphs">durant le Bear</text><text x="1478.0" y="340.0" text-anchor="middle" textLength="240.5" lengthAdjust="spacingAndGlyphs">Maturation STH &gt; LTH</text><text x="1478.0" y="373.0" text-anchor="middle">+</text><text x="1478.0" y="406.0" text-anchor="middle" textLength="125.5" lengthAdjust="spacingAndGlyphs">Dsitribution</text><text x="1714.4" y="536.8" text-anchor="middle" textLength="150.3" lengthAdjust="spacingAndGlyphs">Accumulation</text><text x="1714.6" y="569.8" text-anchor="middle" textLength="82.3" lengthAdjust="spacingAndGlyphs">récente</text></g>
<text x="38" y="75.6" font-size="31" fill="#2e2e2e" stroke="#2e2e2e" stroke-width="0.3" textLength="453" lengthAdjust="spacingAndGlyphs">BTC: Short Term On-Chain Pain</text>
<text x="38" y="975.3" font-size="20" fill="#777" textLength="378" lengthAdjust="spacingAndGlyphs">© 2022 Glassnode. All Rights Reserved.</text>
<g fill="none" stroke="#000" stroke-width="4.1"><circle cx="1581.50" cy="967.55" r="9.00"/><path d="M1590.90 956.8V975.4A9.00 9.00 0 0 1 1574.50 980.60"/><path d="M1599.5 948.3V978.5"/><circle cx="1616.30" cy="967.55" r="9.00"/><path d="M1625.5 956.8V978.5"/><path transform="translate(0.0 0)" d="M1645.2 962.3C1644.3 959.7 1641.9 958.5 1639 958.5C1635.6 958.5 1633.1 960.4 1633.1 963.2C1633.1 969.6 1645 966.1 1645 972.4C1645 975 1642.4 976.6 1639 976.6C1635.8 976.6 1633.2 975.2 1632.4 972.4"/><path transform="translate(17.9 0)" d="M1645.2 962.3C1644.3 959.7 1641.9 958.5 1639 958.5C1635.6 958.5 1633.1 960.4 1633.1 963.2C1633.1 969.6 1645 966.1 1645 972.4C1645 975 1642.4 976.6 1639 976.6C1635.8 976.6 1633.2 975.2 1632.4 972.4"/><path d="M1670.1 956.8V978.5M1670.1 966.2A7.4 7.4 0 0 1 1684.9 966.2V978.5"/><circle cx="1701.2" cy="967.55" r="9.00"/><circle cx="1725.5" cy="967.55" r="9.00"/><path d="M1734.8 949.2V978.5"/><path d="M1742.30 968.05H1760.30A9.00 9.00 0 1 0 1758.76 972.58"/></g>

</svg>
</body></html>
